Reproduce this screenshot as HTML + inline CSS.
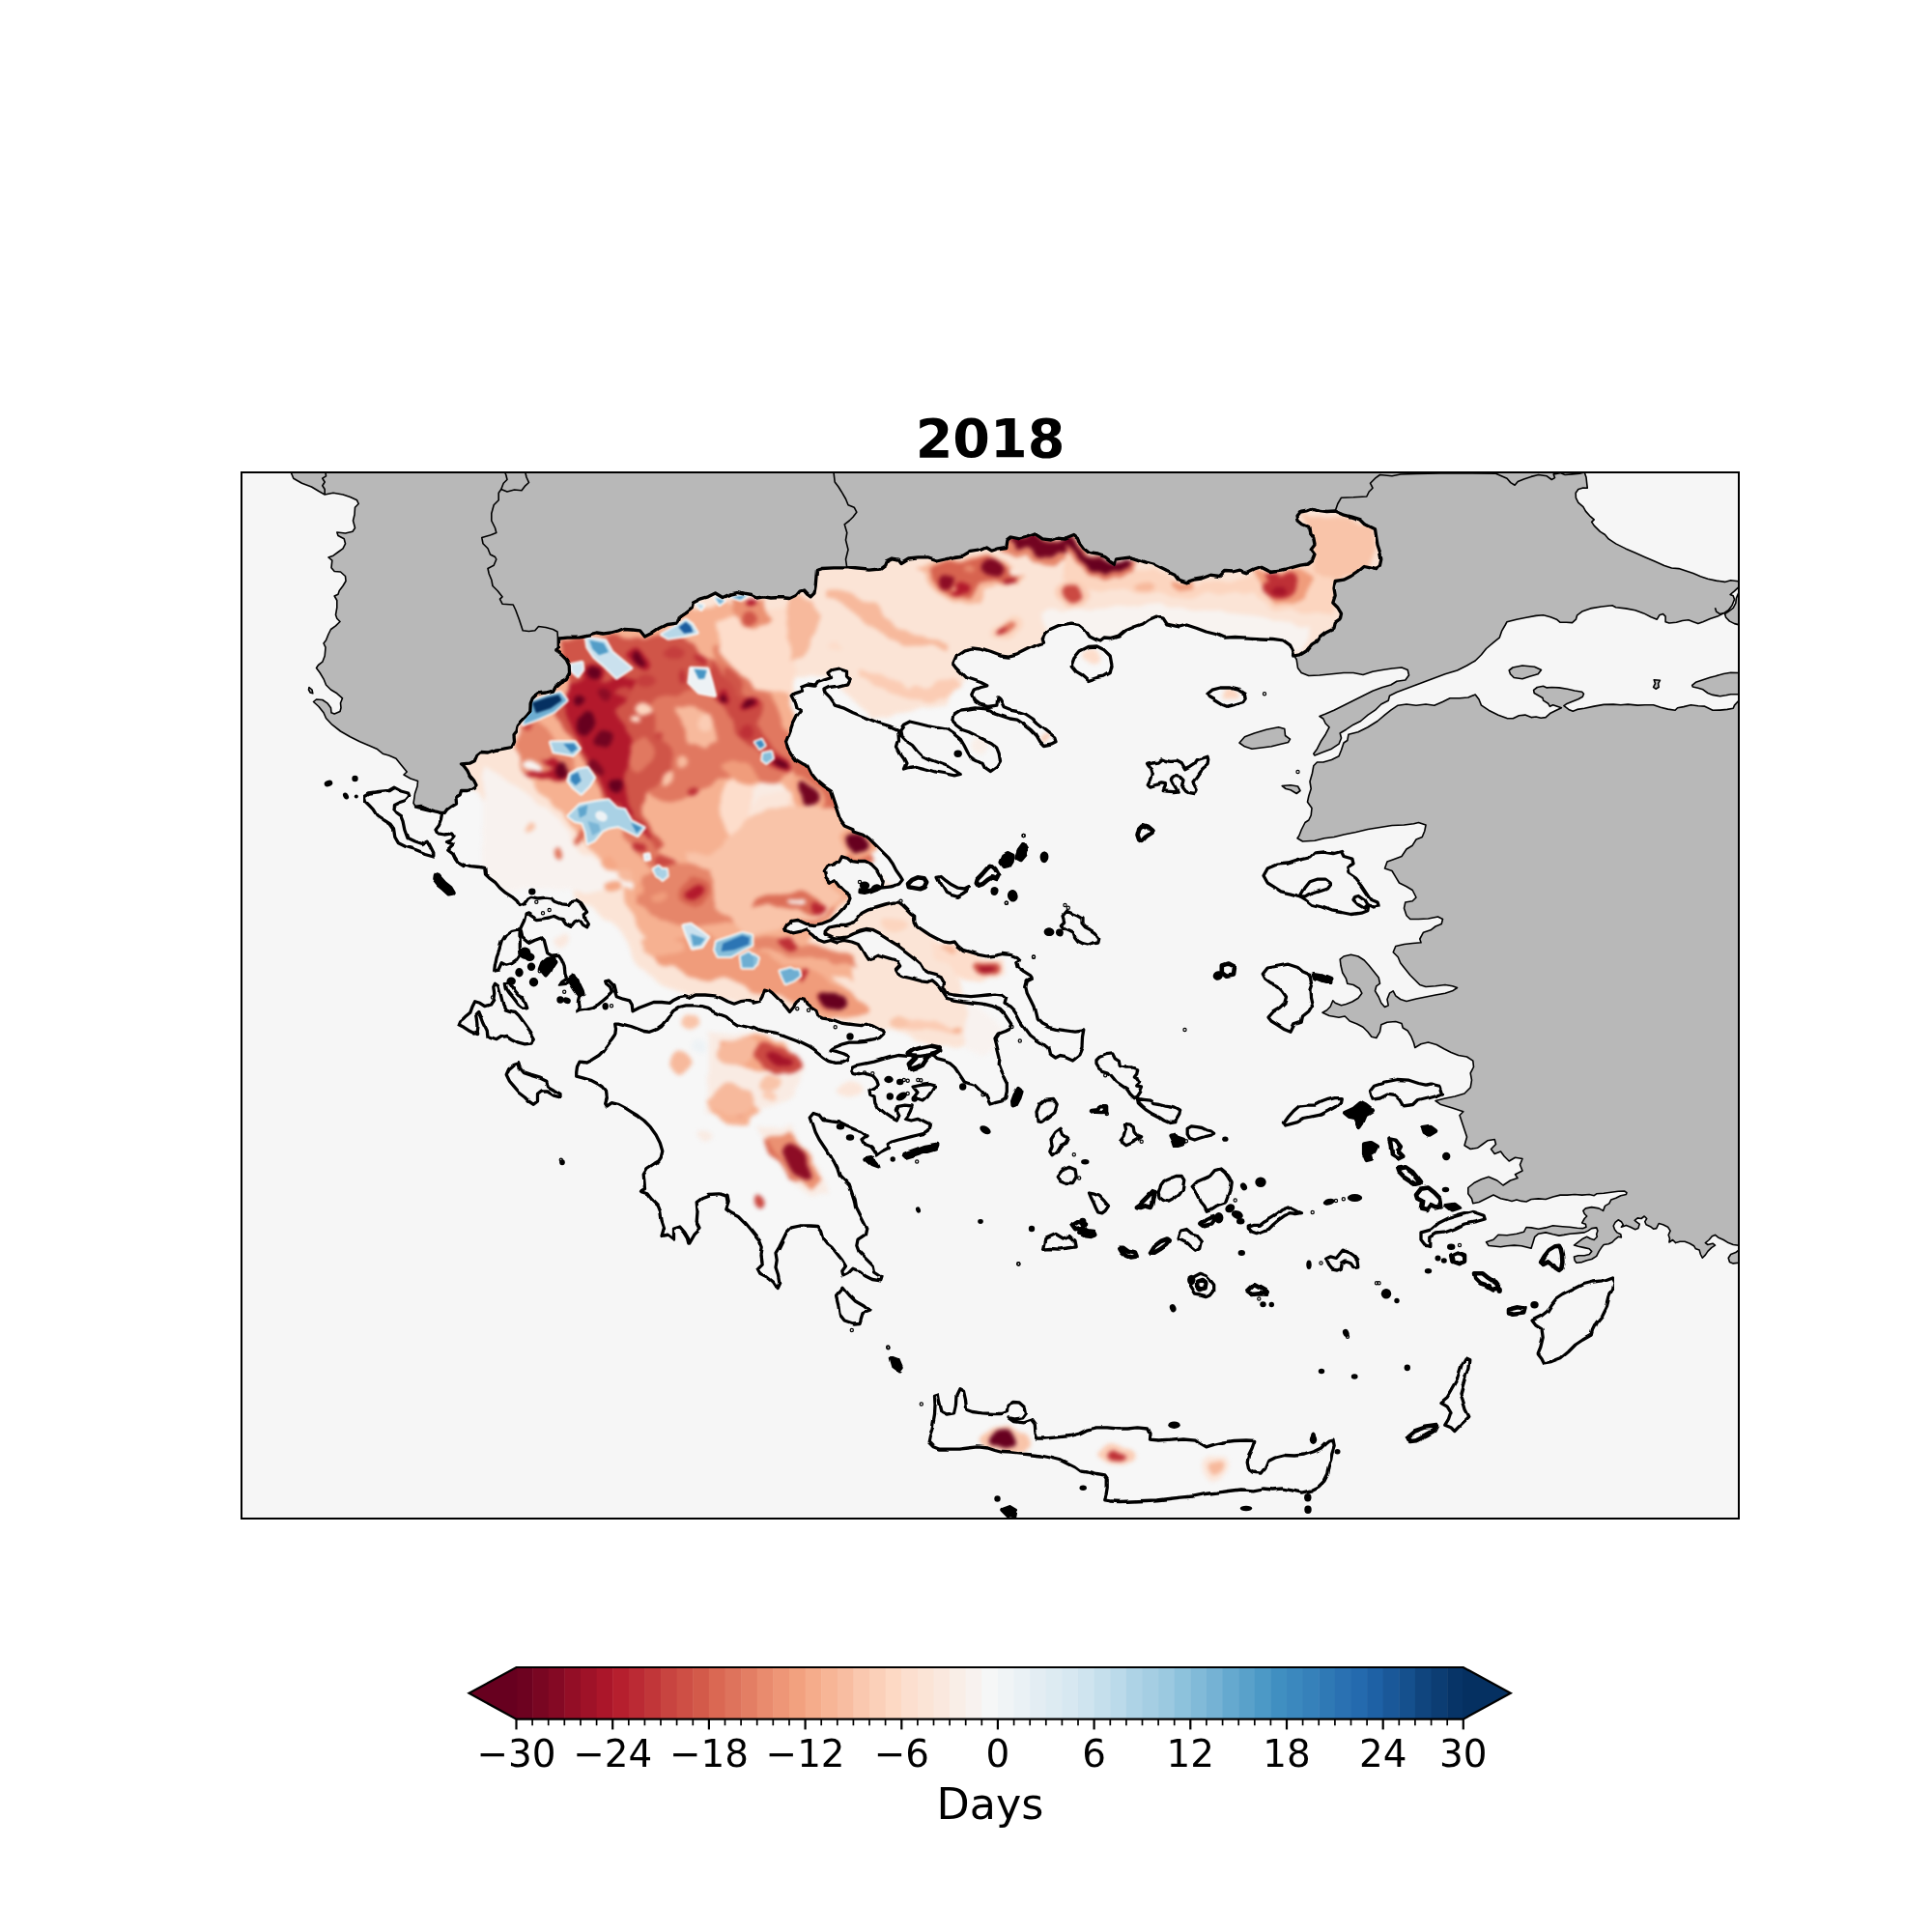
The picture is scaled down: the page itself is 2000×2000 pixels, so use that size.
<!DOCTYPE html>
<html><head><meta charset="utf-8"><title>2018</title>
<style>
html,body{margin:0;padding:0;background:#fff}
svg{display:block}
text{font-family:"DejaVu Sans","Liberation Sans",sans-serif;fill:#000}
</style></head><body>
<svg width="2000" height="2000" viewBox="0 0 2000 2000">
<rect x="0" y="0" width="2000" height="2000" fill="#ffffff"/>
<defs>
<clipPath id="frame"><rect x="250" y="489" width="1550" height="1083"/></clipPath>
<clipPath id="heatclip"><path d="M430.5,835.2 436.2,834.5 442.5,837.2 450.0,839.8 458.8,841.5 461.2,841.5 463.8,837.8 467.5,835.2 472.5,832.0 472.0,825.2 476.2,822.8 477.5,818.5 483.8,818.5 490.0,816.5 493.0,812.8 490.5,807.8 486.2,802.8 483.8,797.8 480.0,792.8 477.5,790.8 486.2,790.2 491.2,787.8 493.8,781.5 497.5,778.5 505.0,779.0 512.5,776.5 521.2,775.2 530.0,773.5 532.5,767.8 532.0,761.5 535.0,757.8 536.2,751.5 540.0,746.5 545.0,741.5 548.8,736.5 549.2,729.0 551.2,724.0 557.5,717.8 565.0,717.0 572.5,715.2 575.0,710.2 580.0,706.0 586.2,702.8 589.5,696.5 589.2,689.0 586.2,682.8 581.2,677.8 575.0,673.5 577.5,670.2 577.5,661.0 587.5,660.2 600.0,659.8 610.0,657.8 617.5,656.0 625.0,657.0 632.5,656.0 640.0,654.0 646.2,651.5 655.0,652.0 662.5,652.8 667.5,659.0 675.0,655.2 682.5,650.2 690.0,646.5 700.0,645.2 702.5,639.0 710.0,634.0 716.2,629.0 717.5,624.0 725.0,620.2 733.0,617.8 733.0,617.8 740.5,614.0 748.0,618.5 755.5,615.2 763.0,613.5 770.5,615.2 778.0,616.5 783.0,619.0 790.5,617.8 798.0,619.0 808.0,618.5 818.0,619.5 824.2,616.5 828.0,612.0 831.8,611.0 835.5,615.2 839.2,617.8 843.0,614.0 844.2,606.5 845.0,596.5 845.5,590.2 850.5,588.5 863.0,587.8 876.8,587.8 888.0,589.0 900.5,590.2 911.8,589.0 916.8,585.2 918.0,582.0 924.2,579.0 930.5,580.2 933.0,583.5 940.5,579.0 950.5,577.8 960.5,577.8 970.5,581.0 979.2,579.0 988.0,576.5 998.0,575.2 1004.2,571.5 1013.0,570.2 1020.5,567.0 1025.5,570.2 1033.0,567.8 1041.8,566.5 1043.0,559.0 1046.8,556.0 1055.5,557.8 1063.0,556.0 1071.8,552.8 1079.2,557.8 1088.0,559.0 1095.5,556.5 1103.0,557.0 1111.8,553.5 1115.5,556.5 1118.0,562.8 1121.8,567.8 1128.0,572.8 1135.5,574.0 1143.0,576.5 1149.2,581.5 1154.2,584.5 1155.5,579.0 1163.0,577.8 1170.5,577.0 1178.0,579.5 1185.5,582.0 1193.0,584.0 1200.5,587.8 1208.0,591.5 1216.0,595.2 1216.0,595.2 1219.8,600.2 1227.2,602.8 1236.0,600.2 1243.5,599.0 1253.5,595.2 1263.5,596.5 1268.5,591.5 1276.0,592.0 1283.5,590.2 1291.0,592.8 1298.5,589.0 1306.0,586.5 1311.0,589.0 1316.0,591.5 1326.0,590.2 1336.0,587.8 1346.0,585.2 1353.5,584.0 1358.5,580.2 1361.0,574.0 1357.2,569.0 1361.0,564.0 1359.8,557.8 1356.0,552.8 1354.8,545.2 1348.5,542.8 1344.0,539.0 1343.0,534.0 1346.0,530.2 1352.2,529.0 1358.5,526.5 1366.0,528.5 1373.5,529.5 1382.2,529.0 1391.0,532.8 1399.8,535.2 1408.5,537.8 1413.5,542.8 1423.5,547.8 1424.8,556.5 1426.0,564.0 1428.5,571.5 1429.8,579.0 1428.5,585.2 1424.8,589.5 1418.5,587.8 1412.2,586.5 1406.0,591.5 1398.5,596.5 1391.0,600.2 1382.2,601.5 1381.0,609.0 1382.2,616.5 1379.8,624.0 1384.8,629.0 1388.5,635.2 1387.2,641.5 1382.2,645.2 1381.0,650.2 1373.5,654.0 1367.2,659.0 1363.5,664.0 1357.2,667.8 1352.2,674.0 1346.0,677.8 1339.8,679.0 1338.5,674.0 1335.5,667.8 1328.5,662.8 1318.5,661.5 1306.0,661.0 1291.0,660.2 1278.5,659.5 1267.2,660.2 1258.5,656.5 1248.5,654.0 1238.5,650.2 1228.5,647.0 1221.0,649.0 1216.0,647.8 1216.0,647.8 1208.0,646.0 1204.2,640.2 1196.8,638.2 1189.2,641.5 1183.0,646.0 1174.2,649.0 1165.5,652.8 1158.0,659.0 1149.2,661.5 1143.0,661.0 1139.2,664.0 1135.5,662.8 1128.0,659.0 1123.0,651.5 1116.8,646.5 1108.0,645.2 1098.0,647.0 1088.0,651.5 1081.8,656.5 1079.2,661.5 1080.5,665.2 1073.0,667.8 1063.0,672.8 1053.0,677.8 1044.2,680.2 1035.5,679.0 1025.5,675.2 1015.5,672.0 1006.8,671.0 998.0,672.8 990.5,677.8 986.8,686.5 990.5,691.5 995.5,696.5 1000.5,701.5 1008.0,704.0 1015.5,706.5 1021.8,709.8 1015.5,711.5 1009.2,714.0 1006.8,719.0 1009.2,725.2 1014.2,729.0 1023.0,731.5 1031.8,730.2 1033.0,722.8 1035.5,725.2 1039.2,732.8 1045.5,735.2 1053.0,736.5 1060.5,739.0 1068.0,744.0 1073.0,749.0 1079.2,754.0 1085.5,759.0 1091.8,764.0 1093.0,767.8 1088.0,770.2 1080.5,771.5 1076.8,767.8 1073.0,761.5 1066.8,755.2 1060.5,750.2 1053.0,745.2 1045.5,744.0 1038.0,741.5 1030.5,739.0 1025.5,735.2 1018.0,733.5 1010.5,732.8 1003.0,734.0 994.2,735.2 988.0,739.0 986.8,745.2 990.5,751.5 995.5,755.2 1003.0,757.8 1010.5,761.5 1018.0,765.2 1025.5,769.0 1031.8,774.0 1034.2,780.2 1035.5,787.8 1031.8,794.0 1025.5,798.5 1020.5,795.2 1018.0,790.2 1010.5,787.8 1005.5,785.2 1001.8,779.0 998.0,771.5 994.2,765.2 988.0,760.2 980.5,755.2 970.5,753.5 960.5,751.5 950.5,749.0 941.8,747.0 935.5,750.2 931.8,755.2 933.0,761.5 938.0,766.5 945.5,771.5 950.5,777.8 955.5,782.8 963.0,786.5 973.0,790.2 983.0,794.0 990.5,799.0 994.2,801.5 988.0,802.8 979.2,801.0 968.0,799.0 958.0,796.0 948.0,793.5 940.5,794.5 935.5,796.0 938.0,790.2 935.5,785.2 931.8,780.2 928.5,774.0 930.5,766.5 930.0,759.0 929.2,755.2 920.5,751.5 908.0,747.8 895.5,742.8 883.0,737.8 873.0,732.8 864.2,730.2 859.2,722.8 854.2,717.8 853.0,714.0 858.0,711.5 868.0,710.2 876.8,707.8 879.2,702.8 875.5,699.0 875.5,694.0 869.2,692.0 861.8,693.5 858.0,696.5 860.5,701.5 853.0,704.0 845.5,706.5 843.0,710.2 835.5,709.0 829.2,711.5 830.5,715.2 821.8,717.8 819.2,720.2 822.5,726.5 824.2,732.8 829.2,735.2 824.2,741.5 820.5,749.0 818.0,756.5 815.5,762.8 813.5,767.8 815.5,775.2 819.2,781.5 823.0,786.5 829.2,790.2 836.8,794.0 840.5,801.5 845.5,807.8 853.0,814.0 860.5,819.0 863.0,826.5 865.5,834.0 868.0,841.5 870.5,849.0 874.2,854.0 883.0,857.8 883.3,860.0 893.3,863.3 900.0,868.3 906.7,875.0 913.3,881.7 920.0,888.3 924.2,894.2 927.5,900.8 931.7,906.7 934.2,910.8 930.8,915.0 925.0,917.5 918.3,918.3 911.7,919.2 906.7,921.7 900.0,924.2 895.0,925.3 890.0,924.7 890.3,922.0 895.0,922.3 900.0,921.3 905.0,920.3 910.0,918.7 913.3,916.3 914.2,912.5 911.7,906.7 908.3,900.8 903.3,895.8 896.7,892.5 890.0,892.5 883.3,891.7 878.3,887.5 872.5,885.8 870.0,890.8 863.3,895.0 856.7,896.7 853.3,901.7 855.0,908.3 859.2,913.3 863.3,910.8 866.7,915.0 870.0,919.2 873.3,922.5 878.3,925.8 880.0,930.0 878.3,934.2 875.8,936.7 873.3,940.0 866.7,946.7 860.0,952.5 851.7,955.8 843.3,957.5 833.3,956.3 825.0,952.5 819.2,953.3 815.0,956.7 812.5,960.8 813.3,963.3 820.0,965.8 828.3,964.2 835.0,961.7 841.7,966.7 846.7,971.7 853.3,974.2 860.0,972.5 866.7,975.0 873.3,973.3 881.7,975.0 888.3,977.5 891.7,982.5 895.0,988.3 898.3,993.3 903.3,991.7 908.3,989.2 913.3,990.8 921.7,993.3 929.2,995.8 931.7,1000.0 927.5,1004.2 930.0,1008.3 935.0,1010.8 941.7,1012.5 948.3,1014.2 955.0,1015.8 960.8,1016.7 965.0,1014.7 969.2,1018.3 973.3,1023.3 976.7,1028.3 980.0,1033.3 986.7,1035.0 996.7,1036.7 1006.7,1038.0 1016.7,1039.2 1026.7,1041.7 1035.0,1045.0 1040.0,1050.0 1043.3,1055.0 1046.7,1060.0 1045.0,1065.0 1040.0,1067.5 1033.3,1070.0 1030.0,1075.0 1031.7,1081.7 1033.3,1088.3 1035.0,1095.0 1034.2,1101.7 1036.7,1108.3 1040.0,1115.0 1043.3,1121.7 1043.3,1130.0 1041.7,1136.7 1036.7,1140.0 1030.0,1141.7 1025.0,1143.3 1022.5,1138.3 1020.0,1133.3 1015.0,1128.3 1010.0,1123.3 1003.3,1121.7 998.3,1120.0 995.0,1115.0 991.7,1110.0 988.3,1105.0 983.3,1100.8 976.7,1098.3 970.0,1096.7 966.7,1093.3 960.0,1092.5 953.3,1093.3 946.7,1093.0 940.0,1093.3 930.0,1092.5 921.7,1094.2 913.3,1096.7 905.0,1099.2 896.7,1100.8 888.3,1102.5 882.5,1105.0 880.8,1109.2 883.3,1111.7 890.0,1112.5 896.7,1111.7 903.3,1113.3 906.7,1117.5 908.3,1122.5 905.0,1125.8 900.0,1128.3 900.8,1133.3 905.0,1135.0 905.8,1141.7 908.3,1146.7 913.3,1150.0 918.3,1154.2 923.3,1157.5 928.3,1160.0 930.8,1155.0 928.3,1150.0 930.0,1145.3 936.7,1144.2 944.2,1145.0 942.5,1150.0 940.0,1155.0 937.5,1158.3 943.3,1160.0 950.0,1158.3 956.7,1161.7 963.3,1165.0 961.7,1170.0 956.7,1173.3 950.0,1175.0 943.3,1176.7 936.7,1178.3 930.0,1180.0 923.3,1182.0 919.2,1184.5 920.5,1189.5 913.0,1193.2 908.0,1197.0 905.5,1192.0 901.8,1187.0 895.5,1184.5 893.0,1179.5 898.0,1175.8 893.0,1172.0 885.5,1169.5 876.8,1165.8 869.2,1162.0 860.5,1160.8 853.0,1159.5 849.2,1154.5 843.0,1152.5 839.2,1157.0 841.8,1164.5 844.2,1172.0 848.0,1179.5 853.0,1187.0 858.0,1194.5 863.0,1202.0 866.8,1209.5 869.2,1217.0 874.2,1222.0 879.2,1227.0 881.8,1234.5 884.2,1242.0 885.5,1249.5 889.2,1257.0 893.0,1264.5 896.8,1272.0 895.5,1278.2 888.0,1283.2 886.8,1289.5 889.2,1295.8 894.2,1300.8 899.2,1305.8 904.2,1310.8 905.5,1317.0 913.0,1322.0 911.8,1325.8 903.0,1324.5 895.5,1320.8 889.2,1315.8 883.0,1313.2 878.0,1318.2 873.0,1320.8 871.8,1315.8 875.5,1310.8 871.8,1304.5 866.8,1298.2 861.8,1292.0 856.8,1288.2 853.0,1283.2 850.5,1274.5 846.8,1269.5 838.0,1269.0 828.0,1269.0 819.2,1270.8 814.2,1275.8 810.5,1283.2 806.8,1290.8 803.0,1297.0 804.2,1304.5 803.0,1312.0 805.5,1319.5 806.8,1327.0 804.2,1332.5 800.5,1327.0 794.2,1322.0 786.8,1318.2 784.2,1313.2 789.2,1308.2 788.0,1299.5 789.2,1292.0 786.8,1285.8 781.8,1279.5 776.8,1273.2 770.5,1265.8 764.2,1259.5 756.8,1255.8 751.8,1252.0 754.2,1244.5 753.0,1238.2 745.5,1235.8 733.0,1236.5 733.0,1238.2 726.2,1240.8 721.2,1244.5 722.0,1254.5 721.2,1264.5 725.0,1272.0 718.8,1278.2 713.8,1287.0 712.5,1282.0 708.8,1275.8 703.8,1270.0 697.5,1272.0 697.5,1283.2 691.2,1278.2 685.0,1279.5 687.5,1270.8 685.0,1263.2 683.8,1254.5 681.2,1248.2 675.0,1242.0 670.0,1235.8 662.5,1233.2 667.5,1230.8 667.0,1224.5 666.2,1215.8 670.0,1209.5 677.5,1204.5 681.7,1202.0 684.2,1198.3 685.8,1191.7 683.3,1183.3 679.2,1175.0 673.3,1166.7 666.7,1160.0 660.0,1155.0 653.3,1150.8 646.7,1146.7 640.0,1143.3 633.3,1141.7 628.3,1145.0 626.7,1142.5 628.3,1136.7 627.5,1130.0 623.3,1125.0 618.3,1121.7 611.7,1118.3 603.3,1115.8 596.7,1114.2 596.7,1110.0 597.5,1104.2 600.0,1099.2 606.7,1100.0 613.3,1096.7 620.0,1092.5 625.0,1087.5 629.2,1081.7 633.3,1076.7 636.7,1071.7 637.5,1065.0 636.7,1059.2 640.0,1059.2 646.7,1060.8 653.3,1062.5 660.0,1065.0 666.7,1067.5 673.3,1068.3 680.0,1065.8 685.0,1062.5 690.0,1056.7 693.3,1051.7 696.7,1046.7 703.3,1042.5 710.0,1040.8 718.3,1040.8 726.7,1041.7 733.3,1043.3 738.3,1046.7 745.0,1050.0 751.7,1052.5 756.7,1056.7 763.3,1060.8 771.7,1062.5 778.3,1064.2 780.0,1063.3 785.0,1065.8 791.7,1067.5 798.3,1068.3 805.0,1069.7 811.7,1071.7 818.3,1074.2 825.0,1076.7 831.7,1080.0 838.3,1083.3 843.3,1086.7 848.3,1090.8 853.3,1095.0 858.3,1098.3 865.0,1100.3 871.7,1100.0 876.7,1097.5 878.3,1093.3 873.3,1090.8 866.7,1088.7 860.0,1087.0 861.7,1085.3 866.7,1083.3 873.3,1080.8 880.0,1079.2 888.3,1079.2 896.7,1078.3 905.0,1076.7 911.7,1074.2 915.8,1070.0 914.2,1066.7 908.3,1064.2 901.7,1060.8 896.7,1059.2 891.7,1061.7 885.0,1060.8 878.3,1060.0 871.7,1059.2 865.0,1056.7 858.3,1055.0 851.7,1054.2 846.7,1051.7 845.0,1046.7 840.0,1043.3 835.0,1039.2 832.5,1034.2 828.3,1033.3 824.2,1036.7 821.7,1042.5 817.5,1047.5 814.2,1043.3 810.0,1038.3 805.0,1033.3 800.0,1028.3 795.8,1025.0 792.5,1024.2 790.0,1031.7 786.7,1037.5 780.0,1039.2 780.0,1037.5 773.3,1035.8 766.7,1036.7 760.0,1039.2 753.3,1036.7 746.7,1033.3 740.0,1030.8 730.0,1030.0 720.0,1030.0 713.3,1033.3 708.3,1031.7 703.3,1032.5 696.7,1035.8 693.3,1038.3 685.0,1037.5 676.7,1037.5 668.3,1040.8 661.7,1043.3 655.0,1046.7 654.2,1040.0 651.7,1035.8 645.0,1034.2 638.3,1031.7 636.7,1026.7 635.0,1020.0 630.0,1015.0 626.7,1015.8 627.5,1018.3 631.7,1021.7 633.3,1026.7 630.0,1030.0 625.0,1034.2 620.0,1038.3 613.3,1042.5 606.7,1044.2 600.0,1045.0 596.7,1046.7 599.2,1041.7 598.3,1036.7 600.0,1030.0 603.3,1028.3 600.0,1023.3 596.7,1016.7 595.0,1010.0 590.0,1013.3 586.7,1018.3 580.0,1019.2 581.7,1016.7 586.7,1013.3 585.0,1008.3 584.2,1000.0 581.7,993.3 578.3,988.3 570.8,989.2 566.7,986.7 565.0,980.0 563.3,973.3 560.0,970.0 553.3,972.5 546.7,975.8 540.8,970.8 538.7,961.3 542.5,953.3 544.2,946.7 546.7,945.8 551.7,949.2 556.7,951.7 563.3,950.8 568.3,950.0 573.3,948.3 578.3,950.8 583.3,951.7 586.7,956.7 591.7,959.2 595.0,955.0 599.2,953.3 602.5,958.3 606.7,960.8 608.3,956.7 605.0,951.7 604.2,946.7 607.5,944.2 605.0,940.0 601.7,935.0 596.7,931.7 591.7,932.5 588.3,936.7 581.7,935.8 575.0,933.3 571.7,930.0 565.0,929.2 556.7,930.0 550.0,928.3 546.7,930.0 542.5,935.8 538.3,937.5 535.0,932.5 530.0,928.3 523.3,924.2 517.5,919.2 512.5,913.3 506.7,909.2 502.5,905.0 501.7,898.3 496.7,897.5 488.3,896.7 480.0,895.0 480.0,896.5 473.8,892.8 471.2,889.0 468.8,884.0 463.8,880.2 466.2,877.8 470.0,874.0 462.5,871.5 467.0,870.2 470.0,866.5 467.5,862.8 460.0,864.0 453.8,862.8 452.0,859.0 455.5,854.5 457.5,849.0 458.8,842.0Z"/><path d="M854.2,966.7 854.2,964.2 858.3,960.0 866.7,958.3 875.0,958.3 883.3,955.8 888.3,950.0 893.3,944.2 900.0,940.8 908.3,938.3 916.7,935.8 925.0,934.2 930.8,934.2 935.0,937.5 939.2,941.7 943.3,945.8 946.7,948.3 946.7,953.3 949.2,958.3 953.3,961.7 958.3,965.0 963.3,968.3 970.0,971.7 976.7,975.0 983.3,975.8 988.3,975.0 991.7,979.2 996.7,983.3 1005.0,985.8 1013.3,988.3 1021.7,990.0 1030.0,989.2 1038.3,987.5 1046.7,988.3 1053.3,990.8 1055.8,993.3 1051.7,995.8 1053.3,1001.7 1060.0,1006.7 1066.7,1010.8 1068.3,1013.3 1063.3,1015.8 1061.7,1021.7 1063.3,1028.3 1066.7,1035.0 1070.0,1041.7 1071.7,1048.3 1073.3,1055.0 1078.3,1060.0 1085.0,1063.3 1093.3,1065.3 1102.0,1066.7 1113.0,1068.2 1121.8,1067.0 1120.5,1074.5 1120.0,1084.5 1116.8,1092.0 1110.5,1097.0 1102.0,1093.3 1096.7,1092.5 1091.7,1095.0 1086.7,1091.7 1085.0,1085.0 1080.0,1080.8 1073.3,1076.7 1066.7,1071.7 1061.7,1065.0 1056.7,1058.3 1053.3,1051.7 1050.0,1046.7 1045.0,1041.7 1040.0,1039.2 1041.7,1033.3 1037.5,1030.0 1030.0,1029.2 1021.7,1030.0 1013.3,1030.8 1005.0,1031.7 996.7,1030.8 988.3,1030.0 980.0,1028.3 976.7,1022.5 977.5,1016.7 974.2,1010.8 968.3,1008.3 961.7,1006.7 956.7,1003.3 953.3,997.5 948.3,993.3 943.3,989.2 936.7,984.2 930.0,979.2 923.3,975.0 916.7,970.8 910.0,966.7 903.3,963.3 896.7,962.5 890.0,964.2 883.3,966.7 876.7,970.0 870.0,970.8 863.3,970.8 858.3,968.3Z"/><path d="M967.5,1445.2 971.2,1444.0 972.5,1451.5 975.0,1461.5 980.0,1464.0 987.5,1462.8 989.5,1454.0 990.0,1444.0 993.0,1437.8 997.5,1440.2 999.5,1449.0 1000.5,1459.0 1007.5,1461.5 1017.5,1462.8 1027.5,1463.5 1037.5,1463.5 1042.5,1461.5 1043.0,1455.2 1048.8,1451.5 1056.2,1452.0 1061.2,1456.5 1062.5,1462.8 1058.8,1467.8 1051.2,1469.0 1045.0,1467.8 1050.0,1471.5 1060.0,1472.8 1067.5,1470.2 1071.2,1475.2 1072.0,1484.0 1073.8,1489.0 1082.5,1489.0 1095.0,1487.8 1107.5,1486.5 1117.5,1484.0 1125.0,1480.2 1135.0,1477.8 1146.2,1477.8 1157.5,1479.0 1167.5,1479.0 1177.5,1477.8 1187.5,1479.0 1190.0,1484.0 1189.5,1490.2 1200.0,1491.0 1212.5,1490.2 1225.0,1489.0 1237.5,1490.2 1242.5,1494.0 1248.8,1497.8 1257.5,1495.2 1267.5,1492.8 1277.5,1491.5 1290.0,1491.0 1298.8,1491.5 1296.2,1499.0 1292.5,1506.5 1291.2,1514.0 1292.5,1520.2 1297.5,1524.0 1305.0,1525.2 1310.0,1519.0 1312.5,1512.8 1320.0,1509.0 1330.0,1506.5 1340.0,1507.0 1350.0,1506.0 1360.0,1502.8 1367.5,1499.0 1372.5,1494.0 1376.2,1491.0 1380.0,1490.2 1381.2,1496.5 1378.8,1504.0 1377.5,1511.5 1375.0,1519.0 1373.8,1526.5 1370.0,1534.0 1365.0,1539.0 1357.5,1542.8 1347.5,1545.2 1337.5,1542.8 1327.5,1541.0 1317.5,1542.0 1307.5,1541.0 1297.5,1542.8 1285.0,1542.0 1272.5,1543.5 1260.0,1545.2 1247.5,1546.5 1235.0,1549.0 1222.5,1550.2 1210.0,1551.5 1197.5,1552.8 1185.0,1553.5 1172.5,1554.0 1160.0,1554.5 1150.0,1554.0 1143.8,1552.8 1145.0,1546.5 1146.2,1539.0 1146.2,1531.5 1143.8,1527.8 1135.0,1526.5 1125.0,1524.0 1117.5,1522.8 1112.5,1519.0 1105.0,1515.2 1097.5,1511.5 1087.5,1509.0 1077.5,1507.0 1067.5,1506.0 1057.5,1505.2 1047.5,1504.0 1037.5,1503.5 1030.0,1501.5 1022.5,1499.0 1012.5,1497.8 1002.5,1499.0 992.5,1500.2 982.5,1500.2 972.5,1500.2 966.2,1497.8 961.2,1492.8 962.5,1486.5 965.0,1479.0 966.2,1471.5 967.5,1464.0 968.0,1454.0Z"/><path d="M1109.2,689.0 1111.8,681.5 1118.0,674.0 1126.8,669.5 1135.5,669.0 1143.0,672.8 1149.2,679.0 1151.0,689.0 1149.2,696.5 1143.0,700.2 1135.5,701.5 1126.8,704.5 1120.5,699.0 1114.2,695.2Z"/><path d="M1250.0,718.3 1255.0,714.2 1263.3,712.0 1273.3,712.0 1281.7,714.2 1288.3,718.3 1289.2,723.3 1286.7,726.7 1278.3,729.2 1270.0,731.3 1265.0,729.2 1258.3,725.0 1252.5,721.7Z"/></clipPath>
<filter id="hblur" x="-5%" y="-5%" width="110%" height="110%" color-interpolation-filters="sRGB"><feTurbulence type="fractalNoise" baseFrequency="0.035" numOctaves="2" seed="7" result="n"/><feDisplacementMap in="SourceGraphic" in2="n" scale="16" xChannelSelector="R" yChannelSelector="G" result="d"/><feGaussianBlur in="d" stdDeviation="2.2"/></filter>
<filter id="bblur" x="-5%" y="-5%" width="110%" height="110%" color-interpolation-filters="sRGB"><feGaussianBlur stdDeviation="0.9"/></filter>
<filter id="rough" x="0" y="0" width="100%" height="100%" filterUnits="objectBoundingBox"><feTurbulence type="fractalNoise" baseFrequency="0.06" numOctaves="1" seed="3" result="n"/><feDisplacementMap in="SourceGraphic" in2="n" scale="4.5" xChannelSelector="R" yChannelSelector="G"/></filter>
</defs>
<g clip-path="url(#frame)">
<rect x="250" y="489" width="1550" height="1083" fill="#f6f6f6"/>
<g fill="#b8b8b8" stroke="#000" stroke-width="1.6" stroke-linejoin="round">
<path d="M301.2,480.0 301.2,489.0 303.8,495.2 312.5,500.2 322.5,504.0 330.0,508.5 336.2,512.0 345.0,510.2 355.0,512.0 362.5,514.5 369.5,517.8 371.2,521.5 367.5,525.2 367.0,532.8 365.5,539.0 367.5,546.5 365.0,550.2 357.5,552.0 348.8,551.0 350.0,554.5 356.2,557.8 357.5,562.8 355.0,567.8 350.0,571.5 345.0,575.2 340.0,577.0 343.8,580.2 343.0,587.8 346.2,591.5 352.5,592.0 357.5,596.5 358.0,601.5 355.0,606.5 351.2,611.5 350.0,615.2 346.2,617.0 348.8,621.5 348.8,629.0 347.5,636.5 348.8,640.2 352.0,643.5 347.5,647.8 342.5,651.5 340.0,656.5 337.5,662.8 335.0,666.0 337.0,670.2 336.2,679.0 333.8,685.2 329.5,688.5 327.5,691.5 331.2,696.5 335.0,702.8 337.5,709.0 342.5,714.0 348.8,717.8 354.5,722.8 352.5,727.8 353.0,732.8 352.0,736.5 346.2,739.0 343.0,737.8 342.5,732.8 338.8,727.8 333.8,724.5 327.5,724.0 324.5,726.5 330.0,731.5 335.0,737.8 337.5,743.5 343.8,750.2 352.5,757.0 362.5,762.8 372.5,767.8 382.5,772.0 390.0,775.2 396.2,780.2 402.5,782.0 410.0,785.2 415.0,791.5 421.2,799.0 418.0,802.0 425.0,806.0 432.5,808.5 432.0,814.0 429.5,821.5 428.8,826.5 428.0,831.5 430.5,835.2 436.2,834.5 442.5,837.2 450.0,839.8 458.8,841.5 461.2,841.5 463.8,837.8 467.5,835.2 472.5,832.0 472.0,825.2 476.2,822.8 477.5,818.5 483.8,818.5 490.0,816.5 493.0,812.8 490.5,807.8 486.2,802.8 483.8,797.8 480.0,792.8 477.5,790.8 486.2,790.2 491.2,787.8 493.8,781.5 497.5,778.5 505.0,779.0 512.5,776.5 521.2,775.2 530.0,773.5 532.5,767.8 532.0,761.5 535.0,757.8 536.2,751.5 540.0,746.5 545.0,741.5 548.8,736.5 549.2,729.0 551.2,724.0 557.5,717.8 565.0,717.0 572.5,715.2 575.0,710.2 580.0,706.0 586.2,702.8 589.5,696.5 589.2,689.0 586.2,682.8 581.2,677.8 575.0,673.5 577.5,670.2 577.5,661.0 587.5,660.2 600.0,659.8 610.0,657.8 617.5,656.0 625.0,657.0 632.5,656.0 640.0,654.0 646.2,651.5 655.0,652.0 662.5,652.8 667.5,659.0 675.0,655.2 682.5,650.2 690.0,646.5 700.0,645.2 702.5,639.0 710.0,634.0 716.2,629.0 717.5,624.0 725.0,620.2 733.0,617.8 733.0,617.8 740.5,614.0 748.0,618.5 755.5,615.2 763.0,613.5 770.5,615.2 778.0,616.5 783.0,619.0 790.5,617.8 798.0,619.0 808.0,618.5 818.0,619.5 824.2,616.5 828.0,612.0 831.8,611.0 835.5,615.2 839.2,617.8 843.0,614.0 844.2,606.5 845.0,596.5 845.5,590.2 850.5,588.5 863.0,587.8 876.8,587.8 888.0,589.0 900.5,590.2 911.8,589.0 916.8,585.2 918.0,582.0 924.2,579.0 930.5,580.2 933.0,583.5 940.5,579.0 950.5,577.8 960.5,577.8 970.5,581.0 979.2,579.0 988.0,576.5 998.0,575.2 1004.2,571.5 1013.0,570.2 1020.5,567.0 1025.5,570.2 1033.0,567.8 1041.8,566.5 1043.0,559.0 1046.8,556.0 1055.5,557.8 1063.0,556.0 1071.8,552.8 1079.2,557.8 1088.0,559.0 1095.5,556.5 1103.0,557.0 1111.8,553.5 1115.5,556.5 1118.0,562.8 1121.8,567.8 1128.0,572.8 1135.5,574.0 1143.0,576.5 1149.2,581.5 1154.2,584.5 1155.5,579.0 1163.0,577.8 1170.5,577.0 1178.0,579.5 1185.5,582.0 1193.0,584.0 1200.5,587.8 1208.0,591.5 1216.0,595.2 1216.0,595.2 1219.8,600.2 1227.2,602.8 1236.0,600.2 1243.5,599.0 1253.5,595.2 1263.5,596.5 1268.5,591.5 1276.0,592.0 1283.5,590.2 1291.0,592.8 1298.5,589.0 1306.0,586.5 1311.0,589.0 1316.0,591.5 1326.0,590.2 1336.0,587.8 1346.0,585.2 1353.5,584.0 1358.5,580.2 1361.0,574.0 1357.2,569.0 1361.0,564.0 1359.8,557.8 1356.0,552.8 1354.8,545.2 1348.5,542.8 1344.0,539.0 1343.0,534.0 1346.0,530.2 1352.2,529.0 1358.5,526.5 1366.0,528.5 1373.5,529.5 1382.2,529.0 1391.0,532.8 1399.8,535.2 1408.5,537.8 1413.5,542.8 1423.5,547.8 1424.8,556.5 1426.0,564.0 1428.5,571.5 1429.8,579.0 1428.5,585.2 1424.8,589.5 1418.5,587.8 1412.2,586.5 1406.0,591.5 1398.5,596.5 1391.0,600.2 1382.2,601.5 1381.0,609.0 1382.2,616.5 1379.8,624.0 1384.8,629.0 1388.5,635.2 1387.2,641.5 1382.2,645.2 1381.0,650.2 1373.5,654.0 1367.2,659.0 1363.5,664.0 1357.2,667.8 1352.2,674.0 1346.0,677.8 1339.8,679.0 1342.2,682.8 1343.5,691.5 1347.2,696.5 1354.8,699.5 1366.0,699.0 1378.5,697.8 1391.0,696.5 1401.0,696.5 1411.0,698.5 1421.0,695.2 1431.0,693.5 1441.0,692.0 1451.0,691.0 1457.2,693.5 1458.5,699.0 1454.8,704.0 1446.0,705.2 1439.8,709.0 1431.0,711.5 1421.0,715.2 1411.0,720.2 1401.0,725.2 1391.0,730.2 1381.0,735.2 1372.2,739.0 1366.0,741.5 1369.8,744.0 1372.2,749.0 1376.0,752.8 1372.2,760.2 1367.2,767.8 1363.5,775.2 1359.8,780.2 1361.0,782.0 1368.5,779.0 1378.5,775.2 1386.0,770.2 1388.5,764.0 1387.2,759.0 1393.5,755.2 1401.0,750.2 1408.5,746.5 1416.0,740.2 1423.5,735.2 1429.8,729.0 1437.2,725.2 1438.5,720.2 1446.0,716.5 1456.0,712.8 1466.0,709.0 1476.0,705.2 1486.0,701.5 1496.0,697.8 1508.5,694.0 1518.5,689.0 1527.2,684.0 1533.5,677.8 1538.5,671.5 1546.0,665.2 1552.2,660.2 1554.8,652.8 1558.5,646.5 1560.0,643.7 1570.0,641.2 1580.0,639.3 1590.1,637.4 1597.6,636.8 1605.1,638.7 1611.4,641.2 1615.1,644.3 1621.4,644.3 1627.6,644.6 1631.4,641.2 1632.7,636.8 1637.7,633.1 1646.4,629.9 1657.7,628.0 1669.0,626.8 1672.7,628.7 1682.8,629.9 1692.8,631.8 1701.6,634.9 1709.1,638.7 1715.3,641.2 1717.8,636.8 1721.6,635.6 1724.1,638.1 1724.1,643.7 1727.9,645.0 1735.4,644.3 1741.6,642.5 1747.9,641.8 1752.9,643.7 1757.9,645.6 1762.9,643.7 1770.4,640.6 1778.0,638.1 1784.2,634.9 1789.2,631.8 1793.0,626.8 1795.5,620.5 1794.2,616.8 1791.1,615.5 1795.5,611.8 1799.5,608.0 1810.0,608.0 1810.0,601.7 1799.5,601.7 1791.7,600.7 1785.5,602.4 1776.7,601.1 1767.9,599.2 1760.4,596.7 1752.9,593.6 1745.4,591.1 1737.9,588.6 1730.4,588.0 1722.8,585.5 1712.8,581.1 1702.8,576.7 1692.8,572.3 1682.8,567.9 1672.7,562.9 1665.2,557.9 1661.5,553.5 1656.5,550.4 1650.2,544.1 1647.7,540.4 1650.2,537.9 1646.4,534.7 1641.4,529.1 1638.9,524.7 1633.9,520.3 1631.4,515.3 1631.2,510.3 1633.9,506.5 1638.9,505.0 1643.3,505.3 1642.7,500.3 1642.0,494.0 1640.2,489.0 1640.2,480.0Z"/>
<path d="M1810.0,725.7 1799.5,725.7 1795.5,730.1 1794.2,733.2 1788.0,734.4 1780.5,735.1 1773.0,735.3 1767.9,732.8 1764.2,731.1 1757.9,730.7 1750.4,729.8 1742.9,731.6 1736.6,732.8 1734.1,735.3 1726.6,734.1 1719.1,732.3 1711.6,729.8 1702.8,729.8 1695.3,730.1 1685.3,729.1 1677.8,729.8 1670.2,729.1 1660.2,729.4 1650.2,731.1 1640.2,733.2 1632.7,734.4 1628.3,736.3 1623.9,734.4 1618.9,730.7 1621.4,728.8 1627.6,726.3 1633.9,723.8 1638.3,721.3 1639.5,718.2 1637.7,716.3 1630.1,715.0 1622.6,713.2 1613.9,711.9 1606.3,711.5 1601.3,711.9 1597.6,710.3 1591.3,711.5 1587.6,714.4 1588.2,717.5 1592.6,720.0 1597.0,722.5 1597.6,725.1 1602.6,728.2 1604.5,731.3 1607.6,729.8 1612.0,731.3 1616.4,732.8 1610.1,735.7 1605.1,738.2 1600.1,742.6 1595.1,743.2 1590.1,742.0 1585.1,742.6 1578.8,740.1 1572.5,740.7 1566.3,743.8 1560.0,743.6 1551.0,740.2 1541.0,735.2 1533.5,730.2 1531.0,724.0 1527.2,719.0 1519.8,722.0 1511.0,722.8 1501.0,722.8 1493.5,726.5 1484.8,730.2 1476.0,729.0 1466.0,730.2 1456.0,729.0 1447.2,730.2 1439.8,735.2 1433.5,740.2 1426.0,746.5 1416.0,752.8 1406.0,757.8 1396.0,760.2 1394.8,766.5 1391.0,769.0 1388.5,776.5 1386.0,782.8 1378.5,786.5 1369.8,789.0 1363.5,789.0 1359.8,792.8 1358.5,800.2 1356.0,809.0 1357.2,816.5 1354.8,824.0 1353.5,830.2 1358.0,836.5 1357.2,844.0 1354.8,849.0 1351.0,851.5 1347.2,859.0 1344.8,865.2 1343.0,867.8 1348.5,871.0 1361.0,870.2 1371.0,867.8 1381.0,866.5 1391.0,864.0 1403.5,861.5 1416.0,858.5 1428.5,856.5 1441.0,854.5 1453.5,854.0 1463.5,852.8 1468.5,851.5 1476.0,854.0 1474.8,860.2 1472.2,866.5 1466.0,869.0 1462.2,875.2 1456.0,879.0 1451.0,886.5 1441.0,890.2 1436.0,892.0 1433.5,899.0 1441.0,901.5 1444.8,907.8 1448.5,914.0 1456.0,917.8 1462.2,921.5 1466.0,929.0 1462.2,932.8 1454.8,934.0 1453.5,940.2 1456.0,947.8 1459.8,951.5 1468.5,951.5 1478.5,951.0 1488.5,949.0 1493.5,951.5 1492.2,956.5 1486.0,959.0 1481.0,962.8 1473.5,965.2 1469.8,972.0 1471.0,975.8 1462.2,976.5 1453.5,977.5 1444.8,979.5 1442.2,985.8 1447.2,990.8 1449.8,997.0 1454.8,1003.2 1459.8,1009.5 1464.8,1014.5 1469.8,1019.5 1476.0,1021.5 1486.0,1020.8 1496.0,1019.5 1503.5,1020.8 1508.5,1022.5 1503.5,1025.8 1496.0,1028.2 1486.0,1030.0 1476.0,1032.0 1466.0,1034.0 1456.0,1036.5 1449.8,1034.5 1444.8,1030.8 1442.2,1025.8 1438.5,1028.2 1436.0,1034.5 1437.2,1040.8 1433.5,1042.5 1429.8,1038.2 1427.2,1032.0 1423.5,1025.8 1424.8,1020.8 1428.5,1018.2 1427.2,1012.0 1422.2,1005.8 1417.2,999.5 1412.2,994.0 1406.0,990.0 1398.5,988.2 1391.0,990.0 1387.2,993.2 1388.0,999.5 1389.8,1007.0 1393.5,1013.2 1394.8,1018.2 1401.0,1019.5 1407.2,1023.2 1409.8,1028.2 1406.0,1033.2 1399.8,1037.0 1393.5,1039.5 1388.5,1040.8 1382.2,1038.2 1379.8,1035.8 1377.2,1042.0 1373.5,1045.8 1369.0,1048.2 1376.0,1051.5 1386.0,1053.2 1392.2,1052.0 1397.2,1057.0 1404.8,1060.0 1411.0,1063.2 1416.0,1068.2 1419.8,1073.2 1424.8,1074.5 1428.5,1068.2 1429.8,1060.8 1436.0,1058.2 1444.8,1057.5 1451.0,1059.5 1452.2,1064.0 1457.2,1067.0 1461.0,1073.2 1463.5,1079.5 1464.8,1084.5 1471.0,1080.8 1478.5,1079.0 1487.2,1081.5 1494.8,1085.8 1502.2,1089.5 1509.8,1092.5 1518.5,1094.0 1524.8,1098.2 1525.5,1104.5 1522.2,1110.8 1523.5,1118.2 1522.2,1125.8 1516.0,1132.0 1506.0,1135.0 1496.0,1137.0 1486.0,1139.5 1491.0,1143.2 1503.5,1147.0 1514.8,1150.8 1511.0,1154.5 1513.5,1162.0 1516.0,1169.5 1518.5,1177.0 1516.0,1185.8 1522.2,1189.5 1529.8,1188.2 1534.8,1184.5 1539.8,1180.8 1547.2,1179.5 1548.5,1184.5 1543.5,1189.5 1547.2,1194.5 1553.5,1192.0 1557.2,1197.0 1562.2,1202.0 1568.5,1198.2 1576.0,1199.5 1573.5,1205.8 1576.0,1212.0 1568.5,1215.8 1571.0,1219.5 1563.5,1222.0 1556.0,1227.0 1549.8,1222.0 1541.0,1218.2 1533.5,1220.8 1526.0,1224.5 1519.8,1229.5 1519.8,1235.8 1523.5,1240.8 1524.8,1245.8 1531.0,1244.5 1538.5,1240.8 1546.0,1237.0 1553.5,1240.8 1560.0,1242.1 1565.0,1243.4 1570.0,1242.1 1575.0,1243.4 1580.0,1244.0 1585.1,1241.5 1592.6,1240.9 1600.1,1241.5 1607.6,1239.0 1615.1,1237.1 1622.6,1237.1 1630.1,1236.5 1637.7,1237.1 1645.2,1236.5 1650.2,1237.7 1652.7,1235.8 1660.2,1235.2 1667.7,1234.2 1675.2,1233.3 1681.5,1233.0 1684.0,1234.6 1683.4,1236.5 1677.8,1237.7 1672.7,1240.2 1667.7,1242.1 1665.8,1245.9 1661.5,1248.4 1659.6,1253.4 1655.2,1250.9 1647.7,1249.6 1641.4,1250.9 1638.9,1253.4 1640.2,1256.5 1642.7,1259.0 1640.2,1261.5 1637.7,1265.9 1641.4,1267.2 1642.0,1270.3 1638.9,1271.6 1632.7,1271.3 1625.1,1270.3 1617.6,1269.7 1607.6,1268.8 1600.1,1270.9 1592.6,1272.2 1585.1,1270.9 1580.0,1270.5 1577.5,1275.3 1570.0,1277.2 1560.0,1278.8 1551.0,1278.2 1546.0,1283.2 1538.5,1285.8 1541.0,1289.5 1553.5,1290.8 1560.0,1289.7 1567.5,1289.1 1575.0,1289.7 1585.1,1292.2 1586.9,1286.6 1588.8,1280.3 1592.6,1277.2 1600.1,1275.9 1607.6,1277.8 1613.9,1279.1 1618.9,1278.4 1625.1,1277.2 1632.7,1276.6 1640.2,1275.9 1643.9,1274.1 1647.7,1271.6 1652.7,1270.9 1653.9,1274.1 1652.7,1277.8 1653.3,1280.3 1650.2,1283.5 1646.4,1282.2 1642.7,1280.3 1637.7,1282.8 1632.7,1286.6 1629.5,1289.1 1633.9,1290.3 1640.2,1291.6 1645.2,1292.8 1647.7,1295.4 1645.2,1298.5 1640.2,1299.7 1633.9,1299.7 1629.5,1301.0 1630.1,1304.7 1632.0,1307.3 1637.7,1306.6 1642.7,1304.7 1647.7,1303.5 1652.7,1300.4 1655.2,1295.4 1657.7,1291.6 1660.2,1288.5 1665.2,1287.8 1669.0,1286.0 1672.1,1282.8 1675.2,1280.3 1678.4,1280.9 1677.8,1277.8 1674.0,1275.9 1671.5,1272.8 1670.2,1269.0 1672.1,1265.3 1675.2,1262.8 1678.4,1264.7 1680.3,1267.8 1678.4,1270.3 1683.4,1268.4 1687.8,1270.3 1692.8,1272.8 1695.9,1271.6 1697.2,1267.2 1694.7,1265.3 1692.2,1263.4 1695.3,1260.9 1699.0,1261.5 1702.2,1259.0 1704.7,1261.5 1702.8,1264.7 1704.1,1267.8 1708.4,1269.7 1711.6,1272.2 1714.7,1271.6 1717.2,1266.5 1721.6,1267.8 1726.6,1270.3 1729.1,1274.1 1727.2,1278.4 1728.5,1282.2 1727.9,1286.0 1731.6,1283.5 1734.7,1286.6 1739.1,1285.3 1744.1,1285.3 1749.2,1287.2 1753.5,1289.7 1755.4,1292.8 1759.2,1294.1 1760.4,1298.5 1762.3,1302.2 1765.4,1299.1 1767.9,1295.4 1771.7,1291.6 1775.5,1289.1 1773.0,1287.2 1767.9,1288.5 1765.4,1286.6 1769.2,1283.5 1772.3,1279.7 1775.5,1278.4 1778.6,1280.9 1784.2,1283.5 1789.2,1286.6 1794.2,1288.5 1799.9,1289.3 1810.0,1289.3Z"/>
<path d="M1799.5,718.8 1791.7,718.8 1786.7,719.8 1780.5,720.7 1773.0,719.4 1767.9,717.5 1762.9,713.8 1757.9,712.3 1752.3,711.0 1751.7,709.4 1755.4,706.3 1762.9,703.8 1770.4,701.3 1775.5,700.0 1784.2,697.5 1791.7,696.2 1799.5,696.5 1810.0,696.5 1810.0,718.8Z"/>
<path d="M1799.5,614.3 1797.4,619.3 1796.8,624.3 1794.2,629.3 1789.2,633.1 1785.5,635.6 1786.7,639.3 1790.5,643.1 1795.5,645.6 1799.5,646.6 1810.0,646.6 1810.0,614.3Z"/>
<path d="M1799.9,1294.1 1796.8,1296.6 1791.7,1298.5 1789.2,1302.2 1790.5,1306.6 1794.2,1307.9 1799.9,1307.3 1810.0,1307.3 1810.0,1294.1Z"/>
<path d="M1283.0,769.0 1288.5,762.8 1298.5,759.0 1311.0,755.2 1323.5,752.8 1329.8,754.5 1330.5,761.5 1335.5,765.2 1333.5,768.5 1326.0,770.2 1316.0,772.8 1306.0,774.0 1296.0,775.2 1288.5,772.8Z"/>
<path d="M1327.2,813.5 1336.0,812.8 1343.5,814.0 1346.0,818.5 1342.2,821.5 1336.0,817.8 1331.0,816.5Z"/>
<path d="M1562.2,694.0 1566.0,691.0 1576.0,689.0 1588.5,690.2 1595.5,693.5 1592.2,697.8 1583.5,700.2 1576.0,702.8 1567.2,701.5 1563.5,697.8Z"/>
<path d="M1712.2,703.8 1718.5,704.2 1716.6,707.6 1717.2,711.3 1714.1,713.2 1711.6,711.3 1713.5,707.6Z"/>
<path d="M320.0,711.5 323.0,714.0 323.8,717.8 321.2,717.0 319.5,714.0Z"/>
</g>
<g fill="none" stroke="#000" stroke-width="1.6" stroke-linejoin="round">
<path d="M577.5,661.0 577.0,654.0 572.5,651.5 565.0,649.5 557.5,648.5 553.8,652.8 547.5,653.5 541.2,652.8 537.5,641.5 533.8,631.5 531.2,626.0 520.0,625.2 517.5,620.2 520.0,617.8 515.0,611.5 510.0,606.5 508.8,600.2 506.2,594.0 505.0,588.5 511.2,585.2 513.8,579.0 512.5,576.5 507.5,574.0 505.0,567.8 500.0,562.8 498.8,556.5 507.5,554.0 513.8,551.5 512.5,546.5 508.8,539.0 508.8,531.5 511.2,522.8 516.2,517.8 516.2,510.2 518.8,506.5 521.2,500.2 525.0,496.5 523.8,491.5 522.5,489.0"/>
<path d="M518.8,506.5 525.0,509.0 532.5,507.0 540.0,507.8 543.8,502.8 547.5,499.5 545.0,494.0 543.8,489.0"/>
<path d="M336.2,512.0 336.2,506.5 333.8,502.8 336.2,499.0 333.8,495.2 337.5,492.8 337.0,489.0"/>
<path d="M876.8,587.8 875.5,579.0 878.0,569.0 875.5,559.0 876.8,551.5 874.2,542.8 879.2,539.0 883.0,535.2 886.8,530.2 884.2,525.2 878.0,522.8 875.5,516.5 871.8,510.2 868.0,504.0 864.2,499.0 863.0,489.0"/>
<path d="M1382.2,529.0 1384.8,521.5 1388.5,515.2 1401.0,514.8 1414.8,514.0 1417.2,509.0 1421.0,505.2 1418.5,500.2 1423.5,495.2 1428.5,491.5 1441.0,492.8 1449.8,491.0 1466.0,490.5 1491.0,490.0 1516.0,490.0 1548.5,490.2 1560.0,495.3 1563.8,499.6 1568.1,502.2 1571.3,498.4 1577.5,495.9 1585.1,493.4 1592.6,491.5 1601.3,492.8 1606.3,496.5 1609.5,494.6 1608.2,490.9 1615.1,489.6 1620.1,491.5 1627.6,490.9 1635.2,490.3 1640.2,489.0"/>
<path d="M1775.5,629.3 1776.7,633.1 1780.5,635.6 1784.2,634.9"/>
</g>
<path d="M430.5,835.2 436.2,834.5 442.5,837.2 450.0,839.8 458.8,841.5 461.2,841.5 463.8,837.8 467.5,835.2 472.5,832.0 472.0,825.2 476.2,822.8 477.5,818.5 483.8,818.5 490.0,816.5 493.0,812.8 490.5,807.8 486.2,802.8 483.8,797.8 480.0,792.8 477.5,790.8 486.2,790.2 491.2,787.8 493.8,781.5 497.5,778.5 505.0,779.0 512.5,776.5 521.2,775.2 530.0,773.5 532.5,767.8 532.0,761.5 535.0,757.8 536.2,751.5 540.0,746.5 545.0,741.5 548.8,736.5 549.2,729.0 551.2,724.0 557.5,717.8 565.0,717.0 572.5,715.2 575.0,710.2 580.0,706.0 586.2,702.8 589.5,696.5 589.2,689.0 586.2,682.8 581.2,677.8 575.0,673.5 577.5,670.2 577.5,661.0 587.5,660.2 600.0,659.8 610.0,657.8 617.5,656.0 625.0,657.0 632.5,656.0 640.0,654.0 646.2,651.5 655.0,652.0 662.5,652.8 667.5,659.0 675.0,655.2 682.5,650.2 690.0,646.5 700.0,645.2 702.5,639.0 710.0,634.0 716.2,629.0 717.5,624.0 725.0,620.2 733.0,617.8 733.0,617.8 740.5,614.0 748.0,618.5 755.5,615.2 763.0,613.5 770.5,615.2 778.0,616.5 783.0,619.0 790.5,617.8 798.0,619.0 808.0,618.5 818.0,619.5 824.2,616.5 828.0,612.0 831.8,611.0 835.5,615.2 839.2,617.8 843.0,614.0 844.2,606.5 845.0,596.5 845.5,590.2 850.5,588.5 863.0,587.8 876.8,587.8 888.0,589.0 900.5,590.2 911.8,589.0 916.8,585.2 918.0,582.0 924.2,579.0 930.5,580.2 933.0,583.5 940.5,579.0 950.5,577.8 960.5,577.8 970.5,581.0 979.2,579.0 988.0,576.5 998.0,575.2 1004.2,571.5 1013.0,570.2 1020.5,567.0 1025.5,570.2 1033.0,567.8 1041.8,566.5 1043.0,559.0 1046.8,556.0 1055.5,557.8 1063.0,556.0 1071.8,552.8 1079.2,557.8 1088.0,559.0 1095.5,556.5 1103.0,557.0 1111.8,553.5 1115.5,556.5 1118.0,562.8 1121.8,567.8 1128.0,572.8 1135.5,574.0 1143.0,576.5 1149.2,581.5 1154.2,584.5 1155.5,579.0 1163.0,577.8 1170.5,577.0 1178.0,579.5 1185.5,582.0 1193.0,584.0 1200.5,587.8 1208.0,591.5 1216.0,595.2 1216.0,595.2 1219.8,600.2 1227.2,602.8 1236.0,600.2 1243.5,599.0 1253.5,595.2 1263.5,596.5 1268.5,591.5 1276.0,592.0 1283.5,590.2 1291.0,592.8 1298.5,589.0 1306.0,586.5 1311.0,589.0 1316.0,591.5 1326.0,590.2 1336.0,587.8 1346.0,585.2 1353.5,584.0 1358.5,580.2 1361.0,574.0 1357.2,569.0 1361.0,564.0 1359.8,557.8 1356.0,552.8 1354.8,545.2 1348.5,542.8 1344.0,539.0 1343.0,534.0 1346.0,530.2 1352.2,529.0 1358.5,526.5 1366.0,528.5 1373.5,529.5 1382.2,529.0 1391.0,532.8 1399.8,535.2 1408.5,537.8 1413.5,542.8 1423.5,547.8 1424.8,556.5 1426.0,564.0 1428.5,571.5 1429.8,579.0 1428.5,585.2 1424.8,589.5 1418.5,587.8 1412.2,586.5 1406.0,591.5 1398.5,596.5 1391.0,600.2 1382.2,601.5 1381.0,609.0 1382.2,616.5 1379.8,624.0 1384.8,629.0 1388.5,635.2 1387.2,641.5 1382.2,645.2 1381.0,650.2 1373.5,654.0 1367.2,659.0 1363.5,664.0 1357.2,667.8 1352.2,674.0 1346.0,677.8 1339.8,679.0 1338.5,674.0 1335.5,667.8 1328.5,662.8 1318.5,661.5 1306.0,661.0 1291.0,660.2 1278.5,659.5 1267.2,660.2 1258.5,656.5 1248.5,654.0 1238.5,650.2 1228.5,647.0 1221.0,649.0 1216.0,647.8 1216.0,647.8 1208.0,646.0 1204.2,640.2 1196.8,638.2 1189.2,641.5 1183.0,646.0 1174.2,649.0 1165.5,652.8 1158.0,659.0 1149.2,661.5 1143.0,661.0 1139.2,664.0 1135.5,662.8 1128.0,659.0 1123.0,651.5 1116.8,646.5 1108.0,645.2 1098.0,647.0 1088.0,651.5 1081.8,656.5 1079.2,661.5 1080.5,665.2 1073.0,667.8 1063.0,672.8 1053.0,677.8 1044.2,680.2 1035.5,679.0 1025.5,675.2 1015.5,672.0 1006.8,671.0 998.0,672.8 990.5,677.8 986.8,686.5 990.5,691.5 995.5,696.5 1000.5,701.5 1008.0,704.0 1015.5,706.5 1021.8,709.8 1015.5,711.5 1009.2,714.0 1006.8,719.0 1009.2,725.2 1014.2,729.0 1023.0,731.5 1031.8,730.2 1033.0,722.8 1035.5,725.2 1039.2,732.8 1045.5,735.2 1053.0,736.5 1060.5,739.0 1068.0,744.0 1073.0,749.0 1079.2,754.0 1085.5,759.0 1091.8,764.0 1093.0,767.8 1088.0,770.2 1080.5,771.5 1076.8,767.8 1073.0,761.5 1066.8,755.2 1060.5,750.2 1053.0,745.2 1045.5,744.0 1038.0,741.5 1030.5,739.0 1025.5,735.2 1018.0,733.5 1010.5,732.8 1003.0,734.0 994.2,735.2 988.0,739.0 986.8,745.2 990.5,751.5 995.5,755.2 1003.0,757.8 1010.5,761.5 1018.0,765.2 1025.5,769.0 1031.8,774.0 1034.2,780.2 1035.5,787.8 1031.8,794.0 1025.5,798.5 1020.5,795.2 1018.0,790.2 1010.5,787.8 1005.5,785.2 1001.8,779.0 998.0,771.5 994.2,765.2 988.0,760.2 980.5,755.2 970.5,753.5 960.5,751.5 950.5,749.0 941.8,747.0 935.5,750.2 931.8,755.2 933.0,761.5 938.0,766.5 945.5,771.5 950.5,777.8 955.5,782.8 963.0,786.5 973.0,790.2 983.0,794.0 990.5,799.0 994.2,801.5 988.0,802.8 979.2,801.0 968.0,799.0 958.0,796.0 948.0,793.5 940.5,794.5 935.5,796.0 938.0,790.2 935.5,785.2 931.8,780.2 928.5,774.0 930.5,766.5 930.0,759.0 929.2,755.2 920.5,751.5 908.0,747.8 895.5,742.8 883.0,737.8 873.0,732.8 864.2,730.2 859.2,722.8 854.2,717.8 853.0,714.0 858.0,711.5 868.0,710.2 876.8,707.8 879.2,702.8 875.5,699.0 875.5,694.0 869.2,692.0 861.8,693.5 858.0,696.5 860.5,701.5 853.0,704.0 845.5,706.5 843.0,710.2 835.5,709.0 829.2,711.5 830.5,715.2 821.8,717.8 819.2,720.2 822.5,726.5 824.2,732.8 829.2,735.2 824.2,741.5 820.5,749.0 818.0,756.5 815.5,762.8 813.5,767.8 815.5,775.2 819.2,781.5 823.0,786.5 829.2,790.2 836.8,794.0 840.5,801.5 845.5,807.8 853.0,814.0 860.5,819.0 863.0,826.5 865.5,834.0 868.0,841.5 870.5,849.0 874.2,854.0 883.0,857.8 883.3,860.0 893.3,863.3 900.0,868.3 906.7,875.0 913.3,881.7 920.0,888.3 924.2,894.2 927.5,900.8 931.7,906.7 934.2,910.8 930.8,915.0 925.0,917.5 918.3,918.3 911.7,919.2 906.7,921.7 900.0,924.2 895.0,925.3 890.0,924.7 890.3,922.0 895.0,922.3 900.0,921.3 905.0,920.3 910.0,918.7 913.3,916.3 914.2,912.5 911.7,906.7 908.3,900.8 903.3,895.8 896.7,892.5 890.0,892.5 883.3,891.7 878.3,887.5 872.5,885.8 870.0,890.8 863.3,895.0 856.7,896.7 853.3,901.7 855.0,908.3 859.2,913.3 863.3,910.8 866.7,915.0 870.0,919.2 873.3,922.5 878.3,925.8 880.0,930.0 878.3,934.2 875.8,936.7 873.3,940.0 866.7,946.7 860.0,952.5 851.7,955.8 843.3,957.5 833.3,956.3 825.0,952.5 819.2,953.3 815.0,956.7 812.5,960.8 813.3,963.3 820.0,965.8 828.3,964.2 835.0,961.7 841.7,966.7 846.7,971.7 853.3,974.2 860.0,972.5 866.7,975.0 873.3,973.3 881.7,975.0 888.3,977.5 891.7,982.5 895.0,988.3 898.3,993.3 903.3,991.7 908.3,989.2 913.3,990.8 921.7,993.3 929.2,995.8 931.7,1000.0 927.5,1004.2 930.0,1008.3 935.0,1010.8 941.7,1012.5 948.3,1014.2 955.0,1015.8 960.8,1016.7 965.0,1014.7 969.2,1018.3 973.3,1023.3 976.7,1028.3 980.0,1033.3 986.7,1035.0 996.7,1036.7 1006.7,1038.0 1016.7,1039.2 1026.7,1041.7 1035.0,1045.0 1040.0,1050.0 1043.3,1055.0 1046.7,1060.0 1045.0,1065.0 1040.0,1067.5 1033.3,1070.0 1030.0,1075.0 1031.7,1081.7 1033.3,1088.3 1035.0,1095.0 1034.2,1101.7 1036.7,1108.3 1040.0,1115.0 1043.3,1121.7 1043.3,1130.0 1041.7,1136.7 1036.7,1140.0 1030.0,1141.7 1025.0,1143.3 1022.5,1138.3 1020.0,1133.3 1015.0,1128.3 1010.0,1123.3 1003.3,1121.7 998.3,1120.0 995.0,1115.0 991.7,1110.0 988.3,1105.0 983.3,1100.8 976.7,1098.3 970.0,1096.7 966.7,1093.3 960.0,1092.5 953.3,1093.3 946.7,1093.0 940.0,1093.3 930.0,1092.5 921.7,1094.2 913.3,1096.7 905.0,1099.2 896.7,1100.8 888.3,1102.5 882.5,1105.0 880.8,1109.2 883.3,1111.7 890.0,1112.5 896.7,1111.7 903.3,1113.3 906.7,1117.5 908.3,1122.5 905.0,1125.8 900.0,1128.3 900.8,1133.3 905.0,1135.0 905.8,1141.7 908.3,1146.7 913.3,1150.0 918.3,1154.2 923.3,1157.5 928.3,1160.0 930.8,1155.0 928.3,1150.0 930.0,1145.3 936.7,1144.2 944.2,1145.0 942.5,1150.0 940.0,1155.0 937.5,1158.3 943.3,1160.0 950.0,1158.3 956.7,1161.7 963.3,1165.0 961.7,1170.0 956.7,1173.3 950.0,1175.0 943.3,1176.7 936.7,1178.3 930.0,1180.0 923.3,1182.0 919.2,1184.5 920.5,1189.5 913.0,1193.2 908.0,1197.0 905.5,1192.0 901.8,1187.0 895.5,1184.5 893.0,1179.5 898.0,1175.8 893.0,1172.0 885.5,1169.5 876.8,1165.8 869.2,1162.0 860.5,1160.8 853.0,1159.5 849.2,1154.5 843.0,1152.5 839.2,1157.0 841.8,1164.5 844.2,1172.0 848.0,1179.5 853.0,1187.0 858.0,1194.5 863.0,1202.0 866.8,1209.5 869.2,1217.0 874.2,1222.0 879.2,1227.0 881.8,1234.5 884.2,1242.0 885.5,1249.5 889.2,1257.0 893.0,1264.5 896.8,1272.0 895.5,1278.2 888.0,1283.2 886.8,1289.5 889.2,1295.8 894.2,1300.8 899.2,1305.8 904.2,1310.8 905.5,1317.0 913.0,1322.0 911.8,1325.8 903.0,1324.5 895.5,1320.8 889.2,1315.8 883.0,1313.2 878.0,1318.2 873.0,1320.8 871.8,1315.8 875.5,1310.8 871.8,1304.5 866.8,1298.2 861.8,1292.0 856.8,1288.2 853.0,1283.2 850.5,1274.5 846.8,1269.5 838.0,1269.0 828.0,1269.0 819.2,1270.8 814.2,1275.8 810.5,1283.2 806.8,1290.8 803.0,1297.0 804.2,1304.5 803.0,1312.0 805.5,1319.5 806.8,1327.0 804.2,1332.5 800.5,1327.0 794.2,1322.0 786.8,1318.2 784.2,1313.2 789.2,1308.2 788.0,1299.5 789.2,1292.0 786.8,1285.8 781.8,1279.5 776.8,1273.2 770.5,1265.8 764.2,1259.5 756.8,1255.8 751.8,1252.0 754.2,1244.5 753.0,1238.2 745.5,1235.8 733.0,1236.5 733.0,1238.2 726.2,1240.8 721.2,1244.5 722.0,1254.5 721.2,1264.5 725.0,1272.0 718.8,1278.2 713.8,1287.0 712.5,1282.0 708.8,1275.8 703.8,1270.0 697.5,1272.0 697.5,1283.2 691.2,1278.2 685.0,1279.5 687.5,1270.8 685.0,1263.2 683.8,1254.5 681.2,1248.2 675.0,1242.0 670.0,1235.8 662.5,1233.2 667.5,1230.8 667.0,1224.5 666.2,1215.8 670.0,1209.5 677.5,1204.5 681.7,1202.0 684.2,1198.3 685.8,1191.7 683.3,1183.3 679.2,1175.0 673.3,1166.7 666.7,1160.0 660.0,1155.0 653.3,1150.8 646.7,1146.7 640.0,1143.3 633.3,1141.7 628.3,1145.0 626.7,1142.5 628.3,1136.7 627.5,1130.0 623.3,1125.0 618.3,1121.7 611.7,1118.3 603.3,1115.8 596.7,1114.2 596.7,1110.0 597.5,1104.2 600.0,1099.2 606.7,1100.0 613.3,1096.7 620.0,1092.5 625.0,1087.5 629.2,1081.7 633.3,1076.7 636.7,1071.7 637.5,1065.0 636.7,1059.2 640.0,1059.2 646.7,1060.8 653.3,1062.5 660.0,1065.0 666.7,1067.5 673.3,1068.3 680.0,1065.8 685.0,1062.5 690.0,1056.7 693.3,1051.7 696.7,1046.7 703.3,1042.5 710.0,1040.8 718.3,1040.8 726.7,1041.7 733.3,1043.3 738.3,1046.7 745.0,1050.0 751.7,1052.5 756.7,1056.7 763.3,1060.8 771.7,1062.5 778.3,1064.2 780.0,1063.3 785.0,1065.8 791.7,1067.5 798.3,1068.3 805.0,1069.7 811.7,1071.7 818.3,1074.2 825.0,1076.7 831.7,1080.0 838.3,1083.3 843.3,1086.7 848.3,1090.8 853.3,1095.0 858.3,1098.3 865.0,1100.3 871.7,1100.0 876.7,1097.5 878.3,1093.3 873.3,1090.8 866.7,1088.7 860.0,1087.0 861.7,1085.3 866.7,1083.3 873.3,1080.8 880.0,1079.2 888.3,1079.2 896.7,1078.3 905.0,1076.7 911.7,1074.2 915.8,1070.0 914.2,1066.7 908.3,1064.2 901.7,1060.8 896.7,1059.2 891.7,1061.7 885.0,1060.8 878.3,1060.0 871.7,1059.2 865.0,1056.7 858.3,1055.0 851.7,1054.2 846.7,1051.7 845.0,1046.7 840.0,1043.3 835.0,1039.2 832.5,1034.2 828.3,1033.3 824.2,1036.7 821.7,1042.5 817.5,1047.5 814.2,1043.3 810.0,1038.3 805.0,1033.3 800.0,1028.3 795.8,1025.0 792.5,1024.2 790.0,1031.7 786.7,1037.5 780.0,1039.2 780.0,1037.5 773.3,1035.8 766.7,1036.7 760.0,1039.2 753.3,1036.7 746.7,1033.3 740.0,1030.8 730.0,1030.0 720.0,1030.0 713.3,1033.3 708.3,1031.7 703.3,1032.5 696.7,1035.8 693.3,1038.3 685.0,1037.5 676.7,1037.5 668.3,1040.8 661.7,1043.3 655.0,1046.7 654.2,1040.0 651.7,1035.8 645.0,1034.2 638.3,1031.7 636.7,1026.7 635.0,1020.0 630.0,1015.0 626.7,1015.8 627.5,1018.3 631.7,1021.7 633.3,1026.7 630.0,1030.0 625.0,1034.2 620.0,1038.3 613.3,1042.5 606.7,1044.2 600.0,1045.0 596.7,1046.7 599.2,1041.7 598.3,1036.7 600.0,1030.0 603.3,1028.3 600.0,1023.3 596.7,1016.7 595.0,1010.0 590.0,1013.3 586.7,1018.3 580.0,1019.2 581.7,1016.7 586.7,1013.3 585.0,1008.3 584.2,1000.0 581.7,993.3 578.3,988.3 570.8,989.2 566.7,986.7 565.0,980.0 563.3,973.3 560.0,970.0 553.3,972.5 546.7,975.8 540.8,970.8 538.7,961.3 542.5,953.3 544.2,946.7 546.7,945.8 551.7,949.2 556.7,951.7 563.3,950.8 568.3,950.0 573.3,948.3 578.3,950.8 583.3,951.7 586.7,956.7 591.7,959.2 595.0,955.0 599.2,953.3 602.5,958.3 606.7,960.8 608.3,956.7 605.0,951.7 604.2,946.7 607.5,944.2 605.0,940.0 601.7,935.0 596.7,931.7 591.7,932.5 588.3,936.7 581.7,935.8 575.0,933.3 571.7,930.0 565.0,929.2 556.7,930.0 550.0,928.3 546.7,930.0 542.5,935.8 538.3,937.5 535.0,932.5 530.0,928.3 523.3,924.2 517.5,919.2 512.5,913.3 506.7,909.2 502.5,905.0 501.7,898.3 496.7,897.5 488.3,896.7 480.0,895.0 480.0,896.5 473.8,892.8 471.2,889.0 468.8,884.0 463.8,880.2 466.2,877.8 470.0,874.0 462.5,871.5 467.0,870.2 470.0,866.5 467.5,862.8 460.0,864.0 453.8,862.8 452.0,859.0 455.5,854.5 457.5,849.0 458.8,842.0Z" fill="#f7f7f7" stroke="none"/>
<path d="M854.2,966.7 854.2,964.2 858.3,960.0 866.7,958.3 875.0,958.3 883.3,955.8 888.3,950.0 893.3,944.2 900.0,940.8 908.3,938.3 916.7,935.8 925.0,934.2 930.8,934.2 935.0,937.5 939.2,941.7 943.3,945.8 946.7,948.3 946.7,953.3 949.2,958.3 953.3,961.7 958.3,965.0 963.3,968.3 970.0,971.7 976.7,975.0 983.3,975.8 988.3,975.0 991.7,979.2 996.7,983.3 1005.0,985.8 1013.3,988.3 1021.7,990.0 1030.0,989.2 1038.3,987.5 1046.7,988.3 1053.3,990.8 1055.8,993.3 1051.7,995.8 1053.3,1001.7 1060.0,1006.7 1066.7,1010.8 1068.3,1013.3 1063.3,1015.8 1061.7,1021.7 1063.3,1028.3 1066.7,1035.0 1070.0,1041.7 1071.7,1048.3 1073.3,1055.0 1078.3,1060.0 1085.0,1063.3 1093.3,1065.3 1102.0,1066.7 1113.0,1068.2 1121.8,1067.0 1120.5,1074.5 1120.0,1084.5 1116.8,1092.0 1110.5,1097.0 1102.0,1093.3 1096.7,1092.5 1091.7,1095.0 1086.7,1091.7 1085.0,1085.0 1080.0,1080.8 1073.3,1076.7 1066.7,1071.7 1061.7,1065.0 1056.7,1058.3 1053.3,1051.7 1050.0,1046.7 1045.0,1041.7 1040.0,1039.2 1041.7,1033.3 1037.5,1030.0 1030.0,1029.2 1021.7,1030.0 1013.3,1030.8 1005.0,1031.7 996.7,1030.8 988.3,1030.0 980.0,1028.3 976.7,1022.5 977.5,1016.7 974.2,1010.8 968.3,1008.3 961.7,1006.7 956.7,1003.3 953.3,997.5 948.3,993.3 943.3,989.2 936.7,984.2 930.0,979.2 923.3,975.0 916.7,970.8 910.0,966.7 903.3,963.3 896.7,962.5 890.0,964.2 883.3,966.7 876.7,970.0 870.0,970.8 863.3,970.8 858.3,968.3Z" fill="#f7f7f7" stroke="none"/>
<path d="M967.5,1445.2 971.2,1444.0 972.5,1451.5 975.0,1461.5 980.0,1464.0 987.5,1462.8 989.5,1454.0 990.0,1444.0 993.0,1437.8 997.5,1440.2 999.5,1449.0 1000.5,1459.0 1007.5,1461.5 1017.5,1462.8 1027.5,1463.5 1037.5,1463.5 1042.5,1461.5 1043.0,1455.2 1048.8,1451.5 1056.2,1452.0 1061.2,1456.5 1062.5,1462.8 1058.8,1467.8 1051.2,1469.0 1045.0,1467.8 1050.0,1471.5 1060.0,1472.8 1067.5,1470.2 1071.2,1475.2 1072.0,1484.0 1073.8,1489.0 1082.5,1489.0 1095.0,1487.8 1107.5,1486.5 1117.5,1484.0 1125.0,1480.2 1135.0,1477.8 1146.2,1477.8 1157.5,1479.0 1167.5,1479.0 1177.5,1477.8 1187.5,1479.0 1190.0,1484.0 1189.5,1490.2 1200.0,1491.0 1212.5,1490.2 1225.0,1489.0 1237.5,1490.2 1242.5,1494.0 1248.8,1497.8 1257.5,1495.2 1267.5,1492.8 1277.5,1491.5 1290.0,1491.0 1298.8,1491.5 1296.2,1499.0 1292.5,1506.5 1291.2,1514.0 1292.5,1520.2 1297.5,1524.0 1305.0,1525.2 1310.0,1519.0 1312.5,1512.8 1320.0,1509.0 1330.0,1506.5 1340.0,1507.0 1350.0,1506.0 1360.0,1502.8 1367.5,1499.0 1372.5,1494.0 1376.2,1491.0 1380.0,1490.2 1381.2,1496.5 1378.8,1504.0 1377.5,1511.5 1375.0,1519.0 1373.8,1526.5 1370.0,1534.0 1365.0,1539.0 1357.5,1542.8 1347.5,1545.2 1337.5,1542.8 1327.5,1541.0 1317.5,1542.0 1307.5,1541.0 1297.5,1542.8 1285.0,1542.0 1272.5,1543.5 1260.0,1545.2 1247.5,1546.5 1235.0,1549.0 1222.5,1550.2 1210.0,1551.5 1197.5,1552.8 1185.0,1553.5 1172.5,1554.0 1160.0,1554.5 1150.0,1554.0 1143.8,1552.8 1145.0,1546.5 1146.2,1539.0 1146.2,1531.5 1143.8,1527.8 1135.0,1526.5 1125.0,1524.0 1117.5,1522.8 1112.5,1519.0 1105.0,1515.2 1097.5,1511.5 1087.5,1509.0 1077.5,1507.0 1067.5,1506.0 1057.5,1505.2 1047.5,1504.0 1037.5,1503.5 1030.0,1501.5 1022.5,1499.0 1012.5,1497.8 1002.5,1499.0 992.5,1500.2 982.5,1500.2 972.5,1500.2 966.2,1497.8 961.2,1492.8 962.5,1486.5 965.0,1479.0 966.2,1471.5 967.5,1464.0 968.0,1454.0Z" fill="#f7f7f7" stroke="none"/>
<path d="M1109.2,689.0 1111.8,681.5 1118.0,674.0 1126.8,669.5 1135.5,669.0 1143.0,672.8 1149.2,679.0 1151.0,689.0 1149.2,696.5 1143.0,700.2 1135.5,701.5 1126.8,704.5 1120.5,699.0 1114.2,695.2Z" fill="#f7f7f7" stroke="none"/>
<path d="M1250.0,718.3 1255.0,714.2 1263.3,712.0 1273.3,712.0 1281.7,714.2 1288.3,718.3 1289.2,723.3 1286.7,726.7 1278.3,729.2 1270.0,731.3 1265.0,729.2 1258.3,725.0 1252.5,721.7Z" fill="#f7f7f7" stroke="none"/>
<g clip-path="url(#heatclip)">
<g filter="url(#hblur)">
<path d="M560.0,640.0 700.0,600.0 830.0,560.0 1000.0,540.0 1100.0,520.0 1330.0,500.0 1440.0,520.0 1440.0,600.0 1400.0,680.0 1330.0,690.0 1250.0,665.0 1200.0,655.0 1140.0,650.0 1100.0,660.0 1060.0,680.0 1000.0,700.0 980.0,730.0 900.0,745.0 860.0,700.0 800.0,700.0 800.0,740.0 830.0,800.0 860.0,850.0 900.0,900.0 940.0,930.0 960.0,960.0 985.0,1000.0 1000.0,1040.0 1010.0,1075.0 990.0,1085.0 960.0,1080.0 930.0,1070.0 900.0,1062.0 850.0,1055.0 800.0,1045.0 760.0,1040.0 700.0,1030.0 660.0,1000.0 640.0,960.0 600.0,930.0 570.0,890.0 540.0,860.0 500.0,830.0 470.0,800.0 500.0,760.0 530.0,720.0Z" fill="#fbe4d6"/>
<path d="M1000.0,1040.0 1030.0,1055.0 1040.0,1080.0 1020.0,1095.0 1000.0,1085.0Z" fill="#f8f2ef"/>
<path d="M733.0,1067.0 815.5,1077.0 833.0,1102.0 823.0,1132.0 795.5,1147.0 758.0,1157.0 733.0,1152.0Z" fill="#f9ebe3"/>
<path d="M783.0,1167.0 815.5,1167.0 850.5,1209.5 858.0,1237.0 838.0,1239.5 808.0,1209.5Z" fill="#f9ebe3"/>
<path d="M581.2,661.2 736.4,624.9 793.4,635.3 814.1,697.4 829.6,769.9 865.8,842.3 907.2,894.1 865.8,945.8 834.8,976.9 865.8,1018.3 896.9,1049.4 855.5,1059.7 803.7,1028.7 762.3,1008.0 710.6,997.6 669.2,976.9 643.3,925.1 607.0,873.4 555.3,811.3 534.6,769.9 555.3,712.9Z" fill="#f6b191"/>
<path d="M814.1,769.9 845.1,790.6 886.5,852.7 907.2,894.1 886.5,904.4 855.5,863.0 824.4,821.6 803.7,790.6Z" fill="#dc6e57"/>
<path d="M710.6,676.7 762.3,666.3 793.4,707.7 814.1,769.9 803.7,790.6 772.7,769.9 752.0,728.4 720.9,707.7Z" fill="#e6866a"/>
<path d="M689.9,904.4 731.3,894.1 762.3,925.1 814.1,935.5 855.5,925.1 865.8,945.8 824.4,961.4 762.3,956.2 720.9,945.8Z" fill="#e17860"/>
<path d="M669.2,976.9 720.9,966.5 793.4,987.2 845.1,1008.0 896.9,1044.2 865.8,1054.5 814.1,1033.8 762.3,1018.3 710.6,1008.0 679.5,997.6Z" fill="#f09c7b"/>
<ellipse cx="793.4" cy="842.3" rx="45.0" ry="55.0" fill="#fdddcb" transform="rotate(-30 793.4 842.3)"/>
<ellipse cx="796.0" cy="826.8" rx="20.0" ry="20.0" fill="#f9ebe3" transform="rotate(0 796.0 826.8)"/>
<path d="M580.0,661.7 716.7,626.7 736.7,650.0 741.7,686.7 760.0,716.7 783.3,733.3 796.7,766.7 816.7,800.0 822.0,808.3 822.0,825.0 791.7,808.3 766.7,800.0 741.7,816.7 725.0,841.7 691.7,833.3 675.0,850.0 691.7,883.3 716.7,908.3 725.0,922.0 691.7,922.0 666.7,891.7 641.7,875.0 616.7,866.7 600.0,841.7 583.3,816.7 550.0,808.3 536.7,791.7 541.7,763.3 566.7,741.7 583.3,716.7 590.0,691.7Z" fill="#f6b191"/>
<path d="M640.0,670.0 713.3,670.0 773.3,700.0 813.3,746.7 826.7,793.3 800.0,813.3 766.7,800.0 733.3,813.3 693.3,833.3 666.7,820.0 646.7,773.3 633.3,720.0Z" fill="#e17860"/>
<path d="M741.7,641.7 822.0,625.0 822.0,716.7 791.7,716.7 766.7,700.0 746.7,675.0Z" fill="#fdddcb"/>
<path d="M700.0,730.0 720.0,730.0 738.3,746.7 741.7,766.7 730.0,776.7 713.3,770.0 703.3,750.0Z" fill="#f7b99c"/>
<path d="M783.3,825.0 816.7,820.0 820.0,850.0 800.0,858.3 775.0,841.7Z" fill="#fbe6da"/>
<path d="M708.3,883.3 822.0,875.0 833.3,900.0 833.3,930.0 725.0,930.0Z" fill="#f9c4a9"/>
<path d="M500.0,791.7 533.3,813.3 566.7,833.3 586.7,858.3 600.0,883.3 633.3,900.0 666.7,922.0 500.0,922.0Z" fill="#f8f2ef"/>
<path d="M580.0,663.3 608.3,660.0 633.3,658.3 666.7,661.7 691.7,655.0 716.7,663.3 730.0,686.7 716.7,713.3 691.7,720.0 675.0,733.3 680.0,758.3 696.7,775.0 691.7,800.0 675.0,816.7 663.3,833.3 670.0,850.0 686.7,875.0 675.0,883.3 650.0,866.7 633.3,841.7 620.0,816.7 608.3,791.7 593.3,766.7 580.0,750.0 570.0,733.3 586.7,716.7 590.0,693.3Z" fill="#d05548"/>
<path d="M586.7,706.7 606.7,703.3 626.7,706.7 643.3,700.0 656.7,703.3 650.0,720.0 640.0,733.3 643.3,750.0 653.3,766.7 650.0,791.7 646.7,808.3 650.0,825.0 658.3,841.7 673.3,863.3 666.7,873.3 650.0,856.7 633.3,833.3 620.0,808.3 608.3,783.3 596.7,758.3 586.7,741.7 580.0,730.0Z" fill="#b3192c"/>
<ellipse cx="663.3" cy="780.0" rx="11.7" ry="20.0" fill="#e17860" transform="rotate(20 663.3 780.0)"/>
<ellipse cx="666.7" cy="703.3" rx="10.0" ry="8.3" fill="#c53e3d" transform="rotate(0 666.7 703.3)"/>
<path d="M733.3,680.0 750.0,700.0 766.7,716.7 786.7,726.7 783.3,750.0 800.0,775.0 816.7,791.7 813.3,803.3 791.7,791.7 770.0,766.7 758.3,741.7 741.7,725.0 730.0,700.0Z" fill="#cb4942"/>
<path d="M758.3,620.0 791.7,621.7 796.7,641.7 783.3,653.3 766.7,650.0 756.7,636.7Z" fill="#eb9172"/>
<path d="M538.3,750.0 558.3,746.7 575.0,766.7 591.7,783.3 593.3,803.3 575.0,810.0 550.0,806.7 538.3,796.7 536.7,766.7Z" fill="#e6866a"/>
<path d="M646.7,850.0 666.7,860.0 683.3,883.3 708.3,908.3 716.7,922.0 696.7,922.0 675.0,900.0 658.3,883.3 646.7,866.7Z" fill="#e17860"/>
<ellipse cx="666.7" cy="733.3" rx="10.0" ry="6.7" fill="#fcd5bf" transform="rotate(30 666.7 733.3)"/>
<ellipse cx="658.3" cy="745.0" rx="6.7" ry="5.0" fill="#fdddcb" transform="rotate(0 658.3 745.0)"/>
<ellipse cx="730.0" cy="750.0" rx="6.0" ry="9.3" fill="#fbccb4" transform="rotate(30 730.0 750.0)"/>
<ellipse cx="705.0" cy="788.3" rx="5.0" ry="6.7" fill="#f7b99c" transform="rotate(0 705.0 788.3)"/>
<ellipse cx="691.7" cy="805.0" rx="5.0" ry="8.3" fill="#f9c4a9" transform="rotate(10 691.7 805.0)"/>
<path d="M590.0,716.7 603.3,723.3 620.0,733.3 633.3,750.0 641.7,766.7 633.3,783.3 620.0,780.0 608.3,766.7 600.0,750.0 591.7,733.3Z" fill="#b3192c"/>
<ellipse cx="615.0" cy="696.7" rx="10.8" ry="9.2" fill="#b3192c" transform="rotate(0 615.0 696.7)"/>
<ellipse cx="660.0" cy="681.7" rx="12.5" ry="7.0" fill="#b3192c" transform="rotate(20 660.0 681.7)"/>
<path d="M615.0,783.3 626.7,791.7 641.7,805.0 650.0,816.7 636.7,821.7 626.7,810.0 616.7,796.7Z" fill="#b3192c"/>
<path d="M555.0,786.7 570.0,783.3 583.3,791.7 586.7,803.3 576.7,808.3 563.3,806.7 550.0,805.8 541.7,801.7 566.7,799.2 571.7,793.3Z" fill="#b3192c"/>
<ellipse cx="773.3" cy="726.7" rx="10.3" ry="6.7" fill="#b3192c" transform="rotate(-30 773.3 726.7)"/>
<ellipse cx="750.0" cy="723.3" rx="6.3" ry="6.3" fill="#b3192c" transform="rotate(0 750.0 723.3)"/>
<ellipse cx="808.3" cy="793.3" rx="9.7" ry="6.0" fill="#b3192c" transform="rotate(35 808.3 793.3)"/>
<ellipse cx="716.7" cy="818.3" rx="6.0" ry="5.0" fill="#be3036" transform="rotate(0 716.7 818.3)"/>
<ellipse cx="780.0" cy="623.3" rx="6.0" ry="5.0" fill="#b3192c" transform="rotate(0 780.0 623.3)"/>
<ellipse cx="773.3" cy="758.3" rx="5.0" ry="7.0" fill="#be3036" transform="rotate(0 773.3 758.3)"/>
<ellipse cx="723.3" cy="680.0" rx="6.0" ry="5.0" fill="#be3036" transform="rotate(0 723.3 680.0)"/>
<ellipse cx="706.7" cy="698.3" rx="4.2" ry="7.0" fill="#be3036" transform="rotate(15 706.7 698.3)"/>
<ellipse cx="660.0" cy="876.7" rx="8.7" ry="5.0" fill="#be3036" transform="rotate(30 660.0 876.7)"/>
<ellipse cx="656.7" cy="846.7" rx="7.0" ry="4.2" fill="#c53e3d" transform="rotate(30 656.7 846.7)"/>
<ellipse cx="640.0" cy="830.0" rx="6.0" ry="3.3" fill="#c53e3d" transform="rotate(20 640.0 830.0)"/>
<ellipse cx="546.7" cy="752.5" rx="6.7" ry="4.7" fill="#cb4942" transform="rotate(0 546.7 752.5)"/>
<ellipse cx="600.0" cy="866.7" rx="4.2" ry="8.3" fill="#d7634f" transform="rotate(15 600.0 866.7)"/>
<ellipse cx="576.7" cy="881.7" rx="3.3" ry="5.8" fill="#e17860" transform="rotate(15 576.7 881.7)"/>
<ellipse cx="550.0" cy="858.3" rx="5.0" ry="5.0" fill="#f9c4a9" transform="rotate(0 550.0 858.3)"/>
<ellipse cx="775.0" cy="643.3" rx="9.2" ry="7.5" fill="#d05548" transform="rotate(0 775.0 643.3)"/>
<ellipse cx="683.3" cy="760.0" rx="4.2" ry="4.2" fill="#cb4942" transform="rotate(0 683.3 760.0)"/>
<ellipse cx="645.0" cy="716.7" rx="6.7" ry="5.0" fill="#cb4942" transform="rotate(0 645.0 716.7)"/>
<ellipse cx="615.0" cy="696.7" rx="7.0" ry="6.0" fill="#67001f" transform="rotate(0 615.0 696.7)"/>
<ellipse cx="606.7" cy="750.0" rx="8.3" ry="10.3" fill="#67001f" transform="rotate(-30 606.7 750.0)"/>
<ellipse cx="596.7" cy="727.5" rx="7.0" ry="5.0" fill="#67001f" transform="rotate(20 596.7 727.5)"/>
<ellipse cx="625.0" cy="766.7" rx="8.7" ry="7.0" fill="#730421" transform="rotate(0 625.0 766.7)"/>
<ellipse cx="638.3" cy="811.7" rx="7.7" ry="6.0" fill="#67001f" transform="rotate(20 638.3 811.7)"/>
<ellipse cx="773.3" cy="726.7" rx="7.7" ry="4.2" fill="#67001f" transform="rotate(-30 773.3 726.7)"/>
<ellipse cx="750.0" cy="724.2" rx="3.7" ry="3.7" fill="#67001f" transform="rotate(0 750.0 724.2)"/>
<ellipse cx="580.0" cy="795.0" rx="6.0" ry="8.3" fill="#67001f" transform="rotate(-20 580.0 795.0)"/>
<ellipse cx="660.0" cy="681.7" rx="7.0" ry="4.2" fill="#67001f" transform="rotate(20 660.0 681.7)"/>
<ellipse cx="808.3" cy="794.2" rx="6.0" ry="3.3" fill="#67001f" transform="rotate(35 808.3 794.2)"/>
<ellipse cx="766.7" cy="798.3" rx="20.0" ry="8.3" fill="#f09c7b" transform="rotate(25 766.7 798.3)"/>
<ellipse cx="630.0" cy="893.3" rx="10.0" ry="6.7" fill="#f5a886" transform="rotate(0 630.0 893.3)"/>
<ellipse cx="646.7" cy="908.3" rx="8.3" ry="6.7" fill="#f7b99c" transform="rotate(0 646.7 908.3)"/>
<ellipse cx="691.7" cy="900.0" rx="8.3" ry="18.3" fill="#cb4942" transform="rotate(-40 691.7 900.0)"/>
<ellipse cx="760.0" cy="706.7" rx="5.0" ry="15.0" fill="#d05548" transform="rotate(-25 760.0 706.7)"/>
<ellipse cx="696.7" cy="678.3" rx="10.0" ry="6.7" fill="#c53e3d" transform="rotate(0 696.7 678.3)"/>
<ellipse cx="626.7" cy="720.0" rx="8.3" ry="6.7" fill="#8d0c25" transform="rotate(0 626.7 720.0)"/>
<ellipse cx="616.7" cy="796.7" rx="6.7" ry="10.0" fill="#7f0823" transform="rotate(-30 616.7 796.7)"/>
<ellipse cx="550.0" cy="794.7" rx="10.3" ry="4.3" fill="#f8f4f2" transform="rotate(20 550.0 794.7)"/>
<path d="M855.3,606.7 880.3,613.3 905.3,623.3 915.3,636.7 930.3,650.0 955.3,661.7 980.3,666.7 982.0,673.3 955.3,670.0 930.3,663.3 905.3,651.7 888.7,640.0 872.0,626.7 855.3,616.7Z" fill="#f7b99c"/>
<path d="M892.0,693.3 908.7,700.0 925.3,708.3 942.0,713.3 955.3,711.7 972.0,703.3 988.7,701.7 995.3,711.7 980.3,723.3 955.3,726.7 930.3,720.0 908.7,710.0 893.7,701.7Z" fill="#fbccb4"/>
<ellipse cx="898.7" cy="640.0" rx="10.0" ry="8.3" fill="#f7b99c" transform="rotate(0 898.7 640.0)"/>
<ellipse cx="865.3" cy="670.0" rx="8.3" ry="5.0" fill="#fdddcb" transform="rotate(0 865.3 670.0)"/>
<path d="M815.3,613.3 838.7,620.0 850.3,636.7 842.0,656.7 832.0,678.3 815.3,686.7Z" fill="#f7b99c"/>
<path d="M948.7,590.0 972.0,583.3 988.7,578.3 1005.3,573.3 1022.0,573.3 1042.0,580.0 1058.7,595.0 1055.3,606.7 1030.3,603.3 1017.0,613.3 1013.7,626.7 988.7,623.3 968.7,610.0 955.3,601.7Z" fill="#f7b99c"/>
<path d="M958.7,593.3 972.0,586.7 988.7,580.8 1005.3,575.8 1022.0,575.8 1038.7,584.2 1055.3,595.8 1052.0,603.3 1030.3,600.0 1013.7,606.7 1005.3,620.0 988.7,616.7 972.0,606.7 962.0,600.0Z" fill="#d7634f"/>
<ellipse cx="982.0" cy="600.0" rx="10.3" ry="6.0" fill="#8d0c25" transform="rotate(-20 982.0 600.0)"/>
<ellipse cx="1027.0" cy="588.3" rx="10.3" ry="7.7" fill="#7f0823" transform="rotate(10 1027.0 588.3)"/>
<ellipse cx="995.3" cy="609.2" rx="8.7" ry="6.0" fill="#b3192c" transform="rotate(0 995.3 609.2)"/>
<ellipse cx="990.3" cy="606.7" rx="3.0" ry="2.3" fill="#f5a886" transform="rotate(0 990.3 606.7)"/>
<ellipse cx="1045.3" cy="601.2" rx="8.3" ry="2.3" fill="#a51429" transform="rotate(10 1045.3 601.2)"/>
<ellipse cx="1005.3" cy="586.7" rx="5.0" ry="5.0" fill="#e6866a" transform="rotate(0 1005.3 586.7)"/>
<ellipse cx="1050.3" cy="591.7" rx="7.0" ry="5.0" fill="#fbe6da" transform="rotate(0 1050.3 591.7)"/>
<path d="M1035.3,558.3 1063.7,555.8 1072.0,551.7 1082.0,557.5 1095.3,559.2 1110.3,552.5 1120.3,565.0 1128.7,573.3 1144.0,575.0 1144.0,600.0 1132.0,596.7 1118.7,586.7 1105.3,576.7 1092.0,580.0 1078.7,583.3 1065.3,576.7 1052.0,575.0 1038.7,570.0Z" fill="#e6866a"/>
<path d="M1043.7,560.0 1063.7,558.3 1072.0,553.3 1082.0,560.0 1095.3,561.7 1110.3,555.0 1118.7,566.7 1127.0,575.0 1144.0,576.7 1144.0,593.3 1132.0,590.0 1118.7,580.0 1105.3,570.0 1092.0,573.3 1078.7,576.7 1065.3,570.0 1052.0,568.3Z" fill="#730421"/>
<ellipse cx="1112.0" cy="615.0" rx="18.3" ry="13.3" fill="#fbccb4" transform="rotate(0 1112.0 615.0)"/>
<ellipse cx="1112.0" cy="615.0" rx="11.3" ry="8.0" fill="#d05548" transform="rotate(0 1112.0 615.0)"/>
<ellipse cx="1042.0" cy="650.8" rx="18.3" ry="10.0" fill="#fcd5bf" transform="rotate(-20 1042.0 650.8)"/>
<ellipse cx="1042.0" cy="650.8" rx="11.3" ry="5.3" fill="#e17860" transform="rotate(-20 1042.0 650.8)"/>
<ellipse cx="1037.0" cy="652.8" rx="4.7" ry="2.7" fill="#b82531" transform="rotate(-20 1037.0 652.8)"/>
<ellipse cx="1130.3" cy="680.0" rx="9.2" ry="7.5" fill="#fdddcb" transform="rotate(0 1130.3 680.0)"/>
<ellipse cx="1082.8" cy="764.7" rx="6.7" ry="3.0" fill="#fbccb4" transform="rotate(-25 1082.8 764.7)"/>
<ellipse cx="1013.7" cy="775.0" rx="8.3" ry="8.3" fill="#f9eee7" transform="rotate(0 1013.7 775.0)"/>
<ellipse cx="834.5" cy="820.0" rx="20.0" ry="13.3" fill="#f5a886" transform="rotate(35 834.5 820.0)"/>
<ellipse cx="834.5" cy="820.0" rx="13.3" ry="8.3" fill="#730421" transform="rotate(35 834.5 820.0)"/>
<path d="M1100.0,570.0 1125.0,580.0 1150.0,593.3 1175.0,590.0 1200.0,590.0 1216.7,603.3 1233.3,606.7 1250.0,603.3 1266.7,600.0 1291.7,598.3 1308.3,596.7 1333.3,593.3 1358.3,583.3 1366.7,575.0 1422.0,550.0 1422.0,586.7 1383.3,600.0 1380.0,633.3 1350.0,633.3 1316.7,630.0 1300.0,616.7 1266.7,613.3 1233.3,616.7 1200.0,613.3 1166.7,610.0 1133.3,608.3 1100.0,600.0Z" fill="#fcd5bf"/>
<path d="M1345.0,528.3 1422.0,543.3 1422.0,588.3 1383.3,600.0 1360.0,593.3 1363.3,573.3 1356.7,550.0Z" fill="#f9c4a9"/>
<path d="M1100.0,556.7 1111.7,555.0 1118.3,566.7 1126.7,575.0 1143.3,579.2 1155.0,586.7 1166.7,579.2 1176.7,581.7 1170.0,593.3 1156.7,600.0 1140.0,600.0 1126.7,593.3 1116.7,581.7 1105.0,571.7 1100.0,570.0Z" fill="#e17860"/>
<path d="M1100.0,558.3 1110.0,556.7 1116.7,566.7 1125.0,575.0 1141.7,580.0 1153.3,587.5 1166.7,580.0 1173.3,581.7 1166.7,590.0 1155.0,595.0 1141.7,595.8 1130.0,590.0 1120.0,578.3 1108.3,568.3 1100.0,565.0Z" fill="#67001f"/>
<path d="M1296.7,591.7 1316.7,593.3 1341.7,590.0 1360.0,600.0 1353.3,616.7 1336.7,626.7 1316.7,623.3 1308.3,608.3Z" fill="#f09c7b"/>
<ellipse cx="1326.7" cy="606.7" rx="18.3" ry="11.3" fill="#be3036" transform="rotate(-20 1326.7 606.7)"/>
<ellipse cx="1323.3" cy="610.0" rx="8.3" ry="5.0" fill="#a51429" transform="rotate(-20 1323.3 610.0)"/>
<ellipse cx="1316.7" cy="596.7" rx="6.7" ry="4.2" fill="#be3036" transform="rotate(0 1316.7 596.7)"/>
<ellipse cx="1110.0" cy="615.0" rx="18.3" ry="12.5" fill="#fbccb4" transform="rotate(0 1110.0 615.0)"/>
<ellipse cx="1110.0" cy="615.0" rx="11.3" ry="7.5" fill="#cb4942" transform="rotate(0 1110.0 615.0)"/>
<ellipse cx="1186.7" cy="604.2" rx="8.3" ry="5.0" fill="#f7b99c" transform="rotate(0 1186.7 604.2)"/>
<path d="M1213.3,600.0 1226.7,604.2 1238.3,601.7 1236.7,608.3 1223.3,610.0 1215.0,606.7Z" fill="#f09c7b"/>
<path d="M1083.3,630.0 1133.3,631.7 1166.7,628.3 1200.0,625.0 1233.3,631.7 1266.7,635.0 1300.0,638.3 1333.3,643.3 1360.0,650.0 1350.0,680.0 1316.7,670.0 1250.0,661.7 1200.0,645.0 1150.0,666.7 1116.7,653.3 1083.3,653.3Z" fill="#f8f3f0"/>
<ellipse cx="1130.8" cy="683.3" rx="8.3" ry="6.7" fill="#fdddcb" transform="rotate(0 1130.8 683.3)"/>
<ellipse cx="1271.7" cy="720.8" rx="10.0" ry="4.7" fill="#fcd5bf" transform="rotate(0 1271.7 720.8)"/>
<path d="M660.0,900.0 851.7,900.0 856.7,925.0 851.7,941.7 810.0,946.7 776.7,955.0 743.3,958.3 710.0,955.0 693.3,941.7 676.7,925.0Z" fill="#f6b191"/>
<path d="M663.3,975.0 693.3,966.7 710.0,975.0 710.0,986.7 685.0,990.0 666.7,985.0Z" fill="#f6b191"/>
<path d="M781.7,970.0 810.0,970.0 843.3,978.3 882.0,993.3 882.0,1016.7 860.0,1008.3 835.0,1000.0 810.0,993.3 785.0,986.7Z" fill="#f6b191"/>
<path d="M666.7,906.7 713.3,893.3 766.7,906.7 813.3,920.0 846.7,940.0 830.0,960.0 780.0,953.3 733.3,960.0 686.7,953.3 660.0,933.3Z" fill="#e6866a"/>
<ellipse cx="718.3" cy="923.3" rx="15.8" ry="11.7" fill="#d7634f" transform="rotate(-45 718.3 923.3)"/>
<ellipse cx="718.3" cy="923.3" rx="7.7" ry="6.7" fill="#b3192c" transform="rotate(-45 718.3 923.3)"/>
<path d="M816.7,942.5 835.0,945.0 848.3,940.0 855.0,930.0 848.3,923.3 841.7,933.3 830.0,939.2Z" fill="#b3192c"/>
<ellipse cx="828.3" cy="932.5" rx="8.3" ry="3.3" fill="#f8f4f2" transform="rotate(0 828.3 932.5)"/>
<ellipse cx="810.0" cy="977.5" rx="10.0" ry="5.0" fill="#be3036" transform="rotate(10 810.0 977.5)"/>
<ellipse cx="833.3" cy="1010.0" rx="3.3" ry="5.8" fill="#be3036" transform="rotate(20 833.3 1010.0)"/>
<ellipse cx="863.3" cy="1038.3" rx="19.2" ry="10.3" fill="#dc6e57" transform="rotate(15 863.3 1038.3)"/>
<ellipse cx="860.0" cy="1038.3" rx="10.3" ry="6.0" fill="#730421" transform="rotate(15 860.0 1038.3)"/>
<ellipse cx="631.7" cy="920.0" rx="8.3" ry="6.7" fill="#f5a886" transform="rotate(0 631.7 920.0)"/>
<ellipse cx="663.3" cy="918.3" rx="6.7" ry="6.7" fill="#f5a886" transform="rotate(0 663.3 918.3)"/>
<ellipse cx="683.3" cy="928.3" rx="6.7" ry="5.0" fill="#f09c7b" transform="rotate(0 683.3 928.3)"/>
<ellipse cx="582.5" cy="972.5" rx="8.3" ry="5.8" fill="#fae8de" transform="rotate(0 582.5 972.5)"/>
<ellipse cx="715.0" cy="1057.5" rx="10.0" ry="6.7" fill="#f9c4a9" transform="rotate(20 715.0 1057.5)"/>
<ellipse cx="706.7" cy="1100.0" rx="10.0" ry="10.0" fill="#f7b99c" transform="rotate(0 706.7 1100.0)"/>
<path d="M743.3,1080.0 776.7,1075.0 810.0,1076.7 826.7,1091.7 820.0,1106.7 793.3,1110.0 768.3,1105.0 748.3,1096.7Z" fill="#f5a886"/>
<path d="M733.3,1138.3 751.7,1133.3 776.7,1138.3 785.0,1150.0 776.7,1161.7 756.7,1163.3 740.0,1153.3Z" fill="#f6b191"/>
<ellipse cx="798.3" cy="1120.0" rx="13.3" ry="6.7" fill="#f9c4a9" transform="rotate(0 798.3 1120.0)"/>
<ellipse cx="798.3" cy="1133.3" rx="6.7" ry="6.7" fill="#fbccb4" transform="rotate(0 798.3 1133.3)"/>
<ellipse cx="810.0" cy="1098.3" rx="13.7" ry="7.0" fill="#b3192c" transform="rotate(15 810.0 1098.3)"/>
<ellipse cx="801.7" cy="1086.7" rx="10.0" ry="5.0" fill="#d7634f" transform="rotate(20 801.7 1086.7)"/>
<ellipse cx="765.0" cy="1148.3" rx="8.3" ry="5.8" fill="#e17860" transform="rotate(0 765.0 1148.3)"/>
<path d="M793.3,1180.0 810.0,1183.3 826.7,1196.7 843.3,1216.7 850.0,1222.0 820.0,1222.0 810.0,1208.3 796.7,1193.3Z" fill="#dc6e57"/>
<ellipse cx="823.3" cy="1200.0" rx="10.3" ry="7.7" fill="#8d0c25" transform="rotate(45 823.3 1200.0)"/>
<ellipse cx="722.5" cy="1083.3" rx="6.7" ry="6.7" fill="#edf2f5" transform="rotate(0 722.5 1083.3)"/>
<ellipse cx="726.7" cy="1176.7" rx="6.7" ry="6.7" fill="#f9ebe3" transform="rotate(0 726.7 1176.7)"/>
<path d="M770.0,850.0 800.0,835.0 840.0,830.0 880.0,845.0 890.0,870.0 873.0,885.0 855.0,893.0 852.0,910.0 873.0,930.0 855.0,947.0 822.0,953.0 810.0,960.0 770.0,967.0 740.0,940.0 735.0,900.0 750.0,870.0Z" fill="#f9c4a9"/>
<path d="M785.0,930.0 805.0,923.3 830.0,921.7 846.7,928.3 853.3,936.7 843.3,943.3 830.0,941.7 813.3,940.0 796.7,938.3 780.0,940.0Z" fill="#dc6e57"/>
<ellipse cx="846.7" cy="938.3" rx="8.3" ry="4.7" fill="#b82531" transform="rotate(20 846.7 938.3)"/>
<ellipse cx="825.0" cy="933.3" rx="8.3" ry="2.8" fill="#f8f4f2" transform="rotate(0 825.0 933.3)"/>
<ellipse cx="888.3" cy="873.3" rx="20.8" ry="15.8" fill="#f5a886" transform="rotate(40 888.3 873.3)"/>
<ellipse cx="888.3" cy="873.3" rx="15.0" ry="10.3" fill="#67001f" transform="rotate(40 888.3 873.3)"/>
<path d="M780.0,968.3 805.0,970.0 830.0,976.7 855.0,983.3 880.0,993.3 888.3,1001.7 863.3,998.3 838.3,991.7 813.3,986.7 788.3,983.3 780.0,983.3Z" fill="#e6866a"/>
<ellipse cx="813.3" cy="976.7" rx="10.0" ry="5.0" fill="#be3036" transform="rotate(10 813.3 976.7)"/>
<ellipse cx="873.3" cy="1039.2" rx="25.0" ry="11.7" fill="#f09c7b" transform="rotate(15 873.3 1039.2)"/>
<ellipse cx="863.3" cy="1036.7" rx="16.7" ry="8.0" fill="#67001f" transform="rotate(15 863.3 1036.7)"/>
<path d="M921.7,1056.7 946.7,1055.0 971.7,1058.3 995.0,1061.7 993.3,1066.7 971.7,1065.0 946.7,1065.0 930.0,1068.3 921.7,1063.3Z" fill="#fbccb4"/>
<ellipse cx="930.0" cy="1060.8" rx="10.0" ry="6.3" fill="#f9c4a9" transform="rotate(0 930.0 1060.8)"/>
<ellipse cx="991.7" cy="1062.5" rx="5.0" ry="3.3" fill="#f6b191" transform="rotate(0 991.7 1062.5)"/>
<ellipse cx="925.0" cy="956.7" rx="12.0" ry="8.3" fill="#fcd5bf" transform="rotate(0 925.0 956.7)"/>
<path d="M963.3,976.7 996.7,980.0 1038.3,993.3 1040.0,1010.0 1013.3,1018.3 988.3,1010.0 971.7,993.3Z" fill="#fdddcb"/>
<ellipse cx="983.3" cy="986.7" rx="8.3" ry="4.7" fill="#f7b99c" transform="rotate(20 983.3 986.7)"/>
<ellipse cx="1021.7" cy="1001.7" rx="13.7" ry="8.3" fill="#d05548" transform="rotate(15 1021.7 1001.7)"/>
<ellipse cx="1021.7" cy="1002.0" rx="7.5" ry="4.2" fill="#a51429" transform="rotate(15 1021.7 1002.0)"/>
<ellipse cx="880.0" cy="1130.0" rx="10.0" ry="8.3" fill="#fae8de" transform="rotate(0 880.0 1130.0)"/>
<ellipse cx="763.0" cy="1089.5" rx="20.0" ry="12.5" fill="#f7b99c" transform="rotate(0 763.0 1089.5)"/>
<ellipse cx="758.0" cy="1139.5" rx="22.5" ry="15.0" fill="#f7b99c" transform="rotate(0 758.0 1139.5)"/>
<ellipse cx="805.5" cy="1097.0" rx="25.0" ry="15.0" fill="#cb4942" transform="rotate(15 805.5 1097.0)"/>
<ellipse cx="808.0" cy="1098.2" rx="13.8" ry="7.5" fill="#a51429" transform="rotate(15 808.0 1098.2)"/>
<path d="M795.5,1177.0 815.5,1172.0 840.5,1197.0 850.5,1222.0 838.0,1232.0 815.5,1212.0Z" fill="#eb9172"/>
<ellipse cx="825.5" cy="1202.0" rx="10.0" ry="21.2" fill="#8d0c25" transform="rotate(-35 825.5 1202.0)"/>
<ellipse cx="783.0" cy="1244.5" rx="5.5" ry="10.5" fill="#cb4942" transform="rotate(-30 783.0 1244.5)"/>
<ellipse cx="878.0" cy="1129.5" rx="12.5" ry="10.0" fill="#fbe6da" transform="rotate(0 878.0 1129.5)"/>
<ellipse cx="1040.0" cy="1492.0" rx="27.5" ry="12.5" fill="#f9c4a9" transform="rotate(8 1040.0 1492.0)"/>
<ellipse cx="1039.5" cy="1491.5" rx="15.5" ry="8.5" fill="#67001f" transform="rotate(8 1039.5 1491.5)"/>
<ellipse cx="1155.0" cy="1505.2" rx="18.0" ry="11.2" fill="#fbccb4" transform="rotate(15 1155.0 1505.2)"/>
<ellipse cx="1155.0" cy="1505.2" rx="10.0" ry="6.0" fill="#be3036" transform="rotate(15 1155.0 1505.2)"/>
<ellipse cx="1258.8" cy="1520.2" rx="13.8" ry="12.5" fill="#fbe6da" transform="rotate(0 1258.8 1520.2)"/>
<ellipse cx="1258.8" cy="1520.2" rx="7.0" ry="7.0" fill="#f7b99c" transform="rotate(0 1258.8 1520.2)"/>
</g>
<g filter="url(#bblur)">
<path d="M606.7,660.0 626.7,663.3 633.3,675.0 653.3,691.7 638.3,701.7 626.7,690.0 615.0,680.0 608.3,670.0Z" fill="#f7f7f7" stroke="#f7f7f7" stroke-width="4" stroke-linejoin="round"/>
<path d="M610.0,662.5 625.0,665.8 630.0,675.0 620.0,678.3 613.3,671.7Z" fill="#f7f7f7" stroke="#f7f7f7" stroke-width="4" stroke-linejoin="round"/>
<path d="M685.0,656.7 700.0,648.3 710.0,641.7 716.7,646.7 721.7,655.0 708.3,658.3 691.7,660.8Z" fill="#f7f7f7" stroke="#f7f7f7" stroke-width="4" stroke-linejoin="round"/>
<path d="M702.5,649.2 710.0,643.7 715.0,648.3 717.5,654.2 708.3,655.8Z" fill="#f7f7f7" stroke="#f7f7f7" stroke-width="4" stroke-linejoin="round"/>
<path d="M548.3,726.7 566.7,720.0 580.0,716.7 586.7,725.0 573.3,736.7 555.0,745.0 541.7,750.0 545.0,738.3Z" fill="#f7f7f7" stroke="#f7f7f7" stroke-width="4" stroke-linejoin="round"/>
<path d="M550.8,727.5 566.7,722.0 578.3,719.2 581.7,725.0 570.0,733.3 555.0,738.3Z" fill="#f7f7f7" stroke="#f7f7f7" stroke-width="4" stroke-linejoin="round"/>
<path d="M570.0,768.3 595.0,768.3 600.0,775.0 593.3,781.7 573.3,778.3Z" fill="#f7f7f7" stroke="#f7f7f7" stroke-width="4" stroke-linejoin="round"/>
<path d="M583.3,770.0 594.2,769.7 597.5,775.0 591.7,779.2Z" fill="#f7f7f7" stroke="#f7f7f7" stroke-width="4" stroke-linejoin="round"/>
<path d="M590.0,801.7 598.3,796.7 608.3,795.0 615.0,805.0 610.0,813.3 601.7,821.7 593.3,815.0 588.3,808.3Z" fill="#f7f7f7" stroke="#f7f7f7" stroke-width="4" stroke-linejoin="round"/>
<path d="M591.3,802.5 598.3,799.2 601.7,808.3 595.8,813.3 590.8,808.3Z" fill="#f7f7f7" stroke="#f7f7f7" stroke-width="4" stroke-linejoin="round"/>
<path d="M588.3,845.0 600.0,833.3 616.7,830.0 630.0,828.3 638.3,836.7 646.7,838.3 653.3,850.0 666.7,856.7 660.0,865.0 650.0,860.0 640.0,855.0 630.0,856.7 623.3,860.0 615.0,870.0 608.3,873.3 606.7,861.7 603.3,851.7 595.0,850.0Z" fill="#f7f7f7" stroke="#f7f7f7" stroke-width="4" stroke-linejoin="round"/>
<path d="M598.3,836.7 608.3,833.3 606.7,843.3 600.0,846.7Z" fill="#f7f7f7" stroke="#f7f7f7" stroke-width="4" stroke-linejoin="round"/>
<path d="M608.3,850.0 620.0,853.3 621.7,860.0 613.3,865.0Z" fill="#f7f7f7" stroke="#f7f7f7" stroke-width="4" stroke-linejoin="round"/>
<path d="M653.3,851.7 664.2,856.7 659.2,862.5Z" fill="#f7f7f7" stroke="#f7f7f7" stroke-width="4" stroke-linejoin="round"/>
<path d="M715.0,691.7 732.5,692.5 736.7,706.7 740.0,720.0 723.3,716.7 713.3,706.7Z" fill="#f7f7f7" stroke="#f7f7f7" stroke-width="4" stroke-linejoin="round"/>
<path d="M718.3,692.5 731.7,693.7 729.2,702.5 723.3,703.0Z" fill="#f7f7f7" stroke="#f7f7f7" stroke-width="4" stroke-linejoin="round"/>
<path d="M781.7,768.3 788.3,765.8 791.7,771.7 786.7,775.0Z" fill="#f7f7f7" stroke="#f7f7f7" stroke-width="4" stroke-linejoin="round"/>
<path d="M790.0,780.0 798.3,778.3 800.0,785.0 793.3,790.0 789.2,786.7Z" fill="#f7f7f7" stroke="#f7f7f7" stroke-width="4" stroke-linejoin="round"/>
<path d="M676.7,900.0 681.7,896.7 690.0,905.0 686.7,910.0 680.0,906.7Z" fill="#f7f7f7" stroke="#f7f7f7" stroke-width="4" stroke-linejoin="round"/>
<path d="M667.5,885.0 671.7,884.2 672.5,889.2 668.3,890.0Z" fill="#f7f7f7" stroke="#f7f7f7" stroke-width="4" stroke-linejoin="round"/>
<path d="M590.8,688.3 602.5,685.8 603.3,693.3 598.3,700.0 592.5,695.0Z" fill="#f7f7f7" stroke="#f7f7f7" stroke-width="4" stroke-linejoin="round"/>
<path d="M740.0,618.3 750.0,621.7 745.0,625.8Z" fill="#f7f7f7" stroke="#f7f7f7" stroke-width="4" stroke-linejoin="round"/>
<path d="M756.7,618.0 773.3,616.3 766.7,620.8Z" fill="#f7f7f7" stroke="#f7f7f7" stroke-width="4" stroke-linejoin="round"/>
<path d="M720.8,625.0 728.3,626.7 725.8,630.8Z" fill="#f7f7f7" stroke="#f7f7f7" stroke-width="4" stroke-linejoin="round"/>
<path d="M707.5,958.3 715.0,956.7 733.3,970.0 726.7,980.0 716.7,981.7 711.7,970.0Z" fill="#f7f7f7" stroke="#f7f7f7" stroke-width="4" stroke-linejoin="round"/>
<path d="M715.0,966.7 730.0,971.7 725.0,978.3 717.5,979.2Z" fill="#f7f7f7" stroke="#f7f7f7" stroke-width="4" stroke-linejoin="round"/>
<path d="M741.7,975.0 756.7,970.0 768.3,965.8 778.3,968.3 778.3,978.3 768.3,983.3 756.7,990.0 743.3,990.0 740.0,983.3Z" fill="#f7f7f7" stroke="#f7f7f7" stroke-width="4" stroke-linejoin="round"/>
<path d="M748.3,976.7 768.3,968.3 775.8,970.8 775.0,977.5 760.0,983.3 746.7,985.0Z" fill="#f7f7f7" stroke="#f7f7f7" stroke-width="4" stroke-linejoin="round"/>
<path d="M766.7,990.0 775.0,985.8 784.2,993.3 780.0,1001.7 768.3,1001.7Z" fill="#f7f7f7" stroke="#f7f7f7" stroke-width="4" stroke-linejoin="round"/>
<path d="M809.2,1005.0 818.3,1002.5 827.5,1006.7 820.0,1013.3 813.3,1017.5Z" fill="#f7f7f7" stroke="#f7f7f7" stroke-width="4" stroke-linejoin="round"/>
<path d="M677.5,900.0 690.0,900.0 690.8,906.7 685.8,910.8 681.7,906.7Z" fill="#f7f7f7" stroke="#f7f7f7" stroke-width="4" stroke-linejoin="round"/>
<path d="M807.5,1005.0 826.7,1004.2 828.3,1010.0 821.7,1015.0 813.3,1018.3 810.0,1011.7Z" fill="#f7f7f7" stroke="#f7f7f7" stroke-width="4" stroke-linejoin="round"/>
<path d="M780.0,988.3 785.0,991.7 783.3,998.3 780.0,1000.0Z" fill="#f7f7f7" stroke="#f7f7f7" stroke-width="4" stroke-linejoin="round"/>
<path d="M606.7,660.0 626.7,663.3 633.3,675.0 653.3,691.7 638.3,701.7 626.7,690.0 615.0,680.0 608.3,670.0Z" fill="#cae1ee"/>
<path d="M610.0,662.5 625.0,665.8 630.0,675.0 620.0,678.3 613.3,671.7Z" fill="#529dc8"/>
<path d="M685.0,656.7 700.0,648.3 710.0,641.7 716.7,646.7 721.7,655.0 708.3,658.3 691.7,660.8Z" fill="#b6d7e8"/>
<path d="M702.5,649.2 710.0,643.7 715.0,648.3 717.5,654.2 708.3,655.8Z" fill="#1c5c9f"/>
<path d="M548.3,726.7 566.7,720.0 580.0,716.7 586.7,725.0 573.3,736.7 555.0,745.0 541.7,750.0 545.0,738.3Z" fill="#6eaed2"/>
<path d="M550.8,727.5 566.7,722.0 578.3,719.2 581.7,725.0 570.0,733.3 555.0,738.3Z" fill="#053061"/>
<path d="M570.0,768.3 595.0,768.3 600.0,775.0 593.3,781.7 573.3,778.3Z" fill="#a9d1e5"/>
<path d="M583.3,770.0 594.2,769.7 597.5,775.0 591.7,779.2Z" fill="#3885bc"/>
<path d="M590.0,801.7 598.3,796.7 608.3,795.0 615.0,805.0 610.0,813.3 601.7,821.7 593.3,815.0 588.3,808.3Z" fill="#b6d7e8"/>
<path d="M591.3,802.5 598.3,799.2 601.7,808.3 595.8,813.3 590.8,808.3Z" fill="#3885bc"/>
<path d="M588.3,845.0 600.0,833.3 616.7,830.0 630.0,828.3 638.3,836.7 646.7,838.3 653.3,850.0 666.7,856.7 660.0,865.0 650.0,860.0 640.0,855.0 630.0,856.7 623.3,860.0 615.0,870.0 608.3,873.3 606.7,861.7 603.3,851.7 595.0,850.0Z" fill="#a9d1e5"/>
<path d="M598.3,836.7 608.3,833.3 606.7,843.3 600.0,846.7Z" fill="#5fa5cd"/>
<path d="M608.3,850.0 620.0,853.3 621.7,860.0 613.3,865.0Z" fill="#7bb6d6"/>
<path d="M653.3,851.7 664.2,856.7 659.2,862.5Z" fill="#3e8cbf"/>
<ellipse cx="622.5" cy="845.0" rx="6.7" ry="5.0" fill="#edf2f5" transform="rotate(30 622.5 845.0)"/>
<path d="M715.0,691.7 732.5,692.5 736.7,706.7 740.0,720.0 723.3,716.7 713.3,706.7Z" fill="#edf2f5"/>
<path d="M718.3,692.5 731.7,693.7 729.2,702.5 723.3,703.0Z" fill="#4695c4"/>
<path d="M781.7,768.3 788.3,765.8 791.7,771.7 786.7,775.0Z" fill="#3e8cbf"/>
<path d="M790.0,780.0 798.3,778.3 800.0,785.0 793.3,790.0 789.2,786.7Z" fill="#87beda"/>
<path d="M676.7,900.0 681.7,896.7 690.0,905.0 686.7,910.0 680.0,906.7Z" fill="#96c7df"/>
<path d="M667.5,885.0 671.7,884.2 672.5,889.2 668.3,890.0Z" fill="#e0ecf3"/>
<path d="M590.8,688.3 602.5,685.8 603.3,693.3 598.3,700.0 592.5,695.0Z" fill="#d4e6f1"/>
<path d="M740.0,618.3 750.0,621.7 745.0,625.8Z" fill="#6eaed2"/>
<path d="M756.7,618.0 773.3,616.3 766.7,620.8Z" fill="#529dc8"/>
<path d="M720.8,625.0 728.3,626.7 725.8,630.8Z" fill="#b6d7e8"/>
<path d="M707.5,958.3 715.0,956.7 733.3,970.0 726.7,980.0 716.7,981.7 711.7,970.0Z" fill="#cae1ee"/>
<path d="M715.0,966.7 730.0,971.7 725.0,978.3 717.5,979.2Z" fill="#5fa5cd"/>
<path d="M741.7,975.0 756.7,970.0 768.3,965.8 778.3,968.3 778.3,978.3 768.3,983.3 756.7,990.0 743.3,990.0 740.0,983.3Z" fill="#87beda"/>
<path d="M748.3,976.7 768.3,968.3 775.8,970.8 775.0,977.5 760.0,983.3 746.7,985.0Z" fill="#2c75b4"/>
<path d="M766.7,990.0 775.0,985.8 784.2,993.3 780.0,1001.7 768.3,1001.7Z" fill="#6eaed2"/>
<path d="M809.2,1005.0 818.3,1002.5 827.5,1006.7 820.0,1013.3 813.3,1017.5Z" fill="#5fa5cd"/>
<path d="M677.5,900.0 690.0,900.0 690.8,906.7 685.8,910.8 681.7,906.7Z" fill="#a9d1e5"/>
<path d="M807.5,1005.0 826.7,1004.2 828.3,1010.0 821.7,1015.0 813.3,1018.3 810.0,1011.7Z" fill="#6eaed2"/>
<path d="M780.0,988.3 785.0,991.7 783.3,998.3 780.0,1000.0Z" fill="#87beda"/>
</g>
</g>
<g fill="none" stroke="#000" stroke-width="3.3" stroke-linejoin="round" stroke-linecap="round" filter="url(#rough)">
<path d="M430.5,835.2 436.2,834.5 442.5,837.2 450.0,839.8 458.8,841.5 461.2,841.5 463.8,837.8 467.5,835.2 472.5,832.0 472.0,825.2 476.2,822.8 477.5,818.5 483.8,818.5 490.0,816.5 493.0,812.8 490.5,807.8 486.2,802.8 483.8,797.8 480.0,792.8 477.5,790.8 486.2,790.2 491.2,787.8 493.8,781.5 497.5,778.5 505.0,779.0 512.5,776.5 521.2,775.2 530.0,773.5 532.5,767.8 532.0,761.5 535.0,757.8 536.2,751.5 540.0,746.5 545.0,741.5 548.8,736.5 549.2,729.0 551.2,724.0 557.5,717.8 565.0,717.0 572.5,715.2 575.0,710.2 580.0,706.0 586.2,702.8 589.5,696.5 589.2,689.0 586.2,682.8 581.2,677.8 575.0,673.5 577.5,670.2 577.5,661.0 587.5,660.2 600.0,659.8 610.0,657.8 617.5,656.0 625.0,657.0 632.5,656.0 640.0,654.0 646.2,651.5 655.0,652.0 662.5,652.8 667.5,659.0 675.0,655.2 682.5,650.2 690.0,646.5 700.0,645.2 702.5,639.0 710.0,634.0 716.2,629.0 717.5,624.0 725.0,620.2 733.0,617.8 733.0,617.8 740.5,614.0 748.0,618.5 755.5,615.2 763.0,613.5 770.5,615.2 778.0,616.5 783.0,619.0 790.5,617.8 798.0,619.0 808.0,618.5 818.0,619.5 824.2,616.5 828.0,612.0 831.8,611.0 835.5,615.2 839.2,617.8 843.0,614.0 844.2,606.5 845.0,596.5 845.5,590.2 850.5,588.5 863.0,587.8 876.8,587.8 888.0,589.0 900.5,590.2 911.8,589.0 916.8,585.2 918.0,582.0 924.2,579.0 930.5,580.2 933.0,583.5 940.5,579.0 950.5,577.8 960.5,577.8 970.5,581.0 979.2,579.0 988.0,576.5 998.0,575.2 1004.2,571.5 1013.0,570.2 1020.5,567.0 1025.5,570.2 1033.0,567.8 1041.8,566.5 1043.0,559.0 1046.8,556.0 1055.5,557.8 1063.0,556.0 1071.8,552.8 1079.2,557.8 1088.0,559.0 1095.5,556.5 1103.0,557.0 1111.8,553.5 1115.5,556.5 1118.0,562.8 1121.8,567.8 1128.0,572.8 1135.5,574.0 1143.0,576.5 1149.2,581.5 1154.2,584.5 1155.5,579.0 1163.0,577.8 1170.5,577.0 1178.0,579.5 1185.5,582.0 1193.0,584.0 1200.5,587.8 1208.0,591.5 1216.0,595.2 1216.0,595.2 1219.8,600.2 1227.2,602.8 1236.0,600.2 1243.5,599.0 1253.5,595.2 1263.5,596.5 1268.5,591.5 1276.0,592.0 1283.5,590.2 1291.0,592.8 1298.5,589.0 1306.0,586.5 1311.0,589.0 1316.0,591.5 1326.0,590.2 1336.0,587.8 1346.0,585.2 1353.5,584.0 1358.5,580.2 1361.0,574.0 1357.2,569.0 1361.0,564.0 1359.8,557.8 1356.0,552.8 1354.8,545.2 1348.5,542.8 1344.0,539.0 1343.0,534.0 1346.0,530.2 1352.2,529.0 1358.5,526.5 1366.0,528.5 1373.5,529.5 1382.2,529.0 1391.0,532.8 1399.8,535.2 1408.5,537.8 1413.5,542.8 1423.5,547.8 1424.8,556.5 1426.0,564.0 1428.5,571.5 1429.8,579.0 1428.5,585.2 1424.8,589.5 1418.5,587.8 1412.2,586.5 1406.0,591.5 1398.5,596.5 1391.0,600.2 1382.2,601.5 1381.0,609.0 1382.2,616.5 1379.8,624.0 1384.8,629.0 1388.5,635.2 1387.2,641.5 1382.2,645.2 1381.0,650.2 1373.5,654.0 1367.2,659.0 1363.5,664.0 1357.2,667.8 1352.2,674.0 1346.0,677.8 1339.8,679.0 1338.5,674.0 1335.5,667.8 1328.5,662.8 1318.5,661.5 1306.0,661.0 1291.0,660.2 1278.5,659.5 1267.2,660.2 1258.5,656.5 1248.5,654.0 1238.5,650.2 1228.5,647.0 1221.0,649.0 1216.0,647.8 1216.0,647.8 1208.0,646.0 1204.2,640.2 1196.8,638.2 1189.2,641.5 1183.0,646.0 1174.2,649.0 1165.5,652.8 1158.0,659.0 1149.2,661.5 1143.0,661.0 1139.2,664.0 1135.5,662.8 1128.0,659.0 1123.0,651.5 1116.8,646.5 1108.0,645.2 1098.0,647.0 1088.0,651.5 1081.8,656.5 1079.2,661.5 1080.5,665.2 1073.0,667.8 1063.0,672.8 1053.0,677.8 1044.2,680.2 1035.5,679.0 1025.5,675.2 1015.5,672.0 1006.8,671.0 998.0,672.8 990.5,677.8 986.8,686.5 990.5,691.5 995.5,696.5 1000.5,701.5 1008.0,704.0 1015.5,706.5 1021.8,709.8 1015.5,711.5 1009.2,714.0 1006.8,719.0 1009.2,725.2 1014.2,729.0 1023.0,731.5 1031.8,730.2 1033.0,722.8 1035.5,725.2 1039.2,732.8 1045.5,735.2 1053.0,736.5 1060.5,739.0 1068.0,744.0 1073.0,749.0 1079.2,754.0 1085.5,759.0 1091.8,764.0 1093.0,767.8 1088.0,770.2 1080.5,771.5 1076.8,767.8 1073.0,761.5 1066.8,755.2 1060.5,750.2 1053.0,745.2 1045.5,744.0 1038.0,741.5 1030.5,739.0 1025.5,735.2 1018.0,733.5 1010.5,732.8 1003.0,734.0 994.2,735.2 988.0,739.0 986.8,745.2 990.5,751.5 995.5,755.2 1003.0,757.8 1010.5,761.5 1018.0,765.2 1025.5,769.0 1031.8,774.0 1034.2,780.2 1035.5,787.8 1031.8,794.0 1025.5,798.5 1020.5,795.2 1018.0,790.2 1010.5,787.8 1005.5,785.2 1001.8,779.0 998.0,771.5 994.2,765.2 988.0,760.2 980.5,755.2 970.5,753.5 960.5,751.5 950.5,749.0 941.8,747.0 935.5,750.2 931.8,755.2 933.0,761.5 938.0,766.5 945.5,771.5 950.5,777.8 955.5,782.8 963.0,786.5 973.0,790.2 983.0,794.0 990.5,799.0 994.2,801.5 988.0,802.8 979.2,801.0 968.0,799.0 958.0,796.0 948.0,793.5 940.5,794.5 935.5,796.0 938.0,790.2 935.5,785.2 931.8,780.2 928.5,774.0 930.5,766.5 930.0,759.0 929.2,755.2 920.5,751.5 908.0,747.8 895.5,742.8 883.0,737.8 873.0,732.8 864.2,730.2 859.2,722.8 854.2,717.8 853.0,714.0 858.0,711.5 868.0,710.2 876.8,707.8 879.2,702.8 875.5,699.0 875.5,694.0 869.2,692.0 861.8,693.5 858.0,696.5 860.5,701.5 853.0,704.0 845.5,706.5 843.0,710.2 835.5,709.0 829.2,711.5 830.5,715.2 821.8,717.8 819.2,720.2 822.5,726.5 824.2,732.8 829.2,735.2 824.2,741.5 820.5,749.0 818.0,756.5 815.5,762.8 813.5,767.8 815.5,775.2 819.2,781.5 823.0,786.5 829.2,790.2 836.8,794.0 840.5,801.5 845.5,807.8 853.0,814.0 860.5,819.0 863.0,826.5 865.5,834.0 868.0,841.5 870.5,849.0 874.2,854.0 883.0,857.8 883.3,860.0 893.3,863.3 900.0,868.3 906.7,875.0 913.3,881.7 920.0,888.3 924.2,894.2 927.5,900.8 931.7,906.7 934.2,910.8 930.8,915.0 925.0,917.5 918.3,918.3 911.7,919.2 906.7,921.7 900.0,924.2 895.0,925.3 890.0,924.7 890.3,922.0 895.0,922.3 900.0,921.3 905.0,920.3 910.0,918.7 913.3,916.3 914.2,912.5 911.7,906.7 908.3,900.8 903.3,895.8 896.7,892.5 890.0,892.5 883.3,891.7 878.3,887.5 872.5,885.8 870.0,890.8 863.3,895.0 856.7,896.7 853.3,901.7 855.0,908.3 859.2,913.3 863.3,910.8 866.7,915.0 870.0,919.2 873.3,922.5 878.3,925.8 880.0,930.0 878.3,934.2 875.8,936.7 873.3,940.0 866.7,946.7 860.0,952.5 851.7,955.8 843.3,957.5 833.3,956.3 825.0,952.5 819.2,953.3 815.0,956.7 812.5,960.8 813.3,963.3 820.0,965.8 828.3,964.2 835.0,961.7 841.7,966.7 846.7,971.7 853.3,974.2 860.0,972.5 866.7,975.0 873.3,973.3 881.7,975.0 888.3,977.5 891.7,982.5 895.0,988.3 898.3,993.3 903.3,991.7 908.3,989.2 913.3,990.8 921.7,993.3 929.2,995.8 931.7,1000.0 927.5,1004.2 930.0,1008.3 935.0,1010.8 941.7,1012.5 948.3,1014.2 955.0,1015.8 960.8,1016.7 965.0,1014.7 969.2,1018.3 973.3,1023.3 976.7,1028.3 980.0,1033.3 986.7,1035.0 996.7,1036.7 1006.7,1038.0 1016.7,1039.2 1026.7,1041.7 1035.0,1045.0 1040.0,1050.0 1043.3,1055.0 1046.7,1060.0 1045.0,1065.0 1040.0,1067.5 1033.3,1070.0 1030.0,1075.0 1031.7,1081.7 1033.3,1088.3 1035.0,1095.0 1034.2,1101.7 1036.7,1108.3 1040.0,1115.0 1043.3,1121.7 1043.3,1130.0 1041.7,1136.7 1036.7,1140.0 1030.0,1141.7 1025.0,1143.3 1022.5,1138.3 1020.0,1133.3 1015.0,1128.3 1010.0,1123.3 1003.3,1121.7 998.3,1120.0 995.0,1115.0 991.7,1110.0 988.3,1105.0 983.3,1100.8 976.7,1098.3 970.0,1096.7 966.7,1093.3 960.0,1092.5 953.3,1093.3 946.7,1093.0 940.0,1093.3 930.0,1092.5 921.7,1094.2 913.3,1096.7 905.0,1099.2 896.7,1100.8 888.3,1102.5 882.5,1105.0 880.8,1109.2 883.3,1111.7 890.0,1112.5 896.7,1111.7 903.3,1113.3 906.7,1117.5 908.3,1122.5 905.0,1125.8 900.0,1128.3 900.8,1133.3 905.0,1135.0 905.8,1141.7 908.3,1146.7 913.3,1150.0 918.3,1154.2 923.3,1157.5 928.3,1160.0 930.8,1155.0 928.3,1150.0 930.0,1145.3 936.7,1144.2 944.2,1145.0 942.5,1150.0 940.0,1155.0 937.5,1158.3 943.3,1160.0 950.0,1158.3 956.7,1161.7 963.3,1165.0 961.7,1170.0 956.7,1173.3 950.0,1175.0 943.3,1176.7 936.7,1178.3 930.0,1180.0 923.3,1182.0 919.2,1184.5 920.5,1189.5 913.0,1193.2 908.0,1197.0 905.5,1192.0 901.8,1187.0 895.5,1184.5 893.0,1179.5 898.0,1175.8 893.0,1172.0 885.5,1169.5 876.8,1165.8 869.2,1162.0 860.5,1160.8 853.0,1159.5 849.2,1154.5 843.0,1152.5 839.2,1157.0 841.8,1164.5 844.2,1172.0 848.0,1179.5 853.0,1187.0 858.0,1194.5 863.0,1202.0 866.8,1209.5 869.2,1217.0 874.2,1222.0 879.2,1227.0 881.8,1234.5 884.2,1242.0 885.5,1249.5 889.2,1257.0 893.0,1264.5 896.8,1272.0 895.5,1278.2 888.0,1283.2 886.8,1289.5 889.2,1295.8 894.2,1300.8 899.2,1305.8 904.2,1310.8 905.5,1317.0 913.0,1322.0 911.8,1325.8 903.0,1324.5 895.5,1320.8 889.2,1315.8 883.0,1313.2 878.0,1318.2 873.0,1320.8 871.8,1315.8 875.5,1310.8 871.8,1304.5 866.8,1298.2 861.8,1292.0 856.8,1288.2 853.0,1283.2 850.5,1274.5 846.8,1269.5 838.0,1269.0 828.0,1269.0 819.2,1270.8 814.2,1275.8 810.5,1283.2 806.8,1290.8 803.0,1297.0 804.2,1304.5 803.0,1312.0 805.5,1319.5 806.8,1327.0 804.2,1332.5 800.5,1327.0 794.2,1322.0 786.8,1318.2 784.2,1313.2 789.2,1308.2 788.0,1299.5 789.2,1292.0 786.8,1285.8 781.8,1279.5 776.8,1273.2 770.5,1265.8 764.2,1259.5 756.8,1255.8 751.8,1252.0 754.2,1244.5 753.0,1238.2 745.5,1235.8 733.0,1236.5 733.0,1238.2 726.2,1240.8 721.2,1244.5 722.0,1254.5 721.2,1264.5 725.0,1272.0 718.8,1278.2 713.8,1287.0 712.5,1282.0 708.8,1275.8 703.8,1270.0 697.5,1272.0 697.5,1283.2 691.2,1278.2 685.0,1279.5 687.5,1270.8 685.0,1263.2 683.8,1254.5 681.2,1248.2 675.0,1242.0 670.0,1235.8 662.5,1233.2 667.5,1230.8 667.0,1224.5 666.2,1215.8 670.0,1209.5 677.5,1204.5 681.7,1202.0 684.2,1198.3 685.8,1191.7 683.3,1183.3 679.2,1175.0 673.3,1166.7 666.7,1160.0 660.0,1155.0 653.3,1150.8 646.7,1146.7 640.0,1143.3 633.3,1141.7 628.3,1145.0 626.7,1142.5 628.3,1136.7 627.5,1130.0 623.3,1125.0 618.3,1121.7 611.7,1118.3 603.3,1115.8 596.7,1114.2 596.7,1110.0 597.5,1104.2 600.0,1099.2 606.7,1100.0 613.3,1096.7 620.0,1092.5 625.0,1087.5 629.2,1081.7 633.3,1076.7 636.7,1071.7 637.5,1065.0 636.7,1059.2 640.0,1059.2 646.7,1060.8 653.3,1062.5 660.0,1065.0 666.7,1067.5 673.3,1068.3 680.0,1065.8 685.0,1062.5 690.0,1056.7 693.3,1051.7 696.7,1046.7 703.3,1042.5 710.0,1040.8 718.3,1040.8 726.7,1041.7 733.3,1043.3 738.3,1046.7 745.0,1050.0 751.7,1052.5 756.7,1056.7 763.3,1060.8 771.7,1062.5 778.3,1064.2 780.0,1063.3 785.0,1065.8 791.7,1067.5 798.3,1068.3 805.0,1069.7 811.7,1071.7 818.3,1074.2 825.0,1076.7 831.7,1080.0 838.3,1083.3 843.3,1086.7 848.3,1090.8 853.3,1095.0 858.3,1098.3 865.0,1100.3 871.7,1100.0 876.7,1097.5 878.3,1093.3 873.3,1090.8 866.7,1088.7 860.0,1087.0 861.7,1085.3 866.7,1083.3 873.3,1080.8 880.0,1079.2 888.3,1079.2 896.7,1078.3 905.0,1076.7 911.7,1074.2 915.8,1070.0 914.2,1066.7 908.3,1064.2 901.7,1060.8 896.7,1059.2 891.7,1061.7 885.0,1060.8 878.3,1060.0 871.7,1059.2 865.0,1056.7 858.3,1055.0 851.7,1054.2 846.7,1051.7 845.0,1046.7 840.0,1043.3 835.0,1039.2 832.5,1034.2 828.3,1033.3 824.2,1036.7 821.7,1042.5 817.5,1047.5 814.2,1043.3 810.0,1038.3 805.0,1033.3 800.0,1028.3 795.8,1025.0 792.5,1024.2 790.0,1031.7 786.7,1037.5 780.0,1039.2 780.0,1037.5 773.3,1035.8 766.7,1036.7 760.0,1039.2 753.3,1036.7 746.7,1033.3 740.0,1030.8 730.0,1030.0 720.0,1030.0 713.3,1033.3 708.3,1031.7 703.3,1032.5 696.7,1035.8 693.3,1038.3 685.0,1037.5 676.7,1037.5 668.3,1040.8 661.7,1043.3 655.0,1046.7 654.2,1040.0 651.7,1035.8 645.0,1034.2 638.3,1031.7 636.7,1026.7 635.0,1020.0 630.0,1015.0 626.7,1015.8 627.5,1018.3 631.7,1021.7 633.3,1026.7 630.0,1030.0 625.0,1034.2 620.0,1038.3 613.3,1042.5 606.7,1044.2 600.0,1045.0 596.7,1046.7 599.2,1041.7 598.3,1036.7 600.0,1030.0 603.3,1028.3 600.0,1023.3 596.7,1016.7 595.0,1010.0 590.0,1013.3 586.7,1018.3 580.0,1019.2 581.7,1016.7 586.7,1013.3 585.0,1008.3 584.2,1000.0 581.7,993.3 578.3,988.3 570.8,989.2 566.7,986.7 565.0,980.0 563.3,973.3 560.0,970.0 553.3,972.5 546.7,975.8 540.8,970.8 538.7,961.3 542.5,953.3 544.2,946.7 546.7,945.8 551.7,949.2 556.7,951.7 563.3,950.8 568.3,950.0 573.3,948.3 578.3,950.8 583.3,951.7 586.7,956.7 591.7,959.2 595.0,955.0 599.2,953.3 602.5,958.3 606.7,960.8 608.3,956.7 605.0,951.7 604.2,946.7 607.5,944.2 605.0,940.0 601.7,935.0 596.7,931.7 591.7,932.5 588.3,936.7 581.7,935.8 575.0,933.3 571.7,930.0 565.0,929.2 556.7,930.0 550.0,928.3 546.7,930.0 542.5,935.8 538.3,937.5 535.0,932.5 530.0,928.3 523.3,924.2 517.5,919.2 512.5,913.3 506.7,909.2 502.5,905.0 501.7,898.3 496.7,897.5 488.3,896.7 480.0,895.0 480.0,896.5 473.8,892.8 471.2,889.0 468.8,884.0 463.8,880.2 466.2,877.8 470.0,874.0 462.5,871.5 467.0,870.2 470.0,866.5 467.5,862.8 460.0,864.0 453.8,862.8 452.0,859.0 455.5,854.5 457.5,849.0 458.8,842.0Z"/>
<path d="M865.5,1342.0 873.0,1333.2 879.2,1340.8 885.5,1347.0 894.2,1352.0 900.0,1357.0 893.0,1359.5 890.0,1369.5 883.0,1370.0 874.2,1367.0 869.2,1360.8 868.0,1352.0Z"/>
<path d="M923.0,1405.8 929.2,1408.2 932.5,1415.8 930.5,1418.2 925.5,1414.5Z" stroke-width="4.6" fill="#000"/>
<path d="M940.8,1090.8 946.7,1086.7 955.0,1084.2 963.3,1082.5 971.7,1084.2 973.3,1087.5 968.3,1090.8 961.7,1092.5 958.3,1096.7 955.0,1101.7 948.3,1105.0 942.5,1106.7 940.8,1102.5 945.0,1098.3 948.3,1095.0 944.2,1093.3Z" stroke-width="4.6"/>
<path d="M945.0,1125.0 953.3,1123.3 961.7,1122.5 967.5,1124.2 964.2,1130.0 960.0,1135.8 955.0,1140.0 950.0,1138.3 946.7,1135.0 950.0,1130.8Z"/>
<path d="M935.5,1195.0 945.5,1191.5 958.0,1187.0 969.2,1185.0 968.0,1188.2 956.8,1191.5 945.5,1195.2 938.0,1197.5Z" stroke-width="4.6" fill="#000"/>
<path d="M895.5,1199.5 901.8,1198.2 908.0,1205.8 909.2,1208.2 903.0,1205.8Z" stroke-width="4.6" fill="#000"/>
<path d="M1073.0,1152.0 1076.8,1143.2 1083.0,1138.2 1090.5,1137.5 1094.2,1143.2 1091.8,1150.8 1085.5,1155.8 1079.2,1160.8 1074.2,1162.0Z"/>
<path d="M1048.3,1140.0 1050.8,1133.3 1054.2,1128.3 1056.3,1130.0 1054.2,1136.7 1050.8,1143.3 1048.7,1144.2Z" stroke-width="4.6" fill="#000"/>
<path d="M1088.0,1179.5 1093.0,1172.0 1098.0,1168.2 1100.5,1174.5 1105.5,1178.2 1103.0,1183.2 1098.0,1185.8 1094.2,1192.0 1089.2,1195.8 1086.8,1192.0 1089.2,1185.8Z"/>
<path d="M1094.2,1218.2 1099.2,1212.0 1106.8,1208.2 1113.0,1210.8 1114.2,1218.2 1110.5,1224.5 1103.0,1224.5 1096.8,1222.0Z"/>
<path d="M1127.5,1235.0 1131.7,1235.8 1138.3,1238.3 1143.3,1243.3 1147.5,1248.3 1144.2,1253.3 1140.8,1255.8 1136.7,1255.0 1134.2,1250.0 1131.7,1244.2 1129.2,1239.2Z"/>
<path d="M1080.5,1293.2 1083.0,1282.0 1093.0,1277.5 1100.5,1282.0 1108.0,1279.5 1113.0,1284.5 1114.2,1290.8 1105.5,1292.0 1095.5,1293.2 1088.0,1292.5Z"/>
<path d="M1110.5,1268.2 1116.8,1264.5 1123.0,1266.5 1120.5,1272.0 1114.2,1273.2Z" stroke-width="4.6"/>
<path d="M1120.0,1271.7 1125.0,1274.2 1131.7,1275.0 1133.3,1278.3 1129.2,1280.0 1123.3,1279.2 1118.3,1276.7Z" stroke-width="4.6" fill="#000"/>
<path d="M1130.0,1150.0 1136.7,1149.2 1139.2,1145.0 1145.0,1145.3 1145.0,1151.7 1140.0,1152.0 1134.2,1151.7Z" stroke-width="4.6"/>
<path d="M1164.2,1163.3 1170.0,1164.2 1174.2,1166.7 1175.0,1171.7 1177.5,1175.0 1181.7,1176.7 1177.5,1180.0 1171.7,1183.3 1165.8,1185.8 1162.5,1183.3 1160.8,1180.0 1164.2,1175.8 1165.8,1170.0Z"/>
<path d="M1158.3,1291.7 1162.5,1291.7 1168.3,1295.8 1175.0,1297.5 1176.7,1301.7 1171.7,1302.5 1165.8,1300.0 1160.8,1295.8Z" stroke-width="4.6"/>
<path d="M1190.8,1296.7 1195.0,1290.0 1201.7,1285.0 1208.3,1282.5 1210.8,1284.2 1206.7,1289.2 1200.8,1293.3 1195.0,1296.7Z" stroke-width="4.6"/>
<path d="M1307.2,1008.2 1312.2,1002.0 1323.5,1000.0 1333.5,998.2 1343.5,1001.5 1348.5,1005.8 1357.2,1009.5 1358.5,1017.0 1356.0,1024.5 1356.5,1032.0 1358.5,1040.8 1354.8,1047.0 1348.5,1052.0 1347.2,1058.2 1339.8,1060.8 1336.0,1068.2 1329.8,1065.8 1322.2,1060.8 1316.0,1057.0 1313.0,1053.2 1318.5,1047.0 1324.8,1043.2 1329.8,1038.2 1331.5,1032.0 1327.2,1025.8 1322.2,1020.8 1314.8,1017.0 1309.8,1013.2Z"/>
<path d="M1361.0,1008.2 1368.5,1009.5 1377.2,1013.2 1377.2,1017.0 1369.8,1015.0 1362.2,1012.0Z" stroke-width="4.6" fill="#000"/>
<path d="M1264.8,999.5 1271.0,997.5 1277.2,1000.8 1276.0,1009.5 1269.8,1010.8 1264.8,1007.0Z" stroke-width="4.6"/>
<path d="M1418.5,1129.5 1423.5,1123.2 1433.5,1120.0 1446.0,1117.5 1458.5,1118.2 1468.5,1121.5 1476.0,1123.2 1481.0,1122.0 1491.0,1124.5 1493.5,1132.0 1487.2,1134.5 1478.5,1137.0 1468.5,1139.5 1463.5,1144.5 1453.5,1145.8 1449.8,1139.5 1444.8,1134.5 1436.0,1133.2 1428.5,1137.0 1421.0,1138.2Z"/>
<path d="M1329.2,1162.5 1333.3,1156.7 1339.2,1150.0 1345.0,1145.0 1353.3,1144.2 1361.7,1144.2 1368.3,1140.8 1375.0,1138.3 1381.7,1136.7 1388.3,1136.7 1387.5,1140.8 1382.5,1145.8 1375.0,1150.0 1366.7,1154.2 1358.3,1155.8 1350.0,1157.5 1343.3,1161.7 1336.7,1163.3 1330.8,1165.0Z"/>
<path d="M1392.2,1152.0 1401.0,1148.2 1408.5,1142.0 1413.5,1144.5 1419.8,1149.5 1413.5,1153.2 1409.8,1162.0 1407.2,1165.8 1403.5,1157.0 1397.2,1155.8Z" stroke-width="4.6" fill="#000"/>
<path d="M1412.2,1184.5 1418.5,1183.2 1424.8,1187.0 1422.2,1192.0 1418.5,1194.5 1419.8,1199.5 1414.8,1200.8 1412.2,1194.5Z" stroke-width="4.6" fill="#000"/>
<path d="M1438.5,1179.5 1444.8,1180.8 1449.8,1187.0 1447.2,1192.0 1452.2,1197.0 1447.2,1199.5 1441.0,1195.8 1439.8,1187.0Z" stroke-width="4.6"/>
<path d="M1473.5,1168.2 1481.0,1167.0 1486.0,1170.8 1479.8,1174.5 1474.8,1172.0Z" stroke-width="4.6" fill="#000"/>
<path d="M1447.2,1209.5 1454.8,1208.2 1462.2,1213.2 1467.2,1219.5 1471.0,1224.5 1466.0,1225.8 1459.8,1222.0 1452.2,1217.0 1448.5,1213.2Z" stroke-width="4.6"/>
<path d="M1466.0,1237.0 1471.0,1230.8 1478.5,1229.5 1484.8,1234.5 1491.0,1240.8 1492.2,1248.2 1486.0,1249.5 1481.0,1247.0 1477.2,1252.0 1471.0,1250.8 1472.2,1243.2 1467.2,1240.8Z" stroke-width="4.6"/>
<path d="M1497.2,1248.2 1506.0,1247.0 1511.0,1250.8 1503.5,1253.2Z" stroke-width="4.6" fill="#000"/>
<path d="M1471.0,1275.8 1481.0,1273.2 1488.5,1267.0 1498.5,1262.0 1511.0,1258.2 1524.8,1254.5 1536.0,1258.2 1537.2,1262.0 1528.5,1264.5 1516.0,1267.0 1506.0,1272.0 1496.0,1275.8 1486.0,1277.0 1479.8,1280.8 1479.8,1289.5 1474.8,1288.2 1471.0,1283.2Z"/>
<path d="M1502.2,1299.5 1508.5,1296.5 1516.0,1299.5 1516.0,1305.8 1509.8,1308.2 1503.5,1305.8Z" stroke-width="4.6"/>
<path d="M1526.0,1318.2 1534.8,1318.2 1541.0,1323.2 1548.5,1328.2 1552.2,1333.2 1546.0,1334.5 1539.8,1330.8 1532.2,1328.2 1527.2,1323.2Z" stroke-width="4.6"/>
<path d="M1595.1,1306.6 1598.8,1300.4 1603.8,1294.1 1610.1,1290.3 1613.9,1289.7 1615.7,1292.8 1617.0,1299.1 1617.4,1306.6 1616.4,1312.9 1613.9,1314.8 1610.1,1312.3 1606.3,1307.9 1602.6,1305.4 1597.6,1307.9Z" stroke-width="4.6"/>
<path d="M1561.0,1355.8 1571.0,1353.2 1578.5,1354.5 1577.2,1359.5 1566.0,1360.8 1561.0,1359.5Z" stroke-width="4.6"/>
<path d="M1668.5,1322.0 1671.0,1327.0 1669.8,1334.5 1666.0,1342.0 1663.5,1352.0 1658.5,1362.0 1652.2,1369.5 1648.5,1377.0 1647.2,1382.0 1638.5,1387.0 1631.0,1392.0 1623.5,1399.5 1616.0,1405.8 1606.0,1409.5 1598.5,1410.8 1596.0,1405.8 1592.2,1400.8 1594.8,1394.5 1597.2,1384.5 1596.0,1375.8 1589.8,1372.0 1586.0,1367.0 1591.0,1364.5 1596.0,1362.0 1602.2,1357.0 1606.0,1350.8 1611.0,1344.5 1618.5,1339.5 1628.5,1334.5 1638.5,1329.5 1648.5,1327.0 1658.5,1325.8Z"/>
<path d="M1229.2,1168.3 1233.3,1165.8 1239.2,1166.7 1244.2,1167.5 1249.2,1170.0 1253.3,1170.8 1256.7,1173.3 1253.3,1175.0 1246.7,1176.7 1241.7,1178.3 1236.7,1180.0 1231.7,1178.3 1229.2,1174.2Z"/>
<path d="M1234.2,1228.3 1239.2,1223.3 1246.7,1220.0 1252.5,1217.5 1257.5,1211.7 1263.3,1210.0 1268.3,1214.2 1271.7,1219.2 1274.2,1225.0 1273.3,1231.7 1270.8,1238.3 1268.3,1245.0 1263.3,1246.7 1258.3,1248.3 1253.3,1251.7 1249.2,1253.3 1246.7,1248.3 1243.3,1244.2 1240.0,1237.5 1237.5,1232.5Z"/>
<path d="M1243.3,1266.7 1250.0,1261.7 1255.0,1259.2 1256.7,1262.5 1253.3,1267.5 1246.7,1269.2Z" stroke-width="4.6"/>
<path d="M1293.3,1270.0 1298.3,1268.3 1303.3,1268.3 1308.3,1264.2 1315.0,1260.8 1321.7,1256.7 1326.7,1252.5 1333.3,1250.0 1338.3,1252.5 1343.3,1255.0 1347.5,1256.7 1341.7,1257.5 1335.0,1256.7 1329.2,1259.2 1323.3,1263.3 1318.3,1267.5 1313.3,1272.5 1306.7,1274.2 1300.8,1276.7 1295.8,1275.0 1293.3,1272.5Z"/>
<path d="M1220.0,1282.5 1222.5,1274.2 1228.3,1272.5 1233.3,1276.7 1238.3,1278.3 1243.3,1284.2 1241.7,1291.7 1237.5,1294.2 1233.3,1290.8 1229.2,1286.7 1224.2,1284.2Z"/>
<path d="M1372.5,1303.3 1377.5,1300.8 1383.3,1302.5 1386.7,1298.3 1390.0,1294.2 1395.8,1295.8 1401.7,1300.0 1405.0,1304.2 1405.8,1310.8 1401.7,1311.7 1398.3,1306.7 1393.3,1305.0 1389.2,1307.5 1388.3,1313.3 1384.2,1315.0 1379.2,1314.2 1375.8,1310.0Z"/>
<path d="M1231.7,1326.7 1235.0,1321.7 1241.7,1318.3 1248.3,1320.8 1253.3,1325.8 1256.7,1330.0 1256.7,1335.8 1253.3,1340.0 1249.2,1341.7 1243.3,1340.0 1237.5,1339.2 1235.0,1335.0 1232.5,1330.8Z"/>
<path d="M1239.2,1326.7 1244.2,1325.0 1248.3,1328.3 1247.5,1333.3 1242.5,1335.0 1239.2,1331.7Z" stroke-width="4.6"/>
<path d="M1291.7,1336.7 1298.3,1330.0 1304.2,1333.3 1311.7,1337.5 1310.8,1339.7 1303.3,1339.2 1296.7,1340.0Z" stroke-width="4.6"/>
<path d="M1517.0,1406.0 1520.8,1407.8 1520.0,1416.5 1517.0,1425.2 1514.5,1434.0 1512.0,1442.8 1514.5,1450.2 1517.0,1459.0 1520.8,1466.5 1517.0,1470.2 1512.0,1475.2 1505.8,1481.5 1502.0,1477.8 1495.8,1475.2 1499.5,1469.0 1502.0,1461.5 1498.2,1455.2 1492.0,1451.5 1498.2,1446.5 1503.2,1437.8 1508.2,1429.0 1510.8,1420.2 1513.2,1412.8Z"/>
<path d="M1457.0,1487.8 1464.5,1481.5 1474.5,1477.8 1487.0,1476.0 1484.5,1481.0 1477.0,1485.2 1467.0,1490.2 1460.8,1491.0Z" stroke-width="4.6"/>
<path d="M1187.5,791.3 1191.7,790.0 1198.3,789.2 1202.5,785.8 1206.7,787.5 1211.7,788.3 1218.3,788.0 1223.3,790.8 1226.7,796.7 1231.7,794.2 1236.7,790.8 1239.2,786.7 1245.0,785.0 1250.0,783.3 1250.8,786.7 1250.0,791.7 1245.8,795.0 1241.7,799.2 1238.3,804.2 1235.0,808.3 1236.7,813.3 1239.2,817.5 1236.7,822.5 1231.7,821.7 1226.7,819.2 1223.3,815.0 1224.2,810.0 1225.0,806.7 1221.7,803.3 1217.5,802.5 1214.2,805.0 1213.3,808.3 1215.8,813.3 1219.2,819.2 1215.0,819.7 1208.3,819.2 1204.2,818.7 1205.8,815.0 1207.5,811.7 1203.3,810.8 1197.5,812.5 1191.7,814.2 1189.2,811.7 1191.7,806.7 1193.3,801.7 1191.7,796.7 1189.2,794.2Z"/>
<path d="M1177.5,864.2 1179.2,857.5 1182.5,854.2 1187.5,855.8 1192.5,860.0 1190.8,863.3 1185.8,866.7 1181.7,870.8 1179.2,869.2Z" stroke-width="4.6"/>
<path d="M1100.0,948.3 1104.2,943.3 1110.0,945.8 1115.8,948.3 1120.0,950.8 1120.0,956.7 1123.3,960.8 1128.3,963.3 1133.3,966.7 1136.7,970.8 1135.8,975.0 1130.8,975.8 1125.8,978.0 1120.0,976.7 1115.0,974.2 1111.7,970.0 1110.0,965.0 1106.7,963.3 1100.8,960.8 1098.3,957.5 1101.7,954.2 1100.8,950.8Z"/>
<path d="M1036.7,891.7 1039.2,885.8 1043.3,883.3 1048.3,885.8 1047.5,891.7 1045.0,895.8 1040.8,896.7Z" stroke-width="4.6"/>
<path d="M1052.5,888.3 1055.0,880.8 1059.2,875.0 1061.7,879.2 1060.0,885.0 1055.8,890.0Z" stroke-width="4.6"/>
<path d="M1250.0,718.3 1255.0,714.2 1263.3,712.0 1273.3,712.0 1281.7,714.2 1288.3,718.3 1289.2,723.3 1286.7,726.7 1278.3,729.2 1270.0,731.3 1265.0,729.2 1258.3,725.0 1252.5,721.7Z"/>
<path d="M940.0,915.0 944.2,910.8 950.0,908.3 956.7,909.2 959.2,913.3 956.7,918.3 951.7,920.3 945.8,919.2 940.8,918.3Z" stroke-width="4.6"/>
<path d="M970.0,908.3 974.2,907.5 979.2,911.7 985.0,915.8 991.7,919.2 998.3,920.0 1003.3,917.5 1001.7,921.7 996.7,925.0 990.8,928.3 984.2,926.7 979.2,924.2 975.8,918.3 972.5,913.3Z"/>
<path d="M1011.7,910.0 1016.7,905.0 1021.7,899.2 1025.8,895.8 1030.0,899.2 1033.3,905.0 1030.8,910.0 1026.7,908.3 1022.5,910.8 1017.5,915.0 1013.3,916.7 1010.8,913.3Z" stroke-width="4.6"/>
<path d="M538.3,961.7 530.0,963.3 523.3,968.3 519.2,975.0 516.7,983.3 514.2,990.0 512.5,998.3 511.7,1005.0 515.8,1004.2 519.2,996.7 524.2,999.2 530.0,997.5 535.8,993.3 539.2,988.3 538.3,981.7 538.3,975.0 538.0,968.3Z"/>
<path d="M524.2,1112.5 526.7,1106.7 531.7,1102.5 536.7,1100.8 538.3,1105.8 542.5,1110.8 550.0,1113.3 558.3,1115.8 565.8,1119.2 567.5,1125.0 573.3,1128.3 580.0,1132.5 580.0,1135.8 573.3,1134.2 566.7,1130.0 561.7,1130.0 557.5,1133.3 557.5,1140.0 553.3,1143.3 548.3,1140.0 543.3,1135.0 536.7,1130.0 531.7,1124.2 527.5,1119.2Z"/>
<path d="M475.0,1060.8 480.0,1063.3 485.0,1066.7 490.0,1069.2 494.2,1068.3 495.0,1061.7 494.2,1055.0 493.3,1050.0 495.8,1047.5 498.3,1053.3 500.8,1060.0 504.2,1066.7 505.0,1073.3 510.0,1075.0 515.0,1076.7 520.0,1073.3 525.0,1072.5 530.0,1075.8 536.7,1079.2 543.3,1080.8 550.0,1080.0 553.3,1075.0 550.0,1069.2 545.8,1063.3 541.7,1057.5 537.5,1051.7 533.3,1047.5 528.3,1046.7 523.3,1045.0 520.8,1040.0 519.2,1033.3 517.5,1026.7 515.8,1020.8 512.5,1018.3 510.8,1021.7 511.7,1028.3 510.8,1035.0 507.5,1040.0 501.7,1041.7 496.7,1038.3 491.7,1036.7 489.2,1041.7 486.7,1048.3 482.5,1051.7 480.0,1054.2 476.7,1056.7Z"/>
<path d="M523.3,1018.3 526.7,1016.7 530.0,1021.7 533.3,1026.7 536.7,1030.8 541.7,1032.5 544.2,1038.3 545.8,1042.5 540.8,1043.3 536.7,1040.0 531.7,1033.3 527.5,1028.3 524.2,1023.3Z"/>
<path d="M560.0,1003.3 562.5,996.7 566.7,993.3 573.3,991.7 574.2,995.0 570.8,1000.0 568.3,1005.0 565.0,1009.2Z" stroke-width="4.6" fill="#000"/>
<path d="M589.2,1013.3 593.3,1010.0 596.7,1013.3 599.2,1020.0 602.5,1026.7 603.3,1030.0 599.2,1029.2 595.0,1023.3 591.7,1018.3Z" stroke-width="4.6" fill="#000"/>
<path d="M376.2,824.0 377.5,829.0 382.5,834.0 386.2,837.8 390.0,844.0 397.5,849.0 403.8,852.8 407.5,857.8 408.8,866.5 412.5,872.8 420.0,876.5 430.0,879.5 440.0,883.5 448.8,886.0 448.8,882.8 445.0,875.2 442.0,870.2 436.2,873.5 428.8,871.0 422.0,867.8 418.8,859.0 417.0,850.2 415.0,845.2 410.0,841.5 407.0,837.8 407.5,833.5 412.5,831.0 420.0,828.5 423.8,824.0 422.5,821.0 415.0,819.0 408.0,815.2 402.5,818.5 392.5,819.5 381.2,821.0Z"/>
<path d="M450.0,906.0 453.8,907.0 460.0,914.0 466.2,919.0 469.5,924.5 465.5,925.2 460.0,920.2 453.8,915.2 449.5,909.5Z" stroke-width="4.6" fill="#000"/>
<path d="M1109.2,689.0 1111.8,681.5 1118.0,674.0 1126.8,669.5 1135.5,669.0 1143.0,672.8 1149.2,679.0 1151.0,689.0 1149.2,696.5 1143.0,700.2 1135.5,701.5 1126.8,704.5 1120.5,699.0 1114.2,695.2Z"/>
<path d="M1308.0,906.5 1312.2,899.0 1321.0,895.2 1333.5,894.0 1346.0,890.2 1356.0,887.8 1361.0,882.8 1371.0,882.0 1381.0,883.5 1388.5,881.5 1391.0,886.5 1399.8,889.0 1401.0,894.0 1394.8,897.8 1396.0,904.0 1403.5,909.0 1409.8,916.5 1414.8,924.0 1419.8,931.5 1426.0,934.0 1427.2,937.8 1421.0,939.0 1416.0,936.5 1414.8,942.8 1408.5,945.2 1398.5,946.5 1388.5,944.5 1378.5,942.8 1368.5,939.0 1358.5,936.5 1352.2,931.5 1346.0,927.8 1336.0,925.2 1326.0,922.8 1318.5,917.8 1312.2,914.0Z"/>
<path d="M1346.0,927.8 1351.0,919.0 1356.0,912.8 1363.5,910.2 1372.2,910.2 1377.2,914.0 1373.5,919.0 1366.0,921.5 1358.5,924.0 1352.2,927.8Z"/>
<path d="M1416.0,936.5 1412.2,930.2 1407.2,926.5 1402.2,927.8 1401.0,931.5 1406.0,936.5 1412.2,940.2Z"/>
<path d="M967.5,1445.2 971.2,1444.0 972.5,1451.5 975.0,1461.5 980.0,1464.0 987.5,1462.8 989.5,1454.0 990.0,1444.0 993.0,1437.8 997.5,1440.2 999.5,1449.0 1000.5,1459.0 1007.5,1461.5 1017.5,1462.8 1027.5,1463.5 1037.5,1463.5 1042.5,1461.5 1043.0,1455.2 1048.8,1451.5 1056.2,1452.0 1061.2,1456.5 1062.5,1462.8 1058.8,1467.8 1051.2,1469.0 1045.0,1467.8 1050.0,1471.5 1060.0,1472.8 1067.5,1470.2 1071.2,1475.2 1072.0,1484.0 1073.8,1489.0 1082.5,1489.0 1095.0,1487.8 1107.5,1486.5 1117.5,1484.0 1125.0,1480.2 1135.0,1477.8 1146.2,1477.8 1157.5,1479.0 1167.5,1479.0 1177.5,1477.8 1187.5,1479.0 1190.0,1484.0 1189.5,1490.2 1200.0,1491.0 1212.5,1490.2 1225.0,1489.0 1237.5,1490.2 1242.5,1494.0 1248.8,1497.8 1257.5,1495.2 1267.5,1492.8 1277.5,1491.5 1290.0,1491.0 1298.8,1491.5 1296.2,1499.0 1292.5,1506.5 1291.2,1514.0 1292.5,1520.2 1297.5,1524.0 1305.0,1525.2 1310.0,1519.0 1312.5,1512.8 1320.0,1509.0 1330.0,1506.5 1340.0,1507.0 1350.0,1506.0 1360.0,1502.8 1367.5,1499.0 1372.5,1494.0 1376.2,1491.0 1380.0,1490.2 1381.2,1496.5 1378.8,1504.0 1377.5,1511.5 1375.0,1519.0 1373.8,1526.5 1370.0,1534.0 1365.0,1539.0 1357.5,1542.8 1347.5,1545.2 1337.5,1542.8 1327.5,1541.0 1317.5,1542.0 1307.5,1541.0 1297.5,1542.8 1285.0,1542.0 1272.5,1543.5 1260.0,1545.2 1247.5,1546.5 1235.0,1549.0 1222.5,1550.2 1210.0,1551.5 1197.5,1552.8 1185.0,1553.5 1172.5,1554.0 1160.0,1554.5 1150.0,1554.0 1143.8,1552.8 1145.0,1546.5 1146.2,1539.0 1146.2,1531.5 1143.8,1527.8 1135.0,1526.5 1125.0,1524.0 1117.5,1522.8 1112.5,1519.0 1105.0,1515.2 1097.5,1511.5 1087.5,1509.0 1077.5,1507.0 1067.5,1506.0 1057.5,1505.2 1047.5,1504.0 1037.5,1503.5 1030.0,1501.5 1022.5,1499.0 1012.5,1497.8 1002.5,1499.0 992.5,1500.2 982.5,1500.2 972.5,1500.2 966.2,1497.8 961.2,1492.8 962.5,1486.5 965.0,1479.0 966.2,1471.5 967.5,1464.0 968.0,1454.0Z"/>
<path d="M1037.5,1562.8 1045.0,1560.2 1051.2,1564.0 1050.0,1570.2 1043.8,1569.0Z" stroke-width="4.6" fill="#000"/>
<path d="M854.2,966.7 854.2,964.2 858.3,960.0 866.7,958.3 875.0,958.3 883.3,955.8 888.3,950.0 893.3,944.2 900.0,940.8 908.3,938.3 916.7,935.8 925.0,934.2 930.8,934.2 935.0,937.5 939.2,941.7 943.3,945.8 946.7,948.3 946.7,953.3 949.2,958.3 953.3,961.7 958.3,965.0 963.3,968.3 970.0,971.7 976.7,975.0 983.3,975.8 988.3,975.0 991.7,979.2 996.7,983.3 1005.0,985.8 1013.3,988.3 1021.7,990.0 1030.0,989.2 1038.3,987.5 1046.7,988.3 1053.3,990.8 1055.8,993.3 1051.7,995.8 1053.3,1001.7 1060.0,1006.7 1066.7,1010.8 1068.3,1013.3 1063.3,1015.8 1061.7,1021.7 1063.3,1028.3 1066.7,1035.0 1070.0,1041.7 1071.7,1048.3 1073.3,1055.0 1078.3,1060.0 1085.0,1063.3 1093.3,1065.3 1102.0,1066.7 1113.0,1068.2 1121.8,1067.0 1120.5,1074.5 1120.0,1084.5 1116.8,1092.0 1110.5,1097.0 1102.0,1093.3 1096.7,1092.5 1091.7,1095.0 1086.7,1091.7 1085.0,1085.0 1080.0,1080.8 1073.3,1076.7 1066.7,1071.7 1061.7,1065.0 1056.7,1058.3 1053.3,1051.7 1050.0,1046.7 1045.0,1041.7 1040.0,1039.2 1041.7,1033.3 1037.5,1030.0 1030.0,1029.2 1021.7,1030.0 1013.3,1030.8 1005.0,1031.7 996.7,1030.8 988.3,1030.0 980.0,1028.3 976.7,1022.5 977.5,1016.7 974.2,1010.8 968.3,1008.3 961.7,1006.7 956.7,1003.3 953.3,997.5 948.3,993.3 943.3,989.2 936.7,984.2 930.0,979.2 923.3,975.0 916.7,970.8 910.0,966.7 903.3,963.3 896.7,962.5 890.0,964.2 883.3,966.7 876.7,970.0 870.0,970.8 863.3,970.8 858.3,968.3Z"/>
<path d="M1135.0,1097.5 1138.3,1094.2 1145.0,1091.7 1151.7,1090.8 1154.2,1095.8 1158.3,1098.3 1159.2,1103.3 1165.0,1105.0 1171.7,1105.0 1176.7,1106.7 1175.8,1111.7 1173.3,1115.0 1177.5,1117.5 1180.0,1121.7 1176.7,1125.0 1182.5,1125.8 1180.8,1130.0 1177.5,1135.0 1174.2,1136.7 1170.0,1132.5 1166.7,1127.5 1161.7,1124.2 1155.8,1120.0 1151.7,1115.0 1147.5,1110.0 1141.7,1108.3 1137.5,1105.0 1135.0,1100.8Z"/>
<path d="M1177.5,1137.5 1183.3,1138.3 1190.0,1139.2 1194.2,1141.7 1200.0,1142.5 1205.8,1144.2 1211.7,1145.0 1217.5,1146.7 1221.7,1149.2 1220.8,1154.2 1218.3,1158.3 1216.7,1161.7 1210.8,1162.5 1205.0,1160.0 1200.0,1156.7 1193.3,1153.3 1186.7,1149.2 1181.7,1145.0 1178.3,1141.7Z"/>
<path d="M1211.7,1175.8 1216.7,1175.0 1220.0,1178.3 1225.0,1180.0 1225.0,1184.2 1220.0,1185.8 1215.8,1185.8 1214.2,1180.8Z" stroke-width="4.6" fill="#000"/>
<path d="M1201.7,1226.7 1205.0,1222.5 1210.8,1220.0 1217.5,1217.5 1223.3,1217.5 1225.8,1221.7 1225.0,1226.7 1224.2,1231.7 1220.8,1236.7 1215.8,1240.8 1210.0,1244.2 1204.2,1242.5 1200.0,1239.2 1199.2,1234.2 1200.8,1230.0Z"/>
<path d="M1175.8,1249.2 1181.7,1245.0 1186.7,1240.0 1193.3,1233.3 1195.8,1234.2 1194.2,1240.0 1193.3,1246.7 1191.7,1250.0 1185.8,1248.3 1180.8,1250.0Z" stroke-width="4.6"/>
</g>
<g fill="#000" stroke="none">
<ellipse cx="340.0" cy="811.0" rx="4.4" ry="3.2" transform="rotate(-15 340.0 811.0)"/>
<ellipse cx="367.5" cy="806.0" rx="3.2" ry="3.2" transform="rotate(0 367.5 806.0)"/>
<ellipse cx="358.0" cy="824.0" rx="2.7" ry="3.7" transform="rotate(-30 358.0 824.0)"/>
<ellipse cx="368.8" cy="824.5" rx="2.0" ry="2.0" transform="rotate(0 368.8 824.5)"/>
<ellipse cx="950.5" cy="1252.5" rx="2.4" ry="3.2" transform="rotate(-20 950.5 1252.5)"/>
<ellipse cx="1015.0" cy="1264.5" rx="2.8" ry="2.4" transform="rotate(0 1015.0 1264.5)"/>
<ellipse cx="1068.0" cy="1272.0" rx="3.2" ry="3.2" transform="rotate(0 1068.0 1272.0)"/>
<ellipse cx="924.2" cy="1200.0" rx="2.7" ry="2.7" transform="rotate(0 924.2 1200.0)"/>
<ellipse cx="1446.0" cy="1346.5" rx="2.7" ry="2.7" transform="rotate(0 1446.0 1346.5)"/>
<ellipse cx="1478.5" cy="1315.8" rx="3.7" ry="2.7" transform="rotate(0 1478.5 1315.8)"/>
<ellipse cx="1488.5" cy="1302.5" rx="3.0" ry="3.0" transform="rotate(0 1488.5 1302.5)"/>
<ellipse cx="1494.8" cy="1305.0" rx="3.0" ry="2.7" transform="rotate(0 1494.8 1305.0)"/>
<ellipse cx="1368.0" cy="1419.5" rx="3.2" ry="2.7" transform="rotate(0 1368.0 1419.5)"/>
<ellipse cx="1402.2" cy="1425.0" rx="3.4" ry="2.7" transform="rotate(0 1402.2 1425.0)"/>
<ellipse cx="1456.8" cy="1415.8" rx="3.2" ry="3.4" transform="rotate(0 1456.8 1415.8)"/>
<ellipse cx="1496.5" cy="1231.5" rx="3.7" ry="2.7" transform="rotate(0 1496.5 1231.5)"/>
<ellipse cx="1497.2" cy="1197.0" rx="4.2" ry="4.2" transform="rotate(0 1497.2 1197.0)"/>
<ellipse cx="1502.2" cy="1290.8" rx="4.2" ry="3.2" transform="rotate(0 1502.2 1290.8)"/>
<ellipse cx="1588.5" cy="1350.8" rx="4.2" ry="3.7" transform="rotate(0 1588.5 1350.8)"/>
<ellipse cx="1541.0" cy="1332.0" rx="3.2" ry="3.2" transform="rotate(0 1541.0 1332.0)"/>
<ellipse cx="1552.2" cy="1335.8" rx="2.7" ry="3.2" transform="rotate(0 1552.2 1335.8)"/>
<ellipse cx="1359.5" cy="1490.2" rx="3.7" ry="4.7" transform="rotate(0 1359.5 1490.2)"/>
<ellipse cx="1354.0" cy="1562.8" rx="3.7" ry="4.2" transform="rotate(0 1354.0 1562.8)"/>
<ellipse cx="1384.5" cy="1502.8" rx="3.0" ry="2.7" transform="rotate(0 1384.5 1502.8)"/>
<ellipse cx="1032.5" cy="1551.5" rx="3.2" ry="3.2" transform="rotate(0 1032.5 1551.5)"/>
<ellipse cx="1215.5" cy="1475.2" rx="6.2" ry="3.7" transform="rotate(0 1215.5 1475.2)"/>
<ellipse cx="1121.2" cy="1540.2" rx="3.7" ry="2.7" transform="rotate(0 1121.2 1540.2)"/>
<ellipse cx="1359.5" cy="1487.8" rx="2.7" ry="5.2" transform="rotate(0 1359.5 1487.8)"/>
<ellipse cx="1353.8" cy="1550.2" rx="3.7" ry="4.2" transform="rotate(0 1353.8 1550.2)"/>
<ellipse cx="1290.0" cy="1561.5" rx="6.2" ry="2.7" transform="rotate(0 1290.0 1561.5)"/>
<ellipse cx="1086.3" cy="964.7" rx="5.2" ry="4.2" transform="rotate(10 1086.3 964.7)"/>
<ellipse cx="1097.5" cy="965.8" rx="3.2" ry="3.7" transform="rotate(0 1097.5 965.8)"/>
<ellipse cx="1081.2" cy="887.5" rx="4.2" ry="5.7" transform="rotate(10 1081.2 887.5)"/>
<ellipse cx="1048.3" cy="927.5" rx="5.2" ry="6.2" transform="rotate(-20 1048.3 927.5)"/>
<ellipse cx="1029.7" cy="922.5" rx="3.7" ry="4.2" transform="rotate(20 1029.7 922.5)"/>
<ellipse cx="991.7" cy="780.3" rx="4.2" ry="3.7" transform="rotate(0 991.7 780.3)"/>
<ellipse cx="1260.8" cy="1010.0" rx="5.2" ry="4.7" transform="rotate(-30 1260.8 1010.0)"/>
<ellipse cx="1080.8" cy="886.7" rx="4.2" ry="5.2" transform="rotate(10 1080.8 886.7)"/>
<ellipse cx="1042.5" cy="890.8" rx="6.2" ry="6.2" transform="rotate(0 1042.5 890.8)"/>
<ellipse cx="1056.7" cy="881.7" rx="4.2" ry="7.2" transform="rotate(25 1056.7 881.7)"/>
<ellipse cx="1029.2" cy="922.5" rx="3.7" ry="4.2" transform="rotate(0 1029.2 922.5)"/>
<ellipse cx="1048.3" cy="926.7" rx="4.7" ry="5.7" transform="rotate(0 1048.3 926.7)"/>
<ellipse cx="1085.8" cy="964.7" rx="5.2" ry="4.2" transform="rotate(0 1085.8 964.7)"/>
<ellipse cx="1096.7" cy="965.3" rx="3.7" ry="3.7" transform="rotate(0 1096.7 965.3)"/>
<ellipse cx="880.0" cy="1073.0" rx="3.7" ry="3.7" transform="rotate(0 880.0 1073.0)"/>
<ellipse cx="920.0" cy="1117.5" rx="4.7" ry="3.7" transform="rotate(0 920.0 1117.5)"/>
<ellipse cx="931.7" cy="1120.0" rx="3.7" ry="3.2" transform="rotate(0 931.7 1120.0)"/>
<ellipse cx="921.3" cy="1135.0" rx="3.7" ry="3.7" transform="rotate(0 921.3 1135.0)"/>
<ellipse cx="933.3" cy="1135.0" rx="6.2" ry="3.7" transform="rotate(-30 933.3 1135.0)"/>
<ellipse cx="946.7" cy="1137.5" rx="3.2" ry="3.2" transform="rotate(0 946.7 1137.5)"/>
<ellipse cx="996.7" cy="1125.0" rx="3.7" ry="3.7" transform="rotate(0 996.7 1125.0)"/>
<ellipse cx="1020.0" cy="1169.7" rx="6.2" ry="3.7" transform="rotate(30 1020.0 1169.7)"/>
<ellipse cx="880.0" cy="1177.5" rx="4.2" ry="3.2" transform="rotate(0 880.0 1177.5)"/>
<ellipse cx="870.0" cy="1166.3" rx="4.2" ry="3.2" transform="rotate(0 870.0 1166.3)"/>
<ellipse cx="895.0" cy="916.7" rx="5.2" ry="4.2" transform="rotate(0 895.0 916.7)"/>
<ellipse cx="906.7" cy="919.2" rx="5.2" ry="3.7" transform="rotate(-20 906.7 919.2)"/>
<ellipse cx="550.8" cy="923.0" rx="3.7" ry="3.4" transform="rotate(0 550.8 923.0)"/>
<ellipse cx="537.5" cy="1006.7" rx="4.2" ry="4.7" transform="rotate(0 537.5 1006.7)"/>
<ellipse cx="552.5" cy="1016.7" rx="4.7" ry="4.7" transform="rotate(0 552.5 1016.7)"/>
<ellipse cx="529.2" cy="1015.8" rx="4.7" ry="4.2" transform="rotate(0 529.2 1015.8)"/>
<ellipse cx="580.0" cy="1035.0" rx="3.7" ry="3.7" transform="rotate(0 580.0 1035.0)"/>
<ellipse cx="586.7" cy="1035.8" rx="4.2" ry="3.2" transform="rotate(20 586.7 1035.8)"/>
<ellipse cx="626.7" cy="1041.7" rx="3.2" ry="3.7" transform="rotate(0 626.7 1041.7)"/>
<ellipse cx="543.3" cy="986.7" rx="6.2" ry="6.2" transform="rotate(0 543.3 986.7)"/>
<ellipse cx="548.3" cy="990.8" rx="5.2" ry="4.2" transform="rotate(0 548.3 990.8)"/>
<ellipse cx="550.0" cy="1000.8" rx="4.2" ry="4.2" transform="rotate(0 550.0 1000.8)"/>
<ellipse cx="1305.0" cy="1223.7" rx="5.7" ry="5.2" transform="rotate(0 1305.0 1223.7)"/>
<ellipse cx="1287.5" cy="1228.3" rx="3.2" ry="4.2" transform="rotate(-30 1287.5 1228.3)"/>
<ellipse cx="1273.3" cy="1250.8" rx="5.2" ry="4.2" transform="rotate(-30 1273.3 1250.8)"/>
<ellipse cx="1280.8" cy="1257.5" rx="6.2" ry="4.2" transform="rotate(20 1280.8 1257.5)"/>
<ellipse cx="1284.2" cy="1264.2" rx="4.2" ry="3.2" transform="rotate(0 1284.2 1264.2)"/>
<ellipse cx="1261.7" cy="1260.8" rx="4.7" ry="5.7" transform="rotate(0 1261.7 1260.8)"/>
<ellipse cx="1268.3" cy="1179.2" rx="3.2" ry="2.6" transform="rotate(0 1268.3 1179.2)"/>
<ellipse cx="1123.3" cy="1202.8" rx="4.2" ry="2.7" transform="rotate(0 1123.3 1202.8)"/>
<ellipse cx="1285.3" cy="1297.0" rx="3.7" ry="3.0" transform="rotate(0 1285.3 1297.0)"/>
<ellipse cx="1355.0" cy="1309.2" rx="2.7" ry="4.7" transform="rotate(0 1355.0 1309.2)"/>
<ellipse cx="1214.2" cy="1354.2" rx="3.2" ry="4.2" transform="rotate(-20 1214.2 1354.2)"/>
<ellipse cx="1307.5" cy="1350.3" rx="3.2" ry="3.0" transform="rotate(0 1307.5 1350.3)"/>
<ellipse cx="1316.3" cy="1350.5" rx="2.7" ry="2.7" transform="rotate(0 1316.3 1350.5)"/>
<ellipse cx="1435.0" cy="1339.2" rx="5.2" ry="5.2" transform="rotate(0 1435.0 1339.2)"/>
<ellipse cx="1393.3" cy="1380.0" rx="3.2" ry="4.2" transform="rotate(-20 1393.3 1380.0)"/>
<ellipse cx="1375.8" cy="1244.2" rx="6.2" ry="3.2" transform="rotate(-15 1375.8 1244.2)"/>
<ellipse cx="1402.5" cy="1240.0" rx="7.7" ry="4.0" transform="rotate(0 1402.5 1240.0)"/>
<ellipse cx="1233.3" cy="1325.0" rx="4.2" ry="5.2" transform="rotate(0 1233.3 1325.0)"/>
<ellipse cx="1120.8" cy="1265.0" rx="3.7" ry="4.2" transform="rotate(0 1120.8 1265.0)"/>
<ellipse cx="582.0" cy="1203.2" rx="2.8" ry="3.0" transform="rotate(0 582.0 1203.2)"/>
</g>
<g fill="none" stroke="#000" stroke-width="1.2">
<circle cx="1111.8" cy="1195.2" r="1.6"/>
<circle cx="1054.2" cy="1308.2" r="1.6"/>
<circle cx="919.2" cy="1394.5" r="1.6"/>
<circle cx="881.8" cy="1377.0" r="1.6"/>
<circle cx="949.2" cy="1202.5" r="1.6"/>
<circle cx="1117.2" cy="1219.5" r="1.6"/>
<circle cx="1226.5" cy="1066.0" r="1.6"/>
<circle cx="1511.0" cy="1289.0" r="1.6"/>
<circle cx="953.8" cy="1453.5" r="1.6"/>
<circle cx="919.5" cy="1395.2" r="1.6"/>
<circle cx="1054.5" cy="1308.5" r="1.6"/>
<circle cx="1309.0" cy="718.2" r="1.6"/>
<circle cx="1343.5" cy="799.0" r="1.6"/>
<circle cx="1059.5" cy="865.0" r="1.6"/>
<circle cx="1041.7" cy="934.7" r="1.6"/>
<circle cx="1070.0" cy="990.8" r="1.6"/>
<circle cx="1102.5" cy="937.0" r="1.6"/>
<circle cx="1105.8" cy="939.7" r="1.6"/>
<circle cx="1059.7" cy="865.0" r="1.6"/>
<circle cx="1070.0" cy="990.5" r="1.6"/>
<circle cx="1042.0" cy="934.7" r="1.6"/>
<circle cx="932.5" cy="932.8" r="1.6"/>
<circle cx="890.0" cy="913.0" r="1.6"/>
<circle cx="854.7" cy="966.7" r="1.6"/>
<circle cx="825.3" cy="1044.2" r="1.6"/>
<circle cx="837.0" cy="1045.8" r="1.6"/>
<circle cx="864.7" cy="1063.3" r="1.6"/>
<circle cx="895.0" cy="1110.5" r="1.6"/>
<circle cx="903.3" cy="1111.3" r="1.6"/>
<circle cx="935.8" cy="1118.0" r="1.6"/>
<circle cx="939.7" cy="1118.7" r="1.6"/>
<circle cx="950.3" cy="1118.0" r="1.6"/>
<circle cx="953.3" cy="1118.3" r="1.6"/>
<circle cx="1047.5" cy="1063.0" r="1.6"/>
<circle cx="1055.8" cy="1077.5" r="1.6"/>
<circle cx="1017.5" cy="1133.3" r="1.6"/>
<circle cx="939.7" cy="1132.0" r="1.6"/>
<circle cx="633.0" cy="1041.3" r="1.6"/>
<circle cx="494.2" cy="1070.0" r="1.6"/>
<circle cx="558.7" cy="1005.3" r="1.6"/>
<circle cx="584.2" cy="1026.7" r="1.6"/>
<circle cx="555.3" cy="933.7" r="1.6"/>
<circle cx="562.0" cy="945.3" r="1.6"/>
<circle cx="568.7" cy="942.0" r="1.6"/>
<circle cx="510.0" cy="1032.5" r="1.6"/>
<circle cx="580.8" cy="1200.8" r="1.6"/>
<circle cx="1278.7" cy="1242.5" r="1.6"/>
<circle cx="1367.5" cy="1307.5" r="1.6"/>
<circle cx="1303.3" cy="1344.5" r="1.6"/>
<circle cx="1425.0" cy="1328.3" r="1.6"/>
<circle cx="1427.5" cy="1328.3" r="1.6"/>
<circle cx="1358.7" cy="1255.0" r="1.6"/>
<circle cx="1390.8" cy="1241.3" r="1.6"/>
<circle cx="1383.0" cy="1243.0" r="1.6"/>
<circle cx="1181.7" cy="1181.7" r="1.6"/>
<circle cx="1228.0" cy="1181.3" r="1.6"/>
<circle cx="1144.2" cy="1113.3" r="1.6"/>
<circle cx="1145.8" cy="1153.0" r="1.6"/>
<circle cx="1395.0" cy="1383.7" r="1.6"/>
</g>
</g>
<rect x="250" y="489" width="1550" height="1083" fill="none" stroke="#000" stroke-width="2"/>
<text x="1025" y="473" font-size="55.56" font-weight="bold" text-anchor="middle">2018</text>
<rect x="534.50" y="1726.0" width="17.11" height="53.6" fill="#6d0220"/>
<rect x="551.12" y="1726.0" width="17.11" height="53.6" fill="#790622"/>
<rect x="567.73" y="1726.0" width="17.11" height="53.6" fill="#840924"/>
<rect x="584.35" y="1726.0" width="17.11" height="53.6" fill="#930e26"/>
<rect x="600.96" y="1726.0" width="17.11" height="53.6" fill="#9f1228"/>
<rect x="617.58" y="1726.0" width="17.11" height="53.6" fill="#ab162a"/>
<rect x="634.19" y="1726.0" width="17.11" height="53.6" fill="#b61f2e"/>
<rect x="650.80" y="1726.0" width="17.11" height="53.6" fill="#bb2a34"/>
<rect x="667.42" y="1726.0" width="17.11" height="53.6" fill="#c13639"/>
<rect x="684.03" y="1726.0" width="17.11" height="53.6" fill="#c84440"/>
<rect x="700.65" y="1726.0" width="17.11" height="53.6" fill="#ce4f45"/>
<rect x="717.26" y="1726.0" width="17.11" height="53.6" fill="#d35a4a"/>
<rect x="733.88" y="1726.0" width="17.11" height="53.6" fill="#da6853"/>
<rect x="750.50" y="1726.0" width="17.11" height="53.6" fill="#de735c"/>
<rect x="767.11" y="1726.0" width="17.11" height="53.6" fill="#e37e64"/>
<rect x="783.72" y="1726.0" width="17.11" height="53.6" fill="#e98b6e"/>
<rect x="800.34" y="1726.0" width="17.11" height="53.6" fill="#ee9677"/>
<rect x="816.95" y="1726.0" width="17.11" height="53.6" fill="#f2a17f"/>
<rect x="833.57" y="1726.0" width="17.11" height="53.6" fill="#f5ac8b"/>
<rect x="850.18" y="1726.0" width="17.11" height="53.6" fill="#f7b596"/>
<rect x="866.80" y="1726.0" width="17.11" height="53.6" fill="#f8bda1"/>
<rect x="883.41" y="1726.0" width="17.11" height="53.6" fill="#fac8af"/>
<rect x="900.03" y="1726.0" width="17.11" height="53.6" fill="#fbd0b9"/>
<rect x="916.64" y="1726.0" width="17.11" height="53.6" fill="#fdd9c4"/>
<rect x="933.26" y="1726.0" width="17.11" height="53.6" fill="#fcdfcf"/>
<rect x="949.88" y="1726.0" width="17.11" height="53.6" fill="#fbe4d6"/>
<rect x="966.49" y="1726.0" width="17.11" height="53.6" fill="#fae8de"/>
<rect x="983.11" y="1726.0" width="17.11" height="53.6" fill="#f9eee7"/>
<rect x="999.72" y="1726.0" width="17.11" height="53.6" fill="#f8f2ef"/>
<rect x="1016.34" y="1726.0" width="17.11" height="53.6" fill="#f6f7f7"/>
<rect x="1032.95" y="1726.0" width="17.11" height="53.6" fill="#f0f4f6"/>
<rect x="1049.57" y="1726.0" width="17.11" height="53.6" fill="#eaf1f5"/>
<rect x="1066.18" y="1726.0" width="17.11" height="53.6" fill="#e3edf3"/>
<rect x="1082.80" y="1726.0" width="17.11" height="53.6" fill="#ddebf2"/>
<rect x="1099.41" y="1726.0" width="17.11" height="53.6" fill="#d7e8f1"/>
<rect x="1116.03" y="1726.0" width="17.11" height="53.6" fill="#cfe4ef"/>
<rect x="1132.64" y="1726.0" width="17.11" height="53.6" fill="#c5dfec"/>
<rect x="1149.26" y="1726.0" width="17.11" height="53.6" fill="#bbdaea"/>
<rect x="1165.87" y="1726.0" width="17.11" height="53.6" fill="#aed3e6"/>
<rect x="1182.48" y="1726.0" width="17.11" height="53.6" fill="#a5cee3"/>
<rect x="1199.10" y="1726.0" width="17.11" height="53.6" fill="#9bc9e0"/>
<rect x="1215.71" y="1726.0" width="17.11" height="53.6" fill="#8dc2dc"/>
<rect x="1232.33" y="1726.0" width="17.11" height="53.6" fill="#81bad8"/>
<rect x="1248.94" y="1726.0" width="17.11" height="53.6" fill="#75b2d4"/>
<rect x="1265.56" y="1726.0" width="17.11" height="53.6" fill="#65a9cf"/>
<rect x="1282.17" y="1726.0" width="17.11" height="53.6" fill="#59a1ca"/>
<rect x="1298.79" y="1726.0" width="17.11" height="53.6" fill="#4c99c6"/>
<rect x="1315.40" y="1726.0" width="17.11" height="53.6" fill="#408fc1"/>
<rect x="1332.02" y="1726.0" width="17.11" height="53.6" fill="#3b88be"/>
<rect x="1348.63" y="1726.0" width="17.11" height="53.6" fill="#3681ba"/>
<rect x="1365.25" y="1726.0" width="17.11" height="53.6" fill="#2f79b5"/>
<rect x="1381.86" y="1726.0" width="17.11" height="53.6" fill="#2a71b2"/>
<rect x="1398.48" y="1726.0" width="17.11" height="53.6" fill="#246aae"/>
<rect x="1415.09" y="1726.0" width="17.11" height="53.6" fill="#1e61a5"/>
<rect x="1431.71" y="1726.0" width="17.11" height="53.6" fill="#1a5899"/>
<rect x="1448.32" y="1726.0" width="17.11" height="53.6" fill="#15508d"/>
<rect x="1464.94" y="1726.0" width="17.11" height="53.6" fill="#10457e"/>
<rect x="1481.55" y="1726.0" width="17.11" height="53.6" fill="#0c3d73"/>
<rect x="1498.17" y="1726.0" width="17.11" height="53.6" fill="#073467"/>
<path d="M535.3,1726.0 L485.5,1752.8 L535.3,1779.6Z" fill="#67001f"/>
<path d="M1514.0,1726.0 L1563.8,1752.8 L1514.0,1779.6Z" fill="#053061"/>
<path d="M534.5,1726.0 L1514.8,1726.0 L1563.8,1752.8 L1514.8,1779.6 L534.5,1779.6 L485.5,1752.8Z" fill="none" stroke="#000" stroke-width="2.2" stroke-linejoin="miter"/>
<g stroke="#000">
<line x1="534.5" y1="1779.6" x2="534.5" y2="1790.4" stroke-width="2.2"/>
<line x1="551.1" y1="1779.6" x2="551.1" y2="1786.2" stroke-width="1.7"/>
<line x1="567.7" y1="1779.6" x2="567.7" y2="1786.2" stroke-width="1.7"/>
<line x1="584.3" y1="1779.6" x2="584.3" y2="1786.2" stroke-width="1.7"/>
<line x1="601.0" y1="1779.6" x2="601.0" y2="1786.2" stroke-width="1.7"/>
<line x1="617.6" y1="1779.6" x2="617.6" y2="1786.2" stroke-width="1.7"/>
<line x1="634.2" y1="1779.6" x2="634.2" y2="1790.4" stroke-width="2.2"/>
<line x1="650.8" y1="1779.6" x2="650.8" y2="1786.2" stroke-width="1.7"/>
<line x1="667.4" y1="1779.6" x2="667.4" y2="1786.2" stroke-width="1.7"/>
<line x1="684.0" y1="1779.6" x2="684.0" y2="1786.2" stroke-width="1.7"/>
<line x1="700.6" y1="1779.6" x2="700.6" y2="1786.2" stroke-width="1.7"/>
<line x1="717.3" y1="1779.6" x2="717.3" y2="1786.2" stroke-width="1.7"/>
<line x1="733.9" y1="1779.6" x2="733.9" y2="1790.4" stroke-width="2.2"/>
<line x1="750.5" y1="1779.6" x2="750.5" y2="1786.2" stroke-width="1.7"/>
<line x1="767.1" y1="1779.6" x2="767.1" y2="1786.2" stroke-width="1.7"/>
<line x1="783.7" y1="1779.6" x2="783.7" y2="1786.2" stroke-width="1.7"/>
<line x1="800.3" y1="1779.6" x2="800.3" y2="1786.2" stroke-width="1.7"/>
<line x1="817.0" y1="1779.6" x2="817.0" y2="1786.2" stroke-width="1.7"/>
<line x1="833.6" y1="1779.6" x2="833.6" y2="1790.4" stroke-width="2.2"/>
<line x1="850.2" y1="1779.6" x2="850.2" y2="1786.2" stroke-width="1.7"/>
<line x1="866.8" y1="1779.6" x2="866.8" y2="1786.2" stroke-width="1.7"/>
<line x1="883.4" y1="1779.6" x2="883.4" y2="1786.2" stroke-width="1.7"/>
<line x1="900.0" y1="1779.6" x2="900.0" y2="1786.2" stroke-width="1.7"/>
<line x1="916.6" y1="1779.6" x2="916.6" y2="1786.2" stroke-width="1.7"/>
<line x1="933.3" y1="1779.6" x2="933.3" y2="1790.4" stroke-width="2.2"/>
<line x1="949.9" y1="1779.6" x2="949.9" y2="1786.2" stroke-width="1.7"/>
<line x1="966.5" y1="1779.6" x2="966.5" y2="1786.2" stroke-width="1.7"/>
<line x1="983.1" y1="1779.6" x2="983.1" y2="1786.2" stroke-width="1.7"/>
<line x1="999.7" y1="1779.6" x2="999.7" y2="1786.2" stroke-width="1.7"/>
<line x1="1016.3" y1="1779.6" x2="1016.3" y2="1786.2" stroke-width="1.7"/>
<line x1="1032.9" y1="1779.6" x2="1032.9" y2="1790.4" stroke-width="2.2"/>
<line x1="1049.6" y1="1779.6" x2="1049.6" y2="1786.2" stroke-width="1.7"/>
<line x1="1066.2" y1="1779.6" x2="1066.2" y2="1786.2" stroke-width="1.7"/>
<line x1="1082.8" y1="1779.6" x2="1082.8" y2="1786.2" stroke-width="1.7"/>
<line x1="1099.4" y1="1779.6" x2="1099.4" y2="1786.2" stroke-width="1.7"/>
<line x1="1116.0" y1="1779.6" x2="1116.0" y2="1786.2" stroke-width="1.7"/>
<line x1="1132.6" y1="1779.6" x2="1132.6" y2="1790.4" stroke-width="2.2"/>
<line x1="1149.3" y1="1779.6" x2="1149.3" y2="1786.2" stroke-width="1.7"/>
<line x1="1165.9" y1="1779.6" x2="1165.9" y2="1786.2" stroke-width="1.7"/>
<line x1="1182.5" y1="1779.6" x2="1182.5" y2="1786.2" stroke-width="1.7"/>
<line x1="1199.1" y1="1779.6" x2="1199.1" y2="1786.2" stroke-width="1.7"/>
<line x1="1215.7" y1="1779.6" x2="1215.7" y2="1786.2" stroke-width="1.7"/>
<line x1="1232.3" y1="1779.6" x2="1232.3" y2="1790.4" stroke-width="2.2"/>
<line x1="1248.9" y1="1779.6" x2="1248.9" y2="1786.2" stroke-width="1.7"/>
<line x1="1265.6" y1="1779.6" x2="1265.6" y2="1786.2" stroke-width="1.7"/>
<line x1="1282.2" y1="1779.6" x2="1282.2" y2="1786.2" stroke-width="1.7"/>
<line x1="1298.8" y1="1779.6" x2="1298.8" y2="1786.2" stroke-width="1.7"/>
<line x1="1315.4" y1="1779.6" x2="1315.4" y2="1786.2" stroke-width="1.7"/>
<line x1="1332.0" y1="1779.6" x2="1332.0" y2="1790.4" stroke-width="2.2"/>
<line x1="1348.6" y1="1779.6" x2="1348.6" y2="1786.2" stroke-width="1.7"/>
<line x1="1365.2" y1="1779.6" x2="1365.2" y2="1786.2" stroke-width="1.7"/>
<line x1="1381.9" y1="1779.6" x2="1381.9" y2="1786.2" stroke-width="1.7"/>
<line x1="1398.5" y1="1779.6" x2="1398.5" y2="1786.2" stroke-width="1.7"/>
<line x1="1415.1" y1="1779.6" x2="1415.1" y2="1786.2" stroke-width="1.7"/>
<line x1="1431.7" y1="1779.6" x2="1431.7" y2="1790.4" stroke-width="2.2"/>
<line x1="1448.3" y1="1779.6" x2="1448.3" y2="1786.2" stroke-width="1.7"/>
<line x1="1464.9" y1="1779.6" x2="1464.9" y2="1786.2" stroke-width="1.7"/>
<line x1="1481.6" y1="1779.6" x2="1481.6" y2="1786.2" stroke-width="1.7"/>
<line x1="1498.2" y1="1779.6" x2="1498.2" y2="1786.2" stroke-width="1.7"/>
<line x1="1514.8" y1="1779.6" x2="1514.8" y2="1790.4" stroke-width="2.2"/>
</g>
<text x="534.5" y="1829" font-size="38.89" text-anchor="middle">−30</text>
<text x="634.2" y="1829" font-size="38.89" text-anchor="middle">−24</text>
<text x="733.9" y="1829" font-size="38.89" text-anchor="middle">−18</text>
<text x="833.6" y="1829" font-size="38.89" text-anchor="middle">−12</text>
<text x="933.3" y="1829" font-size="38.89" text-anchor="middle">−6</text>
<text x="1032.9" y="1829" font-size="38.89" text-anchor="middle">0</text>
<text x="1132.6" y="1829" font-size="38.89" text-anchor="middle">6</text>
<text x="1232.3" y="1829" font-size="38.89" text-anchor="middle">12</text>
<text x="1332.0" y="1829" font-size="38.89" text-anchor="middle">18</text>
<text x="1431.7" y="1829" font-size="38.89" text-anchor="middle">24</text>
<text x="1514.8" y="1829" font-size="38.89" text-anchor="middle">30</text>
<text x="1025" y="1883" font-size="44.44" text-anchor="middle">Days</text>
</svg></body></html>
